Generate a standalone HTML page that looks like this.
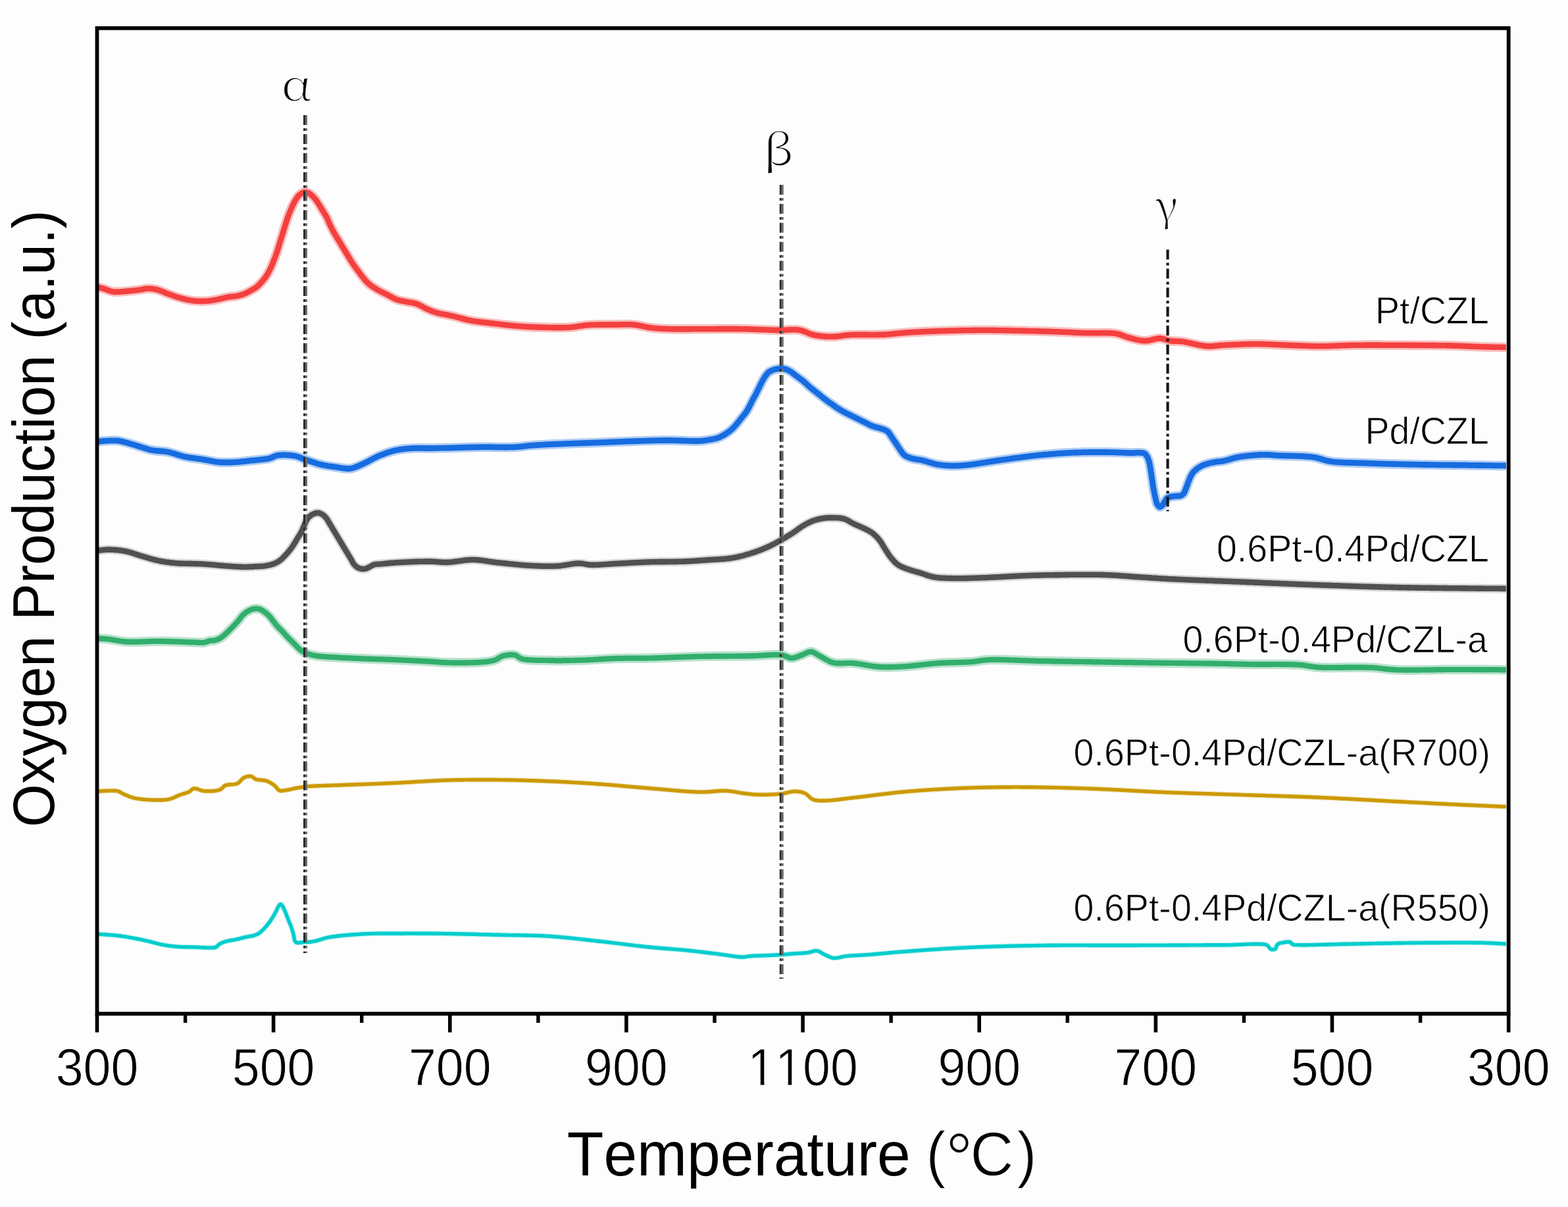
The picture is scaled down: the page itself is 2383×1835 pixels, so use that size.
<!DOCTYPE html>
<html><head><meta charset="utf-8"><title>Oxygen Production vs Temperature</title>
<style>
html,body{margin:0;padding:0;background:#fdfdfd;overflow:hidden;}
svg{display:block;}
text{font-kerning:none;font-feature-settings:"kern" 0;}
.sans{font-family:"Liberation Sans",Arial,sans-serif;}
.serif{font-family:"Liberation Serif","Times New Roman",serif;}
.greek{font-family:"Noto Serif CJK SC","Liberation Serif",serif;}
</style></head>
<body>
<svg width="2383" height="1835" viewBox="0 0 2383 1835">
<rect x="0" y="0" width="2383" height="1835" fill="#fdfdfd"/>
<g id="curves">
<path d="M149.0,436.4 L149.9,436.7 L152.2,437.3 L155.0,438.2 L157.8,439.0 L159.6,439.6 L161.5,440.3 L163.5,441.1 L165.5,441.8 L167.6,442.5 L169.8,443.1 L172.0,443.5 L174.0,443.7 L176.0,443.8 L178.2,443.8 L180.4,443.7 L182.6,443.6 L184.8,443.4 L187.1,443.2 L189.3,443.0 L191.4,442.8 L193.5,442.6 L195.8,442.4 L198.0,442.2 L200.3,442.0 L202.5,441.8 L204.6,441.6 L206.8,441.3 L208.9,441.1 L211.0,440.8 L213.2,440.5 L215.3,440.1 L217.4,439.7 L219.4,439.3 L221.5,439.0 L223.5,438.8 L225.6,438.7 L227.7,438.8 L229.7,438.9 L231.8,439.1 L233.9,439.5 L235.9,439.8 L238.0,440.3 L240.0,440.8 L242.0,441.4 L244.0,442.1 L245.9,442.9 L247.9,443.7 L249.9,444.6 L251.9,445.4 L254.0,446.2 L255.9,446.9 L257.8,447.6 L259.8,448.3 L261.8,449.0 L263.8,449.8 L265.8,450.5 L267.9,451.1 L269.9,451.8 L272.0,452.4 L273.9,452.9 L275.8,453.5 L277.8,454.0 L279.8,454.5 L281.7,455.0 L283.7,455.5 L285.7,455.9 L287.7,456.3 L289.6,456.6 L291.6,456.9 L293.8,457.2 L295.9,457.4 L298.1,457.6 L300.3,457.7 L302.5,457.8 L304.7,457.9 L306.8,457.9 L308.9,457.9 L311.0,457.8 L313.1,457.7 L315.1,457.6 L317.1,457.4 L319.0,457.2 L321.0,456.9 L323.0,456.6 L325.0,456.3 L327.0,456.0 L329.0,455.6 L330.9,455.2 L332.9,454.8 L335.0,454.3 L337.0,453.8 L339.0,453.3 L341.0,452.8 L343.0,452.4 L345.0,452.0 L347.2,451.6 L349.4,451.3 L351.7,451.0 L353.9,450.7 L356.1,450.5 L358.2,450.2 L360.2,449.9 L362.0,449.5 L364.4,449.0 L366.5,448.4 L368.6,447.8 L370.7,447.0 L372.8,446.1 L375.0,445.1 L377.2,443.9 L379.3,442.7 L381.4,441.6 L383.2,440.6 L385.0,439.6 L386.7,438.6 L388.3,437.5 L390.0,436.3 L391.5,435.0 L393.0,433.7 L394.4,432.2 L395.8,430.7 L397.2,429.2 L398.5,427.7 L399.9,426.1 L401.2,424.4 L402.5,422.8 L403.8,421.0 L405.0,419.2 L406.1,417.4 L407.2,415.5 L408.3,413.5 L409.4,411.5 L410.4,409.4 L411.4,407.4 L412.4,405.3 L413.3,403.1 L414.2,401.0 L415.0,398.8 L415.9,396.6 L416.7,394.5 L417.5,392.5 L418.2,390.6 L418.9,388.7 L419.6,386.8 L420.3,384.8 L421.0,382.8 L421.6,380.9 L422.3,378.9 L422.9,376.9 L423.5,374.9 L424.1,372.8 L424.7,370.8 L425.3,368.8 L425.9,366.8 L426.5,364.8 L427.1,362.8 L427.8,360.9 L428.4,358.9 L429.0,356.9 L429.6,354.9 L430.2,352.9 L430.8,350.9 L431.4,348.9 L432.1,346.9 L432.7,344.9 L433.3,343.0 L433.9,341.0 L434.6,338.8 L435.3,336.7 L435.9,334.6 L436.6,332.4 L437.3,330.3 L438.1,328.2 L438.9,326.0 L439.8,323.8 L440.7,321.7 L441.6,319.5 L442.6,317.4 L443.5,315.3 L444.5,313.0 L445.6,310.8 L446.6,308.7 L447.7,306.6 L448.8,304.6 L450.1,302.5 L451.4,300.6 L452.7,298.7 L454.2,297.1 L456.3,295.3 L458.5,293.8 L460.6,292.8 L462.7,292.3 L464.9,292.3 L466.8,292.7 L468.8,293.5 L470.7,294.5 L472.3,295.7 L474.0,297.1 L475.6,298.6 L477.1,300.3 L478.4,301.9 L479.7,303.5 L481.0,305.3 L482.3,307.1 L483.5,308.9 L484.6,310.6 L485.7,312.4 L486.8,314.2 L487.9,316.0 L488.9,317.8 L490.0,319.6 L491.1,321.4 L492.2,323.1 L493.3,324.9 L494.4,326.7 L495.4,328.5 L496.4,330.3 L497.4,332.2 L498.2,334.2 L499.1,336.2 L500.0,338.2 L500.8,340.2 L501.7,342.1 L502.7,344.3 L503.8,346.4 L504.9,348.6 L506.0,350.7 L507.1,352.8 L508.1,354.6 L509.2,356.4 L510.2,358.2 L511.3,359.9 L512.4,361.7 L513.5,363.5 L514.6,365.3 L515.6,367.1 L516.7,368.9 L517.8,370.6 L518.8,372.4 L519.9,374.2 L521.0,376.0 L522.1,377.8 L523.1,379.5 L524.2,381.3 L525.3,383.1 L526.4,384.9 L527.5,386.7 L528.5,388.5 L529.6,390.3 L530.7,392.1 L531.7,393.9 L532.8,395.6 L534.1,397.6 L535.3,399.5 L536.6,401.4 L537.9,403.3 L539.2,405.2 L540.5,407.0 L541.7,408.7 L543.0,410.4 L544.3,412.1 L545.6,413.8 L546.9,415.5 L548.1,417.3 L549.4,419.0 L550.7,420.7 L552.0,422.4 L553.6,424.3 L555.1,426.2 L556.8,428.0 L558.5,429.8 L560.1,431.2 L561.7,432.5 L563.4,433.8 L565.2,435.1 L567.0,436.3 L568.7,437.4 L570.4,438.5 L572.2,439.6 L574.1,440.7 L575.9,441.7 L577.7,442.7 L579.8,443.8 L581.9,444.8 L584.0,445.9 L586.2,446.9 L588.4,448.0 L590.1,448.9 L591.9,449.9 L593.7,450.9 L595.5,451.9 L597.4,452.9 L599.2,453.9 L601.1,454.8 L603.0,455.5 L605.1,456.2 L607.2,456.7 L609.3,457.2 L611.5,457.6 L613.6,458.0 L615.8,458.4 L617.9,458.8 L620.0,459.2 L622.1,459.6 L624.3,459.9 L626.4,460.3 L628.5,460.7 L630.6,461.2 L632.7,461.8 L634.6,462.5 L636.5,463.4 L638.3,464.3 L640.2,465.3 L642.0,466.3 L643.9,467.3 L645.7,468.3 L647.6,469.2 L649.7,470.1 L651.7,471.0 L653.7,471.9 L655.7,472.7 L657.8,473.6 L660.1,474.3 L662.4,475.1 L664.2,475.6 L666.2,476.1 L668.2,476.6 L670.2,477.0 L672.3,477.4 L674.4,477.8 L676.6,478.2 L678.8,478.6 L681.0,479.0 L683.2,479.5 L685.3,479.9 L687.5,480.4 L689.4,480.9 L691.4,481.3 L693.3,481.8 L695.3,482.4 L697.2,482.9 L699.2,483.4 L701.2,484.0 L703.1,484.5 L705.1,485.0 L707.1,485.5 L709.1,486.0 L711.0,486.5 L713.0,486.9 L715.0,487.3 L717.1,487.7 L719.1,488.0 L721.2,488.3 L723.2,488.6 L725.3,488.9 L727.3,489.2 L729.4,489.4 L731.4,489.7 L733.5,489.9 L735.7,490.1 L737.9,490.4 L740.1,490.6 L742.4,490.9 L744.3,491.1 L746.2,491.4 L748.1,491.6 L750.1,491.8 L752.1,492.1 L754.1,492.3 L756.2,492.6 L758.3,492.8 L760.4,493.1 L762.5,493.3 L764.6,493.6 L766.7,493.8 L768.8,494.1 L771.0,494.3 L773.1,494.5 L775.2,494.7 L777.3,494.9 L779.4,495.1 L781.5,495.3 L783.6,495.5 L785.7,495.7 L787.7,495.8 L789.8,496.0 L791.8,496.1 L793.9,496.3 L796.0,496.4 L798.0,496.5 L800.1,496.7 L802.1,496.8 L804.2,496.9 L806.3,497.0 L808.3,497.1 L810.4,497.2 L812.4,497.3 L814.5,497.4 L816.6,497.4 L818.6,497.5 L820.7,497.6 L822.7,497.6 L824.8,497.7 L826.9,497.8 L829.0,497.8 L831.1,497.9 L833.2,497.9 L835.3,498.0 L837.4,498.0 L839.6,498.0 L841.7,498.1 L843.8,498.1 L845.9,498.1 L848.0,498.1 L850.1,498.1 L852.2,498.1 L854.3,498.1 L856.3,498.1 L858.3,498.0 L860.3,498.0 L862.2,497.9 L864.1,497.8 L866.0,497.7 L868.3,497.5 L870.5,497.3 L872.6,497.1 L874.7,496.8 L876.7,496.5 L878.7,496.1 L880.8,495.8 L882.8,495.5 L884.8,495.2 L886.9,494.9 L889.0,494.6 L891.2,494.4 L893.5,494.2 L895.4,494.1 L897.3,494.0 L899.3,493.9 L901.3,493.8 L903.4,493.8 L905.5,493.7 L907.6,493.7 L909.8,493.6 L911.9,493.6 L914.1,493.6 L916.3,493.6 L918.4,493.6 L920.6,493.6 L922.7,493.6 L924.8,493.6 L926.9,493.6 L928.9,493.6 L930.9,493.6 L932.8,493.6 L934.7,493.6 L937.0,493.6 L939.2,493.5 L941.4,493.5 L943.6,493.4 L945.7,493.4 L947.8,493.3 L949.8,493.3 L951.9,493.2 L953.9,493.2 L956.0,493.3 L958.0,493.3 L960.1,493.4 L962.2,493.6 L964.3,493.8 L966.4,494.1 L968.6,494.4 L970.7,494.8 L972.8,495.2 L974.9,495.6 L977.0,496.0 L979.1,496.5 L981.2,496.9 L983.4,497.3 L985.5,497.7 L987.6,498.0 L989.7,498.3 L991.8,498.5 L993.8,498.8 L995.8,499.0 L997.8,499.1 L999.8,499.3 L1001.8,499.5 L1003.8,499.6 L1005.8,499.7 L1007.9,499.8 L1010.0,499.9 L1012.3,500.0 L1014.6,500.1 L1017.0,500.2 L1018.7,500.3 L1020.5,500.3 L1022.3,500.3 L1024.1,500.4 L1026.0,500.4 L1027.9,500.4 L1029.9,500.4 L1031.9,500.4 L1033.9,500.4 L1036.0,500.4 L1038.0,500.4 L1040.1,500.4 L1042.2,500.4 L1044.4,500.4 L1046.5,500.4 L1048.7,500.4 L1050.8,500.3 L1053.0,500.3 L1055.1,500.3 L1057.3,500.3 L1059.4,500.3 L1061.5,500.2 L1063.7,500.2 L1065.8,500.2 L1067.9,500.2 L1070.0,500.2 L1072.0,500.2 L1074.0,500.2 L1076.1,500.2 L1078.1,500.2 L1080.1,500.2 L1082.2,500.2 L1084.2,500.2 L1086.3,500.2 L1088.3,500.1 L1090.3,500.1 L1092.4,500.1 L1094.4,500.1 L1096.4,500.1 L1098.5,500.1 L1100.5,500.1 L1102.6,500.1 L1104.6,500.1 L1106.6,500.1 L1108.7,500.1 L1110.7,500.1 L1112.7,500.1 L1114.8,500.1 L1116.8,500.1 L1118.9,500.1 L1120.9,500.1 L1122.9,500.1 L1125.0,500.2 L1127.0,500.2 L1129.0,500.2 L1131.1,500.3 L1133.2,500.3 L1135.3,500.4 L1137.4,500.4 L1139.5,500.5 L1141.6,500.6 L1143.7,500.6 L1145.9,500.7 L1148.0,500.8 L1150.1,500.9 L1152.2,500.9 L1154.3,501.0 L1156.4,501.1 L1158.5,501.2 L1160.6,501.3 L1162.7,501.3 L1164.7,501.4 L1166.7,501.5 L1168.7,501.6 L1170.7,501.6 L1172.7,501.7 L1174.6,501.7 L1176.5,501.8 L1178.4,501.8 L1180.2,501.9 L1182.0,501.9 L1184.3,501.9 L1186.6,501.9 L1188.8,501.8 L1191.0,501.8 L1193.2,501.7 L1195.3,501.6 L1197.4,501.5 L1199.5,501.4 L1201.5,501.3 L1203.5,501.2 L1205.5,501.2 L1207.5,501.3 L1209.4,501.3 L1211.3,501.4 L1213.2,501.6 L1215.0,501.9 L1217.2,502.3 L1219.3,502.9 L1221.3,503.6 L1223.2,504.3 L1225.2,505.1 L1227.1,505.9 L1229.0,506.7 L1230.9,507.5 L1232.9,508.2 L1234.9,508.8 L1237.0,509.3 L1238.9,509.7 L1240.9,510.0 L1242.9,510.3 L1244.9,510.6 L1247.0,510.9 L1249.0,511.1 L1251.1,511.3 L1253.2,511.4 L1255.3,511.6 L1257.4,511.7 L1259.5,511.7 L1261.6,511.8 L1263.6,511.8 L1265.6,511.8 L1267.8,511.7 L1269.9,511.6 L1271.9,511.4 L1273.9,511.2 L1276.0,511.0 L1278.0,510.7 L1280.0,510.4 L1282.1,510.1 L1284.3,509.8 L1286.5,509.6 L1288.9,509.4 L1291.3,509.2 L1293.0,509.1 L1294.8,509.0 L1296.7,509.0 L1298.6,508.9 L1300.6,508.9 L1302.6,508.9 L1304.6,508.9 L1306.7,508.9 L1308.8,508.9 L1310.9,508.9 L1313.1,508.9 L1315.2,508.9 L1317.4,508.9 L1319.6,509.0 L1321.8,509.0 L1324.0,509.0 L1326.1,509.0 L1328.3,509.0 L1330.4,509.0 L1332.5,509.0 L1334.6,508.9 L1336.7,508.9 L1338.7,508.8 L1340.7,508.8 L1342.6,508.7 L1344.7,508.6 L1346.8,508.5 L1348.9,508.3 L1350.9,508.2 L1352.9,508.0 L1354.8,507.8 L1356.7,507.6 L1358.7,507.4 L1360.6,507.2 L1362.5,507.0 L1364.4,506.8 L1366.4,506.6 L1368.3,506.5 L1370.3,506.3 L1372.4,506.1 L1374.4,505.9 L1376.6,505.7 L1378.8,505.6 L1381.0,505.4 L1382.8,505.3 L1384.6,505.2 L1386.4,505.1 L1388.3,505.0 L1390.2,504.9 L1392.1,504.8 L1394.0,504.7 L1396.0,504.6 L1398.0,504.5 L1400.0,504.4 L1402.1,504.3 L1404.1,504.2 L1406.2,504.1 L1408.2,504.0 L1410.3,504.0 L1412.4,503.9 L1414.5,503.8 L1416.6,503.7 L1418.7,503.6 L1420.8,503.6 L1422.9,503.5 L1425.0,503.4 L1427.0,503.3 L1429.1,503.3 L1431.2,503.2 L1433.2,503.1 L1435.2,503.1 L1437.2,503.0 L1439.2,503.0 L1441.2,502.9 L1443.1,502.9 L1445.0,502.8 L1447.2,502.7 L1449.3,502.7 L1451.4,502.6 L1453.5,502.6 L1455.6,502.5 L1457.7,502.5 L1459.8,502.4 L1461.9,502.4 L1463.9,502.3 L1466.0,502.3 L1468.0,502.3 L1470.0,502.2 L1472.1,502.2 L1474.1,502.2 L1476.1,502.1 L1478.1,502.1 L1480.2,502.1 L1482.2,502.1 L1484.2,502.0 L1486.2,502.0 L1488.2,502.0 L1490.3,502.0 L1492.3,502.0 L1494.3,502.0 L1496.4,502.0 L1498.5,502.0 L1500.5,502.0 L1502.6,502.0 L1504.6,502.0 L1506.7,502.0 L1508.7,502.1 L1510.8,502.1 L1512.8,502.1 L1514.9,502.1 L1516.9,502.2 L1519.0,502.2 L1521.0,502.3 L1523.1,502.3 L1525.1,502.3 L1527.2,502.4 L1529.2,502.4 L1531.3,502.5 L1533.3,502.5 L1535.4,502.5 L1537.4,502.6 L1539.5,502.6 L1541.5,502.7 L1543.6,502.7 L1545.6,502.8 L1547.7,502.8 L1549.8,502.8 L1551.8,502.9 L1553.9,502.9 L1555.9,503.0 L1558.0,503.0 L1560.0,503.1 L1562.1,503.1 L1564.1,503.2 L1566.2,503.2 L1568.2,503.2 L1570.3,503.3 L1572.3,503.3 L1574.4,503.4 L1576.4,503.4 L1578.5,503.5 L1580.5,503.6 L1582.6,503.6 L1584.6,503.7 L1586.7,503.7 L1588.8,503.8 L1590.8,503.8 L1592.9,503.9 L1594.9,504.0 L1597.0,504.0 L1599.0,504.1 L1601.0,504.2 L1603.1,504.2 L1605.1,504.3 L1607.2,504.4 L1609.2,504.5 L1611.3,504.6 L1613.4,504.7 L1615.4,504.8 L1617.5,504.8 L1619.5,504.9 L1621.6,505.0 L1623.6,505.1 L1625.7,505.2 L1627.7,505.3 L1629.8,505.4 L1631.8,505.5 L1633.9,505.6 L1635.9,505.7 L1637.9,505.8 L1640.0,505.8 L1642.0,505.9 L1644.0,506.0 L1646.0,506.1 L1648.0,506.1 L1650.0,506.2 L1652.1,506.3 L1654.2,506.3 L1656.3,506.3 L1658.5,506.3 L1660.6,506.3 L1662.8,506.3 L1665.0,506.3 L1667.2,506.2 L1669.3,506.2 L1671.5,506.2 L1673.7,506.2 L1675.8,506.1 L1677.9,506.1 L1680.0,506.1 L1682.0,506.2 L1684.0,506.2 L1685.9,506.3 L1687.8,506.3 L1689.7,506.5 L1691.5,506.6 L1693.2,506.8 L1694.8,507.0 L1696.4,507.2 L1698.8,507.7 L1700.9,508.2 L1702.9,508.9 L1704.8,509.6 L1706.7,510.3 L1708.5,511.0 L1710.3,511.7 L1712.3,512.4 L1714.4,513.0 L1716.2,513.5 L1718.1,514.0 L1720.0,514.5 L1722.0,515.0 L1724.0,515.6 L1726.0,516.1 L1728.0,516.5 L1730.0,517.0 L1732.1,517.4 L1734.1,517.7 L1736.1,517.9 L1738.1,518.1 L1740.0,518.2 L1742.2,518.1 L1744.3,517.9 L1746.5,517.5 L1748.6,517.1 L1750.8,516.5 L1752.9,516.0 L1755.0,515.5 L1757.1,515.0 L1759.1,514.6 L1761.1,514.4 L1763.0,514.4 L1765.4,514.6 L1767.6,515.1 L1769.8,515.7 L1771.9,516.4 L1774.0,517.1 L1776.2,517.7 L1778.5,518.2 L1780.4,518.4 L1782.4,518.6 L1784.3,518.7 L1786.3,518.7 L1788.3,518.8 L1790.3,518.8 L1792.4,518.9 L1794.7,519.1 L1797.0,519.3 L1798.8,519.5 L1800.6,519.9 L1802.6,520.2 L1804.6,520.6 L1806.6,521.1 L1808.7,521.5 L1810.9,522.0 L1813.1,522.5 L1815.3,523.0 L1817.5,523.5 L1819.7,524.0 L1821.9,524.5 L1824.0,524.9 L1826.2,525.3 L1828.3,525.6 L1830.3,525.9 L1832.3,526.1 L1834.2,526.3 L1836.4,526.4 L1838.5,526.4 L1840.5,526.4 L1842.5,526.3 L1844.4,526.1 L1846.4,525.9 L1848.3,525.7 L1850.3,525.5 L1852.3,525.3 L1854.4,525.1 L1856.7,524.9 L1859.0,524.8 L1860.7,524.7 L1862.5,524.6 L1864.4,524.5 L1866.3,524.4 L1868.2,524.3 L1870.2,524.2 L1872.2,524.1 L1874.2,524.0 L1876.3,523.9 L1878.4,523.8 L1880.5,523.7 L1882.6,523.7 L1884.8,523.6 L1887.0,523.5 L1889.1,523.4 L1891.3,523.3 L1893.5,523.3 L1895.7,523.2 L1897.8,523.1 L1900.0,523.1 L1902.1,523.1 L1904.2,523.0 L1906.3,523.0 L1908.4,523.0 L1910.5,523.0 L1912.5,523.0 L1914.6,523.1 L1916.6,523.1 L1918.7,523.1 L1920.7,523.2 L1922.8,523.3 L1924.9,523.3 L1926.9,523.4 L1929.0,523.5 L1931.0,523.6 L1933.1,523.7 L1935.2,523.8 L1937.2,523.9 L1939.3,524.0 L1941.3,524.1 L1943.4,524.2 L1945.4,524.3 L1947.5,524.4 L1949.6,524.5 L1951.6,524.6 L1953.7,524.6 L1955.7,524.7 L1957.8,524.8 L1959.9,524.9 L1961.9,524.9 L1964.0,525.0 L1966.0,525.1 L1968.1,525.2 L1970.2,525.3 L1972.2,525.4 L1974.3,525.4 L1976.4,525.5 L1978.4,525.6 L1980.5,525.7 L1982.5,525.8 L1984.6,525.8 L1986.7,525.9 L1988.7,526.0 L1990.8,526.0 L1992.9,526.1 L1994.9,526.1 L1997.0,526.2 L1999.1,526.2 L2001.1,526.3 L2003.2,526.3 L2005.2,526.3 L2007.3,526.3 L2009.4,526.3 L2011.4,526.3 L2013.4,526.2 L2015.4,526.2 L2017.4,526.2 L2019.4,526.1 L2021.4,526.0 L2023.4,526.0 L2025.4,525.9 L2027.4,525.8 L2029.4,525.7 L2031.4,525.7 L2033.4,525.6 L2035.4,525.5 L2037.4,525.4 L2039.5,525.3 L2041.6,525.2 L2043.6,525.2 L2045.8,525.1 L2047.9,525.0 L2050.0,524.9 L2052.2,524.9 L2054.4,524.8 L2056.7,524.8 L2058.5,524.8 L2060.3,524.8 L2062.2,524.7 L2064.1,524.7 L2066.0,524.7 L2067.9,524.7 L2069.8,524.7 L2071.7,524.7 L2073.7,524.6 L2075.7,524.6 L2077.7,524.6 L2079.7,524.6 L2081.7,524.6 L2083.7,524.6 L2085.7,524.6 L2087.7,524.6 L2089.8,524.6 L2091.8,524.6 L2093.9,524.6 L2096.0,524.6 L2098.0,524.6 L2100.1,524.7 L2102.2,524.7 L2104.2,524.7 L2106.3,524.7 L2108.4,524.7 L2110.4,524.7 L2112.5,524.7 L2114.6,524.7 L2116.6,524.7 L2118.7,524.7 L2120.8,524.7 L2122.8,524.8 L2124.8,524.8 L2126.9,524.8 L2128.9,524.8 L2130.9,524.8 L2132.9,524.8 L2134.9,524.8 L2137.0,524.8 L2139.0,524.8 L2141.0,524.8 L2143.1,524.9 L2145.1,524.9 L2147.2,524.9 L2149.3,524.9 L2151.3,524.9 L2153.4,524.9 L2155.5,524.9 L2157.5,524.9 L2159.6,524.9 L2161.7,525.0 L2163.7,525.0 L2165.8,525.0 L2167.9,525.0 L2169.9,525.0 L2172.0,525.0 L2174.0,525.0 L2176.0,525.1 L2178.0,525.1 L2180.1,525.1 L2182.1,525.1 L2184.1,525.1 L2186.0,525.2 L2188.0,525.2 L2190.0,525.2 L2191.9,525.3 L2193.8,525.3 L2195.7,525.3 L2197.6,525.3 L2199.5,525.4 L2201.4,525.4 L2203.2,525.5 L2205.0,525.5 L2207.3,525.6 L2209.5,525.6 L2211.7,525.7 L2213.9,525.7 L2216.1,525.8 L2218.3,525.9 L2220.5,526.0 L2222.6,526.1 L2224.7,526.1 L2226.8,526.2 L2228.9,526.3 L2231.0,526.4 L2233.0,526.5 L2235.1,526.6 L2237.1,526.7 L2239.1,526.7 L2241.1,526.8 L2243.1,526.9 L2245.0,527.0 L2247.0,527.0 L2248.9,527.1 L2250.8,527.2 L2252.7,527.2 L2254.6,527.3 L2256.9,527.4 L2259.4,527.4 L2261.9,527.5 L2264.6,527.5 L2267.3,527.6 L2270.0,527.7 L2272.6,527.7 L2275.2,527.8 L2277.7,527.8 L2280.0,527.8 L2282.2,527.9 L2284.1,527.9 L2285.8,527.9 L2287.1,528.0 L2288.1,528.0 L2288.8,528.0 L2289.0,528.0" fill="none" stroke="#f4403f" stroke-opacity="0.33" stroke-width="14.5" stroke-linejoin="round" stroke-linecap="butt"/>
<path d="M149.0,436.4 L149.9,436.7 L152.2,437.3 L155.0,438.2 L157.8,439.0 L159.6,439.6 L161.5,440.3 L163.5,441.1 L165.5,441.8 L167.6,442.5 L169.8,443.1 L172.0,443.5 L174.0,443.7 L176.0,443.8 L178.2,443.8 L180.4,443.7 L182.6,443.6 L184.8,443.4 L187.1,443.2 L189.3,443.0 L191.4,442.8 L193.5,442.6 L195.8,442.4 L198.0,442.2 L200.3,442.0 L202.5,441.8 L204.6,441.6 L206.8,441.3 L208.9,441.1 L211.0,440.8 L213.2,440.5 L215.3,440.1 L217.4,439.7 L219.4,439.3 L221.5,439.0 L223.5,438.8 L225.6,438.7 L227.7,438.8 L229.7,438.9 L231.8,439.1 L233.9,439.5 L235.9,439.8 L238.0,440.3 L240.0,440.8 L242.0,441.4 L244.0,442.1 L245.9,442.9 L247.9,443.7 L249.9,444.6 L251.9,445.4 L254.0,446.2 L255.9,446.9 L257.8,447.6 L259.8,448.3 L261.8,449.0 L263.8,449.8 L265.8,450.5 L267.9,451.1 L269.9,451.8 L272.0,452.4 L273.9,452.9 L275.8,453.5 L277.8,454.0 L279.8,454.5 L281.7,455.0 L283.7,455.5 L285.7,455.9 L287.7,456.3 L289.6,456.6 L291.6,456.9 L293.8,457.2 L295.9,457.4 L298.1,457.6 L300.3,457.7 L302.5,457.8 L304.7,457.9 L306.8,457.9 L308.9,457.9 L311.0,457.8 L313.1,457.7 L315.1,457.6 L317.1,457.4 L319.0,457.2 L321.0,456.9 L323.0,456.6 L325.0,456.3 L327.0,456.0 L329.0,455.6 L330.9,455.2 L332.9,454.8 L335.0,454.3 L337.0,453.8 L339.0,453.3 L341.0,452.8 L343.0,452.4 L345.0,452.0 L347.2,451.6 L349.4,451.3 L351.7,451.0 L353.9,450.7 L356.1,450.5 L358.2,450.2 L360.2,449.9 L362.0,449.5 L364.4,449.0 L366.5,448.4 L368.6,447.8 L370.7,447.0 L372.8,446.1 L375.0,445.1 L377.2,443.9 L379.3,442.7 L381.4,441.6 L383.2,440.6 L385.0,439.6 L386.7,438.6 L388.3,437.5 L390.0,436.3 L391.5,435.0 L393.0,433.7 L394.4,432.2 L395.8,430.7 L397.2,429.2 L398.5,427.7 L399.9,426.1 L401.2,424.4 L402.5,422.8 L403.8,421.0 L405.0,419.2 L406.1,417.4 L407.2,415.5 L408.3,413.5 L409.4,411.5 L410.4,409.4 L411.4,407.4 L412.4,405.3 L413.3,403.1 L414.2,401.0 L415.0,398.8 L415.9,396.6 L416.7,394.5 L417.5,392.5 L418.2,390.6 L418.9,388.7 L419.6,386.8 L420.3,384.8 L421.0,382.8 L421.6,380.9 L422.3,378.9 L422.9,376.9 L423.5,374.9 L424.1,372.8 L424.7,370.8 L425.3,368.8 L425.9,366.8 L426.5,364.8 L427.1,362.8 L427.8,360.9 L428.4,358.9 L429.0,356.9 L429.6,354.9 L430.2,352.9 L430.8,350.9 L431.4,348.9 L432.1,346.9 L432.7,344.9 L433.3,343.0 L433.9,341.0 L434.6,338.8 L435.3,336.7 L435.9,334.6 L436.6,332.4 L437.3,330.3 L438.1,328.2 L438.9,326.0 L439.8,323.8 L440.7,321.7 L441.6,319.5 L442.6,317.4 L443.5,315.3 L444.5,313.0 L445.6,310.8 L446.6,308.7 L447.7,306.6 L448.8,304.6 L450.1,302.5 L451.4,300.6 L452.7,298.7 L454.2,297.1 L456.3,295.3 L458.5,293.8 L460.6,292.8 L462.7,292.3 L464.9,292.3 L466.8,292.7 L468.8,293.5 L470.7,294.5 L472.3,295.7 L474.0,297.1 L475.6,298.6 L477.1,300.3 L478.4,301.9 L479.7,303.5 L481.0,305.3 L482.3,307.1 L483.5,308.9 L484.6,310.6 L485.7,312.4 L486.8,314.2 L487.9,316.0 L488.9,317.8 L490.0,319.6 L491.1,321.4 L492.2,323.1 L493.3,324.9 L494.4,326.7 L495.4,328.5 L496.4,330.3 L497.4,332.2 L498.2,334.2 L499.1,336.2 L500.0,338.2 L500.8,340.2 L501.7,342.1 L502.7,344.3 L503.8,346.4 L504.9,348.6 L506.0,350.7 L507.1,352.8 L508.1,354.6 L509.2,356.4 L510.2,358.2 L511.3,359.9 L512.4,361.7 L513.5,363.5 L514.6,365.3 L515.6,367.1 L516.7,368.9 L517.8,370.6 L518.8,372.4 L519.9,374.2 L521.0,376.0 L522.1,377.8 L523.1,379.5 L524.2,381.3 L525.3,383.1 L526.4,384.9 L527.5,386.7 L528.5,388.5 L529.6,390.3 L530.7,392.1 L531.7,393.9 L532.8,395.6 L534.1,397.6 L535.3,399.5 L536.6,401.4 L537.9,403.3 L539.2,405.2 L540.5,407.0 L541.7,408.7 L543.0,410.4 L544.3,412.1 L545.6,413.8 L546.9,415.5 L548.1,417.3 L549.4,419.0 L550.7,420.7 L552.0,422.4 L553.6,424.3 L555.1,426.2 L556.8,428.0 L558.5,429.8 L560.1,431.2 L561.7,432.5 L563.4,433.8 L565.2,435.1 L567.0,436.3 L568.7,437.4 L570.4,438.5 L572.2,439.6 L574.1,440.7 L575.9,441.7 L577.7,442.7 L579.8,443.8 L581.9,444.8 L584.0,445.9 L586.2,446.9 L588.4,448.0 L590.1,448.9 L591.9,449.9 L593.7,450.9 L595.5,451.9 L597.4,452.9 L599.2,453.9 L601.1,454.8 L603.0,455.5 L605.1,456.2 L607.2,456.7 L609.3,457.2 L611.5,457.6 L613.6,458.0 L615.8,458.4 L617.9,458.8 L620.0,459.2 L622.1,459.6 L624.3,459.9 L626.4,460.3 L628.5,460.7 L630.6,461.2 L632.7,461.8 L634.6,462.5 L636.5,463.4 L638.3,464.3 L640.2,465.3 L642.0,466.3 L643.9,467.3 L645.7,468.3 L647.6,469.2 L649.7,470.1 L651.7,471.0 L653.7,471.9 L655.7,472.7 L657.8,473.6 L660.1,474.3 L662.4,475.1 L664.2,475.6 L666.2,476.1 L668.2,476.6 L670.2,477.0 L672.3,477.4 L674.4,477.8 L676.6,478.2 L678.8,478.6 L681.0,479.0 L683.2,479.5 L685.3,479.9 L687.5,480.4 L689.4,480.9 L691.4,481.3 L693.3,481.8 L695.3,482.4 L697.2,482.9 L699.2,483.4 L701.2,484.0 L703.1,484.5 L705.1,485.0 L707.1,485.5 L709.1,486.0 L711.0,486.5 L713.0,486.9 L715.0,487.3 L717.1,487.7 L719.1,488.0 L721.2,488.3 L723.2,488.6 L725.3,488.9 L727.3,489.2 L729.4,489.4 L731.4,489.7 L733.5,489.9 L735.7,490.1 L737.9,490.4 L740.1,490.6 L742.4,490.9 L744.3,491.1 L746.2,491.4 L748.1,491.6 L750.1,491.8 L752.1,492.1 L754.1,492.3 L756.2,492.6 L758.3,492.8 L760.4,493.1 L762.5,493.3 L764.6,493.6 L766.7,493.8 L768.8,494.1 L771.0,494.3 L773.1,494.5 L775.2,494.7 L777.3,494.9 L779.4,495.1 L781.5,495.3 L783.6,495.5 L785.7,495.7 L787.7,495.8 L789.8,496.0 L791.8,496.1 L793.9,496.3 L796.0,496.4 L798.0,496.5 L800.1,496.7 L802.1,496.8 L804.2,496.9 L806.3,497.0 L808.3,497.1 L810.4,497.2 L812.4,497.3 L814.5,497.4 L816.6,497.4 L818.6,497.5 L820.7,497.6 L822.7,497.6 L824.8,497.7 L826.9,497.8 L829.0,497.8 L831.1,497.9 L833.2,497.9 L835.3,498.0 L837.4,498.0 L839.6,498.0 L841.7,498.1 L843.8,498.1 L845.9,498.1 L848.0,498.1 L850.1,498.1 L852.2,498.1 L854.3,498.1 L856.3,498.1 L858.3,498.0 L860.3,498.0 L862.2,497.9 L864.1,497.8 L866.0,497.7 L868.3,497.5 L870.5,497.3 L872.6,497.1 L874.7,496.8 L876.7,496.5 L878.7,496.1 L880.8,495.8 L882.8,495.5 L884.8,495.2 L886.9,494.9 L889.0,494.6 L891.2,494.4 L893.5,494.2 L895.4,494.1 L897.3,494.0 L899.3,493.9 L901.3,493.8 L903.4,493.8 L905.5,493.7 L907.6,493.7 L909.8,493.6 L911.9,493.6 L914.1,493.6 L916.3,493.6 L918.4,493.6 L920.6,493.6 L922.7,493.6 L924.8,493.6 L926.9,493.6 L928.9,493.6 L930.9,493.6 L932.8,493.6 L934.7,493.6 L937.0,493.6 L939.2,493.5 L941.4,493.5 L943.6,493.4 L945.7,493.4 L947.8,493.3 L949.8,493.3 L951.9,493.2 L953.9,493.2 L956.0,493.3 L958.0,493.3 L960.1,493.4 L962.2,493.6 L964.3,493.8 L966.4,494.1 L968.6,494.4 L970.7,494.8 L972.8,495.2 L974.9,495.6 L977.0,496.0 L979.1,496.5 L981.2,496.9 L983.4,497.3 L985.5,497.7 L987.6,498.0 L989.7,498.3 L991.8,498.5 L993.8,498.8 L995.8,499.0 L997.8,499.1 L999.8,499.3 L1001.8,499.5 L1003.8,499.6 L1005.8,499.7 L1007.9,499.8 L1010.0,499.9 L1012.3,500.0 L1014.6,500.1 L1017.0,500.2 L1018.7,500.3 L1020.5,500.3 L1022.3,500.3 L1024.1,500.4 L1026.0,500.4 L1027.9,500.4 L1029.9,500.4 L1031.9,500.4 L1033.9,500.4 L1036.0,500.4 L1038.0,500.4 L1040.1,500.4 L1042.2,500.4 L1044.4,500.4 L1046.5,500.4 L1048.7,500.4 L1050.8,500.3 L1053.0,500.3 L1055.1,500.3 L1057.3,500.3 L1059.4,500.3 L1061.5,500.2 L1063.7,500.2 L1065.8,500.2 L1067.9,500.2 L1070.0,500.2 L1072.0,500.2 L1074.0,500.2 L1076.1,500.2 L1078.1,500.2 L1080.1,500.2 L1082.2,500.2 L1084.2,500.2 L1086.3,500.2 L1088.3,500.1 L1090.3,500.1 L1092.4,500.1 L1094.4,500.1 L1096.4,500.1 L1098.5,500.1 L1100.5,500.1 L1102.6,500.1 L1104.6,500.1 L1106.6,500.1 L1108.7,500.1 L1110.7,500.1 L1112.7,500.1 L1114.8,500.1 L1116.8,500.1 L1118.9,500.1 L1120.9,500.1 L1122.9,500.1 L1125.0,500.2 L1127.0,500.2 L1129.0,500.2 L1131.1,500.3 L1133.2,500.3 L1135.3,500.4 L1137.4,500.4 L1139.5,500.5 L1141.6,500.6 L1143.7,500.6 L1145.9,500.7 L1148.0,500.8 L1150.1,500.9 L1152.2,500.9 L1154.3,501.0 L1156.4,501.1 L1158.5,501.2 L1160.6,501.3 L1162.7,501.3 L1164.7,501.4 L1166.7,501.5 L1168.7,501.6 L1170.7,501.6 L1172.7,501.7 L1174.6,501.7 L1176.5,501.8 L1178.4,501.8 L1180.2,501.9 L1182.0,501.9 L1184.3,501.9 L1186.6,501.9 L1188.8,501.8 L1191.0,501.8 L1193.2,501.7 L1195.3,501.6 L1197.4,501.5 L1199.5,501.4 L1201.5,501.3 L1203.5,501.2 L1205.5,501.2 L1207.5,501.3 L1209.4,501.3 L1211.3,501.4 L1213.2,501.6 L1215.0,501.9 L1217.2,502.3 L1219.3,502.9 L1221.3,503.6 L1223.2,504.3 L1225.2,505.1 L1227.1,505.9 L1229.0,506.7 L1230.9,507.5 L1232.9,508.2 L1234.9,508.8 L1237.0,509.3 L1238.9,509.7 L1240.9,510.0 L1242.9,510.3 L1244.9,510.6 L1247.0,510.9 L1249.0,511.1 L1251.1,511.3 L1253.2,511.4 L1255.3,511.6 L1257.4,511.7 L1259.5,511.7 L1261.6,511.8 L1263.6,511.8 L1265.6,511.8 L1267.8,511.7 L1269.9,511.6 L1271.9,511.4 L1273.9,511.2 L1276.0,511.0 L1278.0,510.7 L1280.0,510.4 L1282.1,510.1 L1284.3,509.8 L1286.5,509.6 L1288.9,509.4 L1291.3,509.2 L1293.0,509.1 L1294.8,509.0 L1296.7,509.0 L1298.6,508.9 L1300.6,508.9 L1302.6,508.9 L1304.6,508.9 L1306.7,508.9 L1308.8,508.9 L1310.9,508.9 L1313.1,508.9 L1315.2,508.9 L1317.4,508.9 L1319.6,509.0 L1321.8,509.0 L1324.0,509.0 L1326.1,509.0 L1328.3,509.0 L1330.4,509.0 L1332.5,509.0 L1334.6,508.9 L1336.7,508.9 L1338.7,508.8 L1340.7,508.8 L1342.6,508.7 L1344.7,508.6 L1346.8,508.5 L1348.9,508.3 L1350.9,508.2 L1352.9,508.0 L1354.8,507.8 L1356.7,507.6 L1358.7,507.4 L1360.6,507.2 L1362.5,507.0 L1364.4,506.8 L1366.4,506.6 L1368.3,506.5 L1370.3,506.3 L1372.4,506.1 L1374.4,505.9 L1376.6,505.7 L1378.8,505.6 L1381.0,505.4 L1382.8,505.3 L1384.6,505.2 L1386.4,505.1 L1388.3,505.0 L1390.2,504.9 L1392.1,504.8 L1394.0,504.7 L1396.0,504.6 L1398.0,504.5 L1400.0,504.4 L1402.1,504.3 L1404.1,504.2 L1406.2,504.1 L1408.2,504.0 L1410.3,504.0 L1412.4,503.9 L1414.5,503.8 L1416.6,503.7 L1418.7,503.6 L1420.8,503.6 L1422.9,503.5 L1425.0,503.4 L1427.0,503.3 L1429.1,503.3 L1431.2,503.2 L1433.2,503.1 L1435.2,503.1 L1437.2,503.0 L1439.2,503.0 L1441.2,502.9 L1443.1,502.9 L1445.0,502.8 L1447.2,502.7 L1449.3,502.7 L1451.4,502.6 L1453.5,502.6 L1455.6,502.5 L1457.7,502.5 L1459.8,502.4 L1461.9,502.4 L1463.9,502.3 L1466.0,502.3 L1468.0,502.3 L1470.0,502.2 L1472.1,502.2 L1474.1,502.2 L1476.1,502.1 L1478.1,502.1 L1480.2,502.1 L1482.2,502.1 L1484.2,502.0 L1486.2,502.0 L1488.2,502.0 L1490.3,502.0 L1492.3,502.0 L1494.3,502.0 L1496.4,502.0 L1498.5,502.0 L1500.5,502.0 L1502.6,502.0 L1504.6,502.0 L1506.7,502.0 L1508.7,502.1 L1510.8,502.1 L1512.8,502.1 L1514.9,502.1 L1516.9,502.2 L1519.0,502.2 L1521.0,502.3 L1523.1,502.3 L1525.1,502.3 L1527.2,502.4 L1529.2,502.4 L1531.3,502.5 L1533.3,502.5 L1535.4,502.5 L1537.4,502.6 L1539.5,502.6 L1541.5,502.7 L1543.6,502.7 L1545.6,502.8 L1547.7,502.8 L1549.8,502.8 L1551.8,502.9 L1553.9,502.9 L1555.9,503.0 L1558.0,503.0 L1560.0,503.1 L1562.1,503.1 L1564.1,503.2 L1566.2,503.2 L1568.2,503.2 L1570.3,503.3 L1572.3,503.3 L1574.4,503.4 L1576.4,503.4 L1578.5,503.5 L1580.5,503.6 L1582.6,503.6 L1584.6,503.7 L1586.7,503.7 L1588.8,503.8 L1590.8,503.8 L1592.9,503.9 L1594.9,504.0 L1597.0,504.0 L1599.0,504.1 L1601.0,504.2 L1603.1,504.2 L1605.1,504.3 L1607.2,504.4 L1609.2,504.5 L1611.3,504.6 L1613.4,504.7 L1615.4,504.8 L1617.5,504.8 L1619.5,504.9 L1621.6,505.0 L1623.6,505.1 L1625.7,505.2 L1627.7,505.3 L1629.8,505.4 L1631.8,505.5 L1633.9,505.6 L1635.9,505.7 L1637.9,505.8 L1640.0,505.8 L1642.0,505.9 L1644.0,506.0 L1646.0,506.1 L1648.0,506.1 L1650.0,506.2 L1652.1,506.3 L1654.2,506.3 L1656.3,506.3 L1658.5,506.3 L1660.6,506.3 L1662.8,506.3 L1665.0,506.3 L1667.2,506.2 L1669.3,506.2 L1671.5,506.2 L1673.7,506.2 L1675.8,506.1 L1677.9,506.1 L1680.0,506.1 L1682.0,506.2 L1684.0,506.2 L1685.9,506.3 L1687.8,506.3 L1689.7,506.5 L1691.5,506.6 L1693.2,506.8 L1694.8,507.0 L1696.4,507.2 L1698.8,507.7 L1700.9,508.2 L1702.9,508.9 L1704.8,509.6 L1706.7,510.3 L1708.5,511.0 L1710.3,511.7 L1712.3,512.4 L1714.4,513.0 L1716.2,513.5 L1718.1,514.0 L1720.0,514.5 L1722.0,515.0 L1724.0,515.6 L1726.0,516.1 L1728.0,516.5 L1730.0,517.0 L1732.1,517.4 L1734.1,517.7 L1736.1,517.9 L1738.1,518.1 L1740.0,518.2 L1742.2,518.1 L1744.3,517.9 L1746.5,517.5 L1748.6,517.1 L1750.8,516.5 L1752.9,516.0 L1755.0,515.5 L1757.1,515.0 L1759.1,514.6 L1761.1,514.4 L1763.0,514.4 L1765.4,514.6 L1767.6,515.1 L1769.8,515.7 L1771.9,516.4 L1774.0,517.1 L1776.2,517.7 L1778.5,518.2 L1780.4,518.4 L1782.4,518.6 L1784.3,518.7 L1786.3,518.7 L1788.3,518.8 L1790.3,518.8 L1792.4,518.9 L1794.7,519.1 L1797.0,519.3 L1798.8,519.5 L1800.6,519.9 L1802.6,520.2 L1804.6,520.6 L1806.6,521.1 L1808.7,521.5 L1810.9,522.0 L1813.1,522.5 L1815.3,523.0 L1817.5,523.5 L1819.7,524.0 L1821.9,524.5 L1824.0,524.9 L1826.2,525.3 L1828.3,525.6 L1830.3,525.9 L1832.3,526.1 L1834.2,526.3 L1836.4,526.4 L1838.5,526.4 L1840.5,526.4 L1842.5,526.3 L1844.4,526.1 L1846.4,525.9 L1848.3,525.7 L1850.3,525.5 L1852.3,525.3 L1854.4,525.1 L1856.7,524.9 L1859.0,524.8 L1860.7,524.7 L1862.5,524.6 L1864.4,524.5 L1866.3,524.4 L1868.2,524.3 L1870.2,524.2 L1872.2,524.1 L1874.2,524.0 L1876.3,523.9 L1878.4,523.8 L1880.5,523.7 L1882.6,523.7 L1884.8,523.6 L1887.0,523.5 L1889.1,523.4 L1891.3,523.3 L1893.5,523.3 L1895.7,523.2 L1897.8,523.1 L1900.0,523.1 L1902.1,523.1 L1904.2,523.0 L1906.3,523.0 L1908.4,523.0 L1910.5,523.0 L1912.5,523.0 L1914.6,523.1 L1916.6,523.1 L1918.7,523.1 L1920.7,523.2 L1922.8,523.3 L1924.9,523.3 L1926.9,523.4 L1929.0,523.5 L1931.0,523.6 L1933.1,523.7 L1935.2,523.8 L1937.2,523.9 L1939.3,524.0 L1941.3,524.1 L1943.4,524.2 L1945.4,524.3 L1947.5,524.4 L1949.6,524.5 L1951.6,524.6 L1953.7,524.6 L1955.7,524.7 L1957.8,524.8 L1959.9,524.9 L1961.9,524.9 L1964.0,525.0 L1966.0,525.1 L1968.1,525.2 L1970.2,525.3 L1972.2,525.4 L1974.3,525.4 L1976.4,525.5 L1978.4,525.6 L1980.5,525.7 L1982.5,525.8 L1984.6,525.8 L1986.7,525.9 L1988.7,526.0 L1990.8,526.0 L1992.9,526.1 L1994.9,526.1 L1997.0,526.2 L1999.1,526.2 L2001.1,526.3 L2003.2,526.3 L2005.2,526.3 L2007.3,526.3 L2009.4,526.3 L2011.4,526.3 L2013.4,526.2 L2015.4,526.2 L2017.4,526.2 L2019.4,526.1 L2021.4,526.0 L2023.4,526.0 L2025.4,525.9 L2027.4,525.8 L2029.4,525.7 L2031.4,525.7 L2033.4,525.6 L2035.4,525.5 L2037.4,525.4 L2039.5,525.3 L2041.6,525.2 L2043.6,525.2 L2045.8,525.1 L2047.9,525.0 L2050.0,524.9 L2052.2,524.9 L2054.4,524.8 L2056.7,524.8 L2058.5,524.8 L2060.3,524.8 L2062.2,524.7 L2064.1,524.7 L2066.0,524.7 L2067.9,524.7 L2069.8,524.7 L2071.7,524.7 L2073.7,524.6 L2075.7,524.6 L2077.7,524.6 L2079.7,524.6 L2081.7,524.6 L2083.7,524.6 L2085.7,524.6 L2087.7,524.6 L2089.8,524.6 L2091.8,524.6 L2093.9,524.6 L2096.0,524.6 L2098.0,524.6 L2100.1,524.7 L2102.2,524.7 L2104.2,524.7 L2106.3,524.7 L2108.4,524.7 L2110.4,524.7 L2112.5,524.7 L2114.6,524.7 L2116.6,524.7 L2118.7,524.7 L2120.8,524.7 L2122.8,524.8 L2124.8,524.8 L2126.9,524.8 L2128.9,524.8 L2130.9,524.8 L2132.9,524.8 L2134.9,524.8 L2137.0,524.8 L2139.0,524.8 L2141.0,524.8 L2143.1,524.9 L2145.1,524.9 L2147.2,524.9 L2149.3,524.9 L2151.3,524.9 L2153.4,524.9 L2155.5,524.9 L2157.5,524.9 L2159.6,524.9 L2161.7,525.0 L2163.7,525.0 L2165.8,525.0 L2167.9,525.0 L2169.9,525.0 L2172.0,525.0 L2174.0,525.0 L2176.0,525.1 L2178.0,525.1 L2180.1,525.1 L2182.1,525.1 L2184.1,525.1 L2186.0,525.2 L2188.0,525.2 L2190.0,525.2 L2191.9,525.3 L2193.8,525.3 L2195.7,525.3 L2197.6,525.3 L2199.5,525.4 L2201.4,525.4 L2203.2,525.5 L2205.0,525.5 L2207.3,525.6 L2209.5,525.6 L2211.7,525.7 L2213.9,525.7 L2216.1,525.8 L2218.3,525.9 L2220.5,526.0 L2222.6,526.1 L2224.7,526.1 L2226.8,526.2 L2228.9,526.3 L2231.0,526.4 L2233.0,526.5 L2235.1,526.6 L2237.1,526.7 L2239.1,526.7 L2241.1,526.8 L2243.1,526.9 L2245.0,527.0 L2247.0,527.0 L2248.9,527.1 L2250.8,527.2 L2252.7,527.2 L2254.6,527.3 L2256.9,527.4 L2259.4,527.4 L2261.9,527.5 L2264.6,527.5 L2267.3,527.6 L2270.0,527.7 L2272.6,527.7 L2275.2,527.8 L2277.7,527.8 L2280.0,527.8 L2282.2,527.9 L2284.1,527.9 L2285.8,527.9 L2287.1,528.0 L2288.1,528.0 L2288.8,528.0 L2289.0,528.0" fill="none" stroke="#f4403f" stroke-width="8.6" stroke-linejoin="round" stroke-linecap="butt"/>
<path d="M149.0,671.3 L149.3,671.3 L150.1,671.2 L151.5,671.0 L153.2,670.9 L155.3,670.7 L157.6,670.5 L160.2,670.3 L162.9,670.1 L165.7,670.0 L168.5,669.8 L171.3,669.8 L173.9,669.8 L176.3,669.8 L178.5,670.0 L180.5,670.2 L182.6,670.6 L184.6,670.9 L186.5,671.4 L188.5,671.9 L190.5,672.4 L192.4,672.9 L194.4,673.5 L196.3,674.1 L198.2,674.7 L200.2,675.3 L202.1,675.8 L204.1,676.4 L206.1,677.0 L208.0,677.6 L210.0,678.2 L212.0,678.8 L213.9,679.5 L215.9,680.1 L217.9,680.8 L219.8,681.4 L221.8,682.0 L223.8,682.6 L225.7,683.2 L227.7,683.7 L229.7,684.1 L231.8,684.5 L234.0,684.8 L236.1,685.1 L238.2,685.3 L240.4,685.5 L242.5,685.7 L244.7,685.9 L246.8,686.0 L249.0,686.2 L251.1,686.5 L253.3,686.8 L255.4,687.2 L257.4,687.6 L259.4,688.1 L261.3,688.7 L263.3,689.2 L265.3,689.8 L267.2,690.4 L269.2,691.1 L271.1,691.7 L273.1,692.3 L275.1,692.9 L277.0,693.4 L279.0,693.9 L281.0,694.4 L283.1,694.8 L285.3,695.2 L287.4,695.6 L289.5,695.9 L291.7,696.2 L293.8,696.5 L296.0,696.7 L298.1,697.0 L300.3,697.3 L302.4,697.6 L304.6,697.9 L306.7,698.2 L308.8,698.6 L311.0,698.9 L313.1,699.4 L315.2,699.8 L317.4,700.2 L319.5,700.6 L321.6,701.0 L323.8,701.4 L325.9,701.8 L328.0,702.1 L330.2,702.4 L332.3,702.6 L334.4,702.8 L336.6,702.9 L338.7,703.0 L340.9,703.0 L343.0,703.0 L345.1,703.0 L347.3,703.0 L349.4,703.0 L351.6,702.9 L353.7,702.8 L355.9,702.7 L358.0,702.6 L360.1,702.5 L362.3,702.3 L364.4,702.1 L366.5,701.9 L368.7,701.7 L370.8,701.5 L372.9,701.3 L375.1,701.0 L377.2,700.7 L379.3,700.5 L381.5,700.2 L383.6,700.0 L385.8,699.8 L388.0,699.6 L390.2,699.3 L392.5,699.1 L394.7,698.9 L397.0,698.7 L399.2,698.5 L401.4,698.2 L403.5,698.0 L405.5,697.6 L407.4,697.3 L409.2,696.9 L411.6,696.2 L413.6,695.4 L415.6,694.5 L417.5,693.6 L419.6,692.8 L422.0,692.3 L423.8,692.1 L425.8,691.9 L427.9,691.8 L430.1,691.7 L432.4,691.7 L434.7,691.8 L437.0,691.9 L439.3,692.1 L441.6,692.3 L443.7,692.5 L445.8,692.8 L447.7,693.1 L449.8,693.5 L451.8,694.1 L453.6,694.7 L455.4,695.3 L457.2,696.0 L459.1,696.8 L461.0,697.5 L463.0,698.2 L464.8,698.8 L466.6,699.4 L468.4,700.1 L470.3,700.8 L472.2,701.5 L474.2,702.2 L476.2,702.9 L478.2,703.5 L480.2,704.2 L482.2,704.8 L484.2,705.4 L486.2,705.9 L488.3,706.4 L490.4,706.9 L492.5,707.3 L494.7,707.7 L496.9,708.1 L499.1,708.5 L501.2,708.8 L503.4,709.1 L505.6,709.4 L507.7,709.7 L509.8,710.0 L511.8,710.3 L513.9,710.6 L516.1,711.0 L518.2,711.3 L520.2,711.7 L522.3,712.0 L524.3,712.2 L526.4,712.4 L528.4,712.5 L530.3,712.5 L532.3,712.3 L534.4,712.0 L536.4,711.5 L538.3,710.9 L540.3,710.2 L542.2,709.4 L544.2,708.6 L546.2,707.7 L548.2,706.8 L550.3,705.9 L552.0,705.1 L553.7,704.3 L555.5,703.4 L557.3,702.5 L559.1,701.6 L561.0,700.6 L562.8,699.6 L564.7,698.6 L566.5,697.6 L568.4,696.6 L570.3,695.7 L572.2,694.8 L574.0,693.9 L575.9,693.1 L577.8,692.3 L579.8,691.5 L581.7,690.8 L583.7,690.0 L585.7,689.3 L587.6,688.6 L589.6,687.9 L591.6,687.3 L593.6,686.7 L595.5,686.1 L597.5,685.6 L599.5,685.1 L601.5,684.6 L603.6,684.2 L605.7,683.7 L607.9,683.4 L610.0,683.1 L612.2,682.8 L614.3,682.5 L616.5,682.3 L618.6,682.1 L620.8,681.9 L622.9,681.8 L625.1,681.6 L627.2,681.5 L629.3,681.4 L631.5,681.3 L633.6,681.3 L635.7,681.3 L637.8,681.3 L639.9,681.3 L642.1,681.4 L644.2,681.4 L646.3,681.5 L648.5,681.5 L650.6,681.5 L652.8,681.5 L654.8,681.5 L656.9,681.5 L658.8,681.4 L660.8,681.4 L662.8,681.4 L664.8,681.3 L666.8,681.3 L668.9,681.2 L671.0,681.2 L673.1,681.2 L675.3,681.1 L677.6,681.1 L680.0,681.0 L681.8,681.0 L683.6,680.9 L685.4,680.9 L687.3,680.8 L689.2,680.8 L691.2,680.7 L693.2,680.7 L695.2,680.6 L697.3,680.5 L699.4,680.5 L701.5,680.4 L703.6,680.3 L705.7,680.3 L707.9,680.2 L710.0,680.2 L712.2,680.1 L714.3,680.0 L716.5,680.0 L718.6,679.9 L720.8,679.9 L722.9,679.8 L725.0,679.8 L727.1,679.8 L729.2,679.7 L731.3,679.7 L733.4,679.7 L735.5,679.7 L737.6,679.7 L739.7,679.7 L741.8,679.7 L744.0,679.7 L746.2,679.7 L748.3,679.7 L750.5,679.8 L752.7,679.8 L754.8,679.8 L757.0,679.9 L759.1,679.9 L761.3,679.9 L763.4,679.9 L765.4,680.0 L767.5,680.0 L769.5,680.0 L771.5,680.0 L773.5,679.9 L775.4,679.9 L777.3,679.9 L779.1,679.8 L780.9,679.8 L782.6,679.7 L785.0,679.6 L787.3,679.4 L789.4,679.2 L791.5,679.0 L793.4,678.8 L795.4,678.5 L797.4,678.3 L799.3,678.1 L801.4,677.8 L803.5,677.6 L805.8,677.4 L808.2,677.2 L809.9,677.1 L811.7,677.0 L813.5,676.8 L815.4,676.7 L817.3,676.6 L819.3,676.5 L821.3,676.4 L823.3,676.3 L825.4,676.2 L827.4,676.0 L829.5,675.9 L831.7,675.8 L833.8,675.7 L836.0,675.6 L838.1,675.5 L840.3,675.4 L842.5,675.3 L844.6,675.2 L846.8,675.1 L849.0,675.1 L851.1,675.0 L853.2,674.9 L855.3,674.8 L857.4,674.7 L859.5,674.6 L861.6,674.5 L863.6,674.4 L865.7,674.3 L867.7,674.3 L869.8,674.2 L871.8,674.1 L873.9,674.0 L875.9,674.0 L878.0,673.9 L880.0,673.8 L882.1,673.8 L884.1,673.7 L886.2,673.6 L888.2,673.6 L890.3,673.5 L892.3,673.4 L894.4,673.4 L896.4,673.3 L898.5,673.2 L900.5,673.2 L902.6,673.1 L904.6,673.0 L906.7,672.9 L908.7,672.9 L910.8,672.8 L912.8,672.7 L914.9,672.6 L916.9,672.6 L919.0,672.5 L921.0,672.4 L923.1,672.3 L925.1,672.2 L927.2,672.2 L929.2,672.1 L931.3,672.0 L933.3,671.9 L935.4,671.8 L937.4,671.7 L939.5,671.6 L941.5,671.6 L943.6,671.5 L945.6,671.4 L947.7,671.3 L949.7,671.2 L951.8,671.2 L953.8,671.1 L955.9,671.0 L957.9,670.9 L960.0,670.9 L962.0,670.8 L964.1,670.7 L966.1,670.7 L968.2,670.6 L970.2,670.5 L972.3,670.5 L974.3,670.4 L976.4,670.3 L978.4,670.3 L980.5,670.2 L982.5,670.1 L984.6,670.1 L986.6,670.0 L988.7,669.9 L990.7,669.9 L992.8,669.8 L994.8,669.8 L996.9,669.7 L998.9,669.7 L1001.0,669.7 L1003.0,669.6 L1005.1,669.6 L1007.1,669.6 L1009.2,669.5 L1011.2,669.5 L1013.3,669.5 L1015.4,669.5 L1017.5,669.5 L1019.6,669.5 L1021.8,669.6 L1024.0,669.6 L1026.3,669.7 L1028.5,669.7 L1030.8,669.8 L1033.0,669.9 L1035.3,670.0 L1037.5,670.0 L1039.7,670.1 L1041.9,670.2 L1044.1,670.2 L1046.2,670.3 L1048.3,670.4 L1050.4,670.4 L1052.4,670.4 L1054.4,670.5 L1056.3,670.5 L1058.1,670.5 L1059.8,670.5 L1061.5,670.4 L1063.1,670.4 L1064.6,670.3 L1067.3,670.1 L1069.8,669.8 L1072.1,669.5 L1074.2,669.2 L1076.2,668.9 L1078.1,668.5 L1080.0,668.2 L1082.3,667.8 L1084.3,667.5 L1086.3,667.1 L1088.3,666.6 L1090.4,665.9 L1092.5,665.1 L1094.6,664.2 L1096.7,663.2 L1098.8,662.1 L1100.9,660.9 L1103.0,659.6 L1105.0,658.2 L1106.7,657.0 L1108.4,655.7 L1110.1,654.4 L1111.7,653.0 L1113.3,651.6 L1114.7,650.2 L1116.1,648.7 L1117.4,647.2 L1118.7,645.7 L1120.0,644.1 L1121.3,642.5 L1122.7,640.8 L1124.0,639.2 L1125.3,637.5 L1126.6,635.8 L1128.0,634.1 L1129.3,632.5 L1130.7,630.8 L1132.1,629.1 L1133.3,627.4 L1134.7,625.4 L1135.9,623.3 L1137.1,621.3 L1138.3,619.1 L1139.3,617.2 L1140.3,615.2 L1141.3,613.1 L1142.3,611.1 L1143.3,609.1 L1144.3,607.3 L1145.3,605.4 L1146.3,603.7 L1147.3,601.8 L1148.3,600.0 L1149.3,598.0 L1150.3,596.0 L1151.3,594.0 L1152.3,592.0 L1153.3,590.0 L1154.3,588.0 L1155.3,585.9 L1156.3,583.9 L1157.3,581.9 L1158.3,580.0 L1159.5,577.8 L1160.7,575.6 L1162.0,573.5 L1163.3,571.6 L1164.9,569.5 L1166.5,567.5 L1168.3,565.8 L1170.4,564.5 L1172.6,563.4 L1174.9,562.5 L1177.1,561.8 L1179.4,561.2 L1181.6,560.8 L1183.8,560.5 L1186.0,560.4 L1188.2,560.4 L1190.4,560.6 L1192.7,561.1 L1194.9,561.7 L1197.2,562.6 L1199.4,563.7 L1201.6,565.0 L1203.3,566.1 L1204.9,567.4 L1206.6,568.7 L1208.2,570.0 L1209.9,571.3 L1211.6,572.5 L1213.2,573.7 L1214.9,575.0 L1216.5,576.2 L1218.2,577.4 L1219.8,578.6 L1221.5,580.0 L1223.1,581.5 L1224.8,583.0 L1226.5,584.7 L1228.3,586.3 L1230.0,587.9 L1231.7,589.3 L1233.4,590.7 L1235.1,592.1 L1236.9,593.4 L1238.6,594.8 L1240.3,596.2 L1242.0,597.6 L1243.8,598.9 L1245.5,600.3 L1247.2,601.7 L1248.9,603.1 L1250.7,604.5 L1252.4,605.9 L1254.2,607.3 L1255.9,608.6 L1257.6,609.9 L1259.3,611.1 L1261.1,612.3 L1262.8,613.5 L1264.5,614.7 L1266.2,615.9 L1267.9,617.1 L1269.6,618.4 L1271.4,619.5 L1273.1,620.7 L1274.8,621.8 L1276.5,622.9 L1278.2,623.9 L1280.0,624.9 L1281.7,625.9 L1283.8,627.0 L1286.0,628.1 L1288.1,629.1 L1290.3,630.2 L1292.5,631.3 L1294.7,632.4 L1296.8,633.4 L1299.0,634.5 L1301.2,635.6 L1303.3,636.6 L1305.5,637.7 L1307.6,638.8 L1309.8,639.9 L1311.9,641.0 L1314.1,642.0 L1316.2,643.1 L1318.3,644.2 L1320.5,645.4 L1322.6,646.4 L1324.8,647.4 L1326.9,648.2 L1329.1,648.8 L1331.2,649.4 L1333.4,650.0 L1335.6,650.6 L1337.8,651.2 L1340.0,651.9 L1342.1,652.6 L1344.6,653.5 L1346.9,654.6 L1349.0,656.0 L1350.4,657.5 L1351.7,659.2 L1352.9,661.1 L1354.1,662.9 L1355.4,664.8 L1356.7,666.8 L1358.0,668.7 L1359.3,670.7 L1360.6,672.6 L1361.9,674.5 L1363.2,676.5 L1364.5,678.4 L1365.8,680.4 L1367.1,682.4 L1368.4,684.3 L1369.7,686.2 L1371.3,688.4 L1372.9,690.4 L1374.8,692.2 L1376.9,693.6 L1379.2,694.7 L1381.7,695.7 L1383.6,696.3 L1385.7,696.9 L1387.8,697.4 L1390.0,697.9 L1392.1,698.3 L1394.1,698.7 L1396.0,698.9 L1398.0,699.2 L1400.1,699.5 L1402.4,700.0 L1404.1,700.4 L1406.0,700.9 L1407.9,701.5 L1409.9,702.1 L1412.0,702.8 L1414.2,703.4 L1416.3,704.1 L1418.5,704.7 L1420.7,705.3 L1422.9,705.8 L1425.1,706.2 L1427.2,706.5 L1429.3,706.8 L1431.4,707.1 L1433.5,707.4 L1435.7,707.6 L1437.8,707.7 L1440.0,707.9 L1442.2,708.0 L1444.3,708.1 L1446.5,708.2 L1448.7,708.2 L1450.8,708.2 L1452.9,708.2 L1455.1,708.1 L1457.2,708.0 L1459.3,707.9 L1461.5,707.7 L1463.6,707.6 L1465.7,707.4 L1467.9,707.2 L1470.0,706.9 L1472.1,706.7 L1474.3,706.4 L1476.4,706.2 L1478.5,705.9 L1480.7,705.7 L1482.8,705.4 L1484.9,705.0 L1487.1,704.7 L1489.2,704.4 L1491.3,704.0 L1493.5,703.7 L1495.6,703.3 L1497.7,703.0 L1499.9,702.6 L1502.0,702.3 L1504.1,702.0 L1506.2,701.7 L1508.2,701.4 L1510.2,701.1 L1512.3,700.7 L1514.3,700.4 L1516.4,700.1 L1518.5,699.8 L1520.7,699.5 L1522.9,699.2 L1525.2,698.8 L1527.7,698.5 L1529.4,698.3 L1531.2,698.0 L1533.0,697.8 L1534.9,697.5 L1536.8,697.2 L1538.8,697.0 L1540.8,696.7 L1542.8,696.4 L1544.9,696.1 L1547.0,695.9 L1549.1,695.6 L1551.2,695.3 L1553.3,695.0 L1555.5,694.7 L1557.6,694.5 L1559.8,694.2 L1562.0,693.9 L1564.1,693.7 L1566.3,693.4 L1568.5,693.1 L1570.6,692.9 L1572.7,692.7 L1574.8,692.4 L1576.9,692.2 L1579.0,692.0 L1581.0,691.8 L1583.1,691.6 L1585.1,691.4 L1587.2,691.2 L1589.2,691.0 L1591.2,690.8 L1593.3,690.7 L1595.3,690.5 L1597.3,690.3 L1599.4,690.1 L1601.4,690.0 L1603.5,689.8 L1605.5,689.7 L1607.5,689.5 L1609.6,689.4 L1611.6,689.2 L1613.7,689.1 L1615.7,689.0 L1617.7,688.8 L1619.8,688.7 L1621.8,688.6 L1623.9,688.5 L1625.9,688.4 L1628.0,688.3 L1630.0,688.2 L1632.1,688.1 L1634.1,688.0 L1636.2,688.0 L1638.3,687.9 L1640.4,687.8 L1642.5,687.8 L1644.6,687.7 L1646.7,687.7 L1648.8,687.6 L1650.9,687.6 L1653.0,687.6 L1655.1,687.5 L1657.2,687.5 L1659.3,687.5 L1661.4,687.5 L1663.5,687.5 L1665.6,687.5 L1667.6,687.5 L1669.7,687.5 L1671.7,687.5 L1673.7,687.5 L1675.7,687.5 L1677.6,687.5 L1679.6,687.5 L1681.5,687.5 L1683.7,687.5 L1685.9,687.6 L1688.1,687.6 L1690.4,687.7 L1692.6,687.7 L1694.9,687.8 L1697.1,687.9 L1699.3,688.0 L1701.5,688.1 L1703.7,688.1 L1705.8,688.2 L1707.8,688.3 L1709.8,688.4 L1711.7,688.4 L1713.6,688.5 L1715.3,688.5 L1717.0,688.6 L1718.5,688.6 L1720.0,688.6 L1722.6,688.5 L1724.8,688.4 L1726.8,688.3 L1728.7,688.2 L1730.7,688.2 L1733.0,688.3 L1735.3,688.4 L1737.5,688.6 L1739.3,689.3 L1741.0,690.6 L1742.3,692.4 L1743.5,694.3 L1744.4,696.1 L1745.1,698.0 L1745.8,700.0 L1746.4,702.1 L1746.9,704.1 L1747.3,706.2 L1747.7,708.3 L1748.1,710.5 L1748.5,712.8 L1748.8,714.7 L1749.1,716.7 L1749.5,718.8 L1749.8,720.9 L1750.1,723.0 L1750.4,725.0 L1750.7,727.1 L1751.0,729.1 L1751.3,731.2 L1751.6,733.2 L1751.8,735.3 L1752.1,737.3 L1752.5,739.4 L1752.8,741.4 L1753.2,743.5 L1753.6,745.5 L1754.0,747.6 L1754.4,749.7 L1754.8,751.7 L1755.3,753.7 L1755.7,755.6 L1756.2,757.9 L1756.7,760.3 L1757.2,762.5 L1757.8,764.5 L1758.5,766.3 L1760.2,769.0 L1762.1,770.6 L1763.9,770.3 L1765.7,769.2 L1767.2,767.4 L1768.6,765.1 L1770.0,762.8 L1771.3,760.7 L1772.6,758.7 L1774.2,757.1 L1776.2,756.1 L1778.4,755.4 L1780.7,754.9 L1783.0,754.6 L1785.4,754.4 L1787.8,754.2 L1790.3,754.1 L1792.7,754.0 L1794.9,753.5 L1797.2,752.0 L1799.2,749.9 L1800.3,748.1 L1801.1,746.0 L1802.0,743.7 L1802.8,741.4 L1803.7,739.1 L1804.6,736.8 L1805.4,734.4 L1806.3,732.1 L1807.2,729.9 L1808.0,727.7 L1808.9,725.5 L1809.9,723.5 L1811.2,721.2 L1812.6,719.1 L1814.2,717.1 L1816.0,715.3 L1817.9,713.7 L1819.9,712.1 L1821.5,710.9 L1823.3,709.8 L1825.1,708.8 L1827.0,707.8 L1829.0,707.0 L1831.1,706.2 L1833.3,705.5 L1835.5,704.9 L1837.7,704.3 L1839.8,703.8 L1841.9,703.3 L1844.1,702.9 L1846.2,702.5 L1848.4,702.1 L1850.6,701.8 L1852.8,701.6 L1855.1,701.4 L1857.5,701.1 L1860.0,700.7 L1861.8,700.3 L1863.7,699.8 L1865.6,699.3 L1867.6,698.7 L1869.7,698.0 L1871.8,697.4 L1874.0,696.7 L1876.3,696.1 L1878.6,695.6 L1881.0,695.1 L1882.8,694.8 L1884.6,694.5 L1886.5,694.2 L1888.5,693.9 L1890.5,693.6 L1892.5,693.4 L1894.6,693.1 L1896.8,692.9 L1898.9,692.7 L1901.1,692.5 L1903.2,692.3 L1905.4,692.1 L1907.5,691.9 L1909.6,691.8 L1911.7,691.6 L1913.7,691.5 L1915.7,691.4 L1917.6,691.4 L1919.5,691.3 L1921.8,691.3 L1923.9,691.3 L1926.0,691.3 L1928.1,691.4 L1930.0,691.5 L1932.0,691.7 L1934.0,691.8 L1936.0,692.0 L1938.1,692.2 L1940.3,692.3 L1942.6,692.5 L1945.0,692.6 L1946.7,692.7 L1948.6,692.8 L1950.5,692.8 L1952.4,692.9 L1954.4,692.9 L1956.5,693.0 L1958.6,693.0 L1960.8,693.1 L1962.9,693.1 L1965.2,693.2 L1967.4,693.2 L1969.6,693.3 L1971.8,693.4 L1974.1,693.4 L1976.3,693.5 L1978.5,693.6 L1980.7,693.7 L1982.8,693.8 L1984.9,694.0 L1987.0,694.1 L1989.0,694.3 L1991.0,694.4 L1992.9,694.6 L1994.7,694.9 L1996.4,695.1 L1998.7,695.5 L2000.8,695.9 L2002.8,696.4 L2004.7,696.9 L2006.5,697.5 L2008.3,698.0 L2010.1,698.6 L2011.9,699.1 L2013.7,699.7 L2015.6,700.2 L2017.6,700.7 L2019.8,701.1 L2022.0,701.5 L2023.7,701.7 L2025.5,702.0 L2027.2,702.2 L2029.1,702.3 L2030.9,702.5 L2032.8,702.7 L2034.8,702.8 L2036.7,702.9 L2038.7,703.0 L2040.7,703.1 L2042.8,703.2 L2044.8,703.3 L2046.9,703.3 L2049.0,703.4 L2051.2,703.5 L2053.3,703.5 L2055.5,703.6 L2057.7,703.6 L2059.9,703.7 L2062.1,703.7 L2064.3,703.8 L2066.5,703.9 L2068.8,703.9 L2071.0,704.0 L2073.3,704.1 L2075.1,704.2 L2077.0,704.2 L2078.9,704.3 L2080.7,704.4 L2082.7,704.4 L2084.6,704.5 L2086.5,704.6 L2088.5,704.6 L2090.5,704.7 L2092.5,704.8 L2094.5,704.8 L2096.5,704.9 L2098.5,704.9 L2100.5,705.0 L2102.6,705.1 L2104.6,705.1 L2106.7,705.2 L2108.8,705.2 L2110.8,705.3 L2112.9,705.3 L2115.0,705.4 L2117.1,705.5 L2119.2,705.5 L2121.3,705.6 L2123.4,705.6 L2125.5,705.7 L2127.6,705.7 L2129.6,705.8 L2131.7,705.8 L2133.8,705.9 L2135.9,705.9 L2138.0,705.9 L2140.1,706.0 L2142.1,706.0 L2144.2,706.1 L2146.2,706.1 L2148.3,706.2 L2150.3,706.2 L2152.3,706.2 L2154.4,706.3 L2156.4,706.3 L2158.4,706.4 L2160.5,706.4 L2162.5,706.4 L2164.6,706.5 L2166.6,706.5 L2168.6,706.5 L2170.7,706.5 L2172.8,706.6 L2174.8,706.6 L2176.9,706.6 L2178.9,706.7 L2181.0,706.7 L2183.0,706.7 L2185.1,706.7 L2187.1,706.8 L2189.2,706.8 L2191.2,706.8 L2193.3,706.8 L2195.3,706.8 L2197.3,706.9 L2199.3,706.9 L2201.4,706.9 L2203.4,706.9 L2205.4,707.0 L2207.4,707.0 L2209.4,707.0 L2211.4,707.0 L2213.4,707.0 L2215.3,707.1 L2217.3,707.1 L2219.3,707.1 L2221.2,707.1 L2223.2,707.2 L2225.1,707.2 L2227.0,707.2 L2229.2,707.2 L2231.4,707.3 L2233.8,707.3 L2236.2,707.3 L2238.7,707.4 L2241.3,707.4 L2243.9,707.4 L2246.5,707.5 L2249.2,707.5 L2251.9,707.5 L2254.5,707.6 L2257.2,707.6 L2259.8,707.6 L2262.4,707.7 L2264.9,707.7 L2267.4,707.7 L2269.8,707.8 L2272.1,707.8 L2274.3,707.8 L2276.4,707.8 L2278.4,707.9 L2280.3,707.9 L2282.0,707.9 L2283.5,707.9 L2284.9,707.9 L2286.1,708.0 L2287.1,708.0 L2287.9,708.0 L2288.5,708.0 L2288.9,708.0 L2289.0,708.0" fill="none" stroke="#166ce0" stroke-opacity="0.33" stroke-width="14.5" stroke-linejoin="round" stroke-linecap="butt"/>
<path d="M149.0,671.3 L149.3,671.3 L150.1,671.2 L151.5,671.0 L153.2,670.9 L155.3,670.7 L157.6,670.5 L160.2,670.3 L162.9,670.1 L165.7,670.0 L168.5,669.8 L171.3,669.8 L173.9,669.8 L176.3,669.8 L178.5,670.0 L180.5,670.2 L182.6,670.6 L184.6,670.9 L186.5,671.4 L188.5,671.9 L190.5,672.4 L192.4,672.9 L194.4,673.5 L196.3,674.1 L198.2,674.7 L200.2,675.3 L202.1,675.8 L204.1,676.4 L206.1,677.0 L208.0,677.6 L210.0,678.2 L212.0,678.8 L213.9,679.5 L215.9,680.1 L217.9,680.8 L219.8,681.4 L221.8,682.0 L223.8,682.6 L225.7,683.2 L227.7,683.7 L229.7,684.1 L231.8,684.5 L234.0,684.8 L236.1,685.1 L238.2,685.3 L240.4,685.5 L242.5,685.7 L244.7,685.9 L246.8,686.0 L249.0,686.2 L251.1,686.5 L253.3,686.8 L255.4,687.2 L257.4,687.6 L259.4,688.1 L261.3,688.7 L263.3,689.2 L265.3,689.8 L267.2,690.4 L269.2,691.1 L271.1,691.7 L273.1,692.3 L275.1,692.9 L277.0,693.4 L279.0,693.9 L281.0,694.4 L283.1,694.8 L285.3,695.2 L287.4,695.6 L289.5,695.9 L291.7,696.2 L293.8,696.5 L296.0,696.7 L298.1,697.0 L300.3,697.3 L302.4,697.6 L304.6,697.9 L306.7,698.2 L308.8,698.6 L311.0,698.9 L313.1,699.4 L315.2,699.8 L317.4,700.2 L319.5,700.6 L321.6,701.0 L323.8,701.4 L325.9,701.8 L328.0,702.1 L330.2,702.4 L332.3,702.6 L334.4,702.8 L336.6,702.9 L338.7,703.0 L340.9,703.0 L343.0,703.0 L345.1,703.0 L347.3,703.0 L349.4,703.0 L351.6,702.9 L353.7,702.8 L355.9,702.7 L358.0,702.6 L360.1,702.5 L362.3,702.3 L364.4,702.1 L366.5,701.9 L368.7,701.7 L370.8,701.5 L372.9,701.3 L375.1,701.0 L377.2,700.7 L379.3,700.5 L381.5,700.2 L383.6,700.0 L385.8,699.8 L388.0,699.6 L390.2,699.3 L392.5,699.1 L394.7,698.9 L397.0,698.7 L399.2,698.5 L401.4,698.2 L403.5,698.0 L405.5,697.6 L407.4,697.3 L409.2,696.9 L411.6,696.2 L413.6,695.4 L415.6,694.5 L417.5,693.6 L419.6,692.8 L422.0,692.3 L423.8,692.1 L425.8,691.9 L427.9,691.8 L430.1,691.7 L432.4,691.7 L434.7,691.8 L437.0,691.9 L439.3,692.1 L441.6,692.3 L443.7,692.5 L445.8,692.8 L447.7,693.1 L449.8,693.5 L451.8,694.1 L453.6,694.7 L455.4,695.3 L457.2,696.0 L459.1,696.8 L461.0,697.5 L463.0,698.2 L464.8,698.8 L466.6,699.4 L468.4,700.1 L470.3,700.8 L472.2,701.5 L474.2,702.2 L476.2,702.9 L478.2,703.5 L480.2,704.2 L482.2,704.8 L484.2,705.4 L486.2,705.9 L488.3,706.4 L490.4,706.9 L492.5,707.3 L494.7,707.7 L496.9,708.1 L499.1,708.5 L501.2,708.8 L503.4,709.1 L505.6,709.4 L507.7,709.7 L509.8,710.0 L511.8,710.3 L513.9,710.6 L516.1,711.0 L518.2,711.3 L520.2,711.7 L522.3,712.0 L524.3,712.2 L526.4,712.4 L528.4,712.5 L530.3,712.5 L532.3,712.3 L534.4,712.0 L536.4,711.5 L538.3,710.9 L540.3,710.2 L542.2,709.4 L544.2,708.6 L546.2,707.7 L548.2,706.8 L550.3,705.9 L552.0,705.1 L553.7,704.3 L555.5,703.4 L557.3,702.5 L559.1,701.6 L561.0,700.6 L562.8,699.6 L564.7,698.6 L566.5,697.6 L568.4,696.6 L570.3,695.7 L572.2,694.8 L574.0,693.9 L575.9,693.1 L577.8,692.3 L579.8,691.5 L581.7,690.8 L583.7,690.0 L585.7,689.3 L587.6,688.6 L589.6,687.9 L591.6,687.3 L593.6,686.7 L595.5,686.1 L597.5,685.6 L599.5,685.1 L601.5,684.6 L603.6,684.2 L605.7,683.7 L607.9,683.4 L610.0,683.1 L612.2,682.8 L614.3,682.5 L616.5,682.3 L618.6,682.1 L620.8,681.9 L622.9,681.8 L625.1,681.6 L627.2,681.5 L629.3,681.4 L631.5,681.3 L633.6,681.3 L635.7,681.3 L637.8,681.3 L639.9,681.3 L642.1,681.4 L644.2,681.4 L646.3,681.5 L648.5,681.5 L650.6,681.5 L652.8,681.5 L654.8,681.5 L656.9,681.5 L658.8,681.4 L660.8,681.4 L662.8,681.4 L664.8,681.3 L666.8,681.3 L668.9,681.2 L671.0,681.2 L673.1,681.2 L675.3,681.1 L677.6,681.1 L680.0,681.0 L681.8,681.0 L683.6,680.9 L685.4,680.9 L687.3,680.8 L689.2,680.8 L691.2,680.7 L693.2,680.7 L695.2,680.6 L697.3,680.5 L699.4,680.5 L701.5,680.4 L703.6,680.3 L705.7,680.3 L707.9,680.2 L710.0,680.2 L712.2,680.1 L714.3,680.0 L716.5,680.0 L718.6,679.9 L720.8,679.9 L722.9,679.8 L725.0,679.8 L727.1,679.8 L729.2,679.7 L731.3,679.7 L733.4,679.7 L735.5,679.7 L737.6,679.7 L739.7,679.7 L741.8,679.7 L744.0,679.7 L746.2,679.7 L748.3,679.7 L750.5,679.8 L752.7,679.8 L754.8,679.8 L757.0,679.9 L759.1,679.9 L761.3,679.9 L763.4,679.9 L765.4,680.0 L767.5,680.0 L769.5,680.0 L771.5,680.0 L773.5,679.9 L775.4,679.9 L777.3,679.9 L779.1,679.8 L780.9,679.8 L782.6,679.7 L785.0,679.6 L787.3,679.4 L789.4,679.2 L791.5,679.0 L793.4,678.8 L795.4,678.5 L797.4,678.3 L799.3,678.1 L801.4,677.8 L803.5,677.6 L805.8,677.4 L808.2,677.2 L809.9,677.1 L811.7,677.0 L813.5,676.8 L815.4,676.7 L817.3,676.6 L819.3,676.5 L821.3,676.4 L823.3,676.3 L825.4,676.2 L827.4,676.0 L829.5,675.9 L831.7,675.8 L833.8,675.7 L836.0,675.6 L838.1,675.5 L840.3,675.4 L842.5,675.3 L844.6,675.2 L846.8,675.1 L849.0,675.1 L851.1,675.0 L853.2,674.9 L855.3,674.8 L857.4,674.7 L859.5,674.6 L861.6,674.5 L863.6,674.4 L865.7,674.3 L867.7,674.3 L869.8,674.2 L871.8,674.1 L873.9,674.0 L875.9,674.0 L878.0,673.9 L880.0,673.8 L882.1,673.8 L884.1,673.7 L886.2,673.6 L888.2,673.6 L890.3,673.5 L892.3,673.4 L894.4,673.4 L896.4,673.3 L898.5,673.2 L900.5,673.2 L902.6,673.1 L904.6,673.0 L906.7,672.9 L908.7,672.9 L910.8,672.8 L912.8,672.7 L914.9,672.6 L916.9,672.6 L919.0,672.5 L921.0,672.4 L923.1,672.3 L925.1,672.2 L927.2,672.2 L929.2,672.1 L931.3,672.0 L933.3,671.9 L935.4,671.8 L937.4,671.7 L939.5,671.6 L941.5,671.6 L943.6,671.5 L945.6,671.4 L947.7,671.3 L949.7,671.2 L951.8,671.2 L953.8,671.1 L955.9,671.0 L957.9,670.9 L960.0,670.9 L962.0,670.8 L964.1,670.7 L966.1,670.7 L968.2,670.6 L970.2,670.5 L972.3,670.5 L974.3,670.4 L976.4,670.3 L978.4,670.3 L980.5,670.2 L982.5,670.1 L984.6,670.1 L986.6,670.0 L988.7,669.9 L990.7,669.9 L992.8,669.8 L994.8,669.8 L996.9,669.7 L998.9,669.7 L1001.0,669.7 L1003.0,669.6 L1005.1,669.6 L1007.1,669.6 L1009.2,669.5 L1011.2,669.5 L1013.3,669.5 L1015.4,669.5 L1017.5,669.5 L1019.6,669.5 L1021.8,669.6 L1024.0,669.6 L1026.3,669.7 L1028.5,669.7 L1030.8,669.8 L1033.0,669.9 L1035.3,670.0 L1037.5,670.0 L1039.7,670.1 L1041.9,670.2 L1044.1,670.2 L1046.2,670.3 L1048.3,670.4 L1050.4,670.4 L1052.4,670.4 L1054.4,670.5 L1056.3,670.5 L1058.1,670.5 L1059.8,670.5 L1061.5,670.4 L1063.1,670.4 L1064.6,670.3 L1067.3,670.1 L1069.8,669.8 L1072.1,669.5 L1074.2,669.2 L1076.2,668.9 L1078.1,668.5 L1080.0,668.2 L1082.3,667.8 L1084.3,667.5 L1086.3,667.1 L1088.3,666.6 L1090.4,665.9 L1092.5,665.1 L1094.6,664.2 L1096.7,663.2 L1098.8,662.1 L1100.9,660.9 L1103.0,659.6 L1105.0,658.2 L1106.7,657.0 L1108.4,655.7 L1110.1,654.4 L1111.7,653.0 L1113.3,651.6 L1114.7,650.2 L1116.1,648.7 L1117.4,647.2 L1118.7,645.7 L1120.0,644.1 L1121.3,642.5 L1122.7,640.8 L1124.0,639.2 L1125.3,637.5 L1126.6,635.8 L1128.0,634.1 L1129.3,632.5 L1130.7,630.8 L1132.1,629.1 L1133.3,627.4 L1134.7,625.4 L1135.9,623.3 L1137.1,621.3 L1138.3,619.1 L1139.3,617.2 L1140.3,615.2 L1141.3,613.1 L1142.3,611.1 L1143.3,609.1 L1144.3,607.3 L1145.3,605.4 L1146.3,603.7 L1147.3,601.8 L1148.3,600.0 L1149.3,598.0 L1150.3,596.0 L1151.3,594.0 L1152.3,592.0 L1153.3,590.0 L1154.3,588.0 L1155.3,585.9 L1156.3,583.9 L1157.3,581.9 L1158.3,580.0 L1159.5,577.8 L1160.7,575.6 L1162.0,573.5 L1163.3,571.6 L1164.9,569.5 L1166.5,567.5 L1168.3,565.8 L1170.4,564.5 L1172.6,563.4 L1174.9,562.5 L1177.1,561.8 L1179.4,561.2 L1181.6,560.8 L1183.8,560.5 L1186.0,560.4 L1188.2,560.4 L1190.4,560.6 L1192.7,561.1 L1194.9,561.7 L1197.2,562.6 L1199.4,563.7 L1201.6,565.0 L1203.3,566.1 L1204.9,567.4 L1206.6,568.7 L1208.2,570.0 L1209.9,571.3 L1211.6,572.5 L1213.2,573.7 L1214.9,575.0 L1216.5,576.2 L1218.2,577.4 L1219.8,578.6 L1221.5,580.0 L1223.1,581.5 L1224.8,583.0 L1226.5,584.7 L1228.3,586.3 L1230.0,587.9 L1231.7,589.3 L1233.4,590.7 L1235.1,592.1 L1236.9,593.4 L1238.6,594.8 L1240.3,596.2 L1242.0,597.6 L1243.8,598.9 L1245.5,600.3 L1247.2,601.7 L1248.9,603.1 L1250.7,604.5 L1252.4,605.9 L1254.2,607.3 L1255.9,608.6 L1257.6,609.9 L1259.3,611.1 L1261.1,612.3 L1262.8,613.5 L1264.5,614.7 L1266.2,615.9 L1267.9,617.1 L1269.6,618.4 L1271.4,619.5 L1273.1,620.7 L1274.8,621.8 L1276.5,622.9 L1278.2,623.9 L1280.0,624.9 L1281.7,625.9 L1283.8,627.0 L1286.0,628.1 L1288.1,629.1 L1290.3,630.2 L1292.5,631.3 L1294.7,632.4 L1296.8,633.4 L1299.0,634.5 L1301.2,635.6 L1303.3,636.6 L1305.5,637.7 L1307.6,638.8 L1309.8,639.9 L1311.9,641.0 L1314.1,642.0 L1316.2,643.1 L1318.3,644.2 L1320.5,645.4 L1322.6,646.4 L1324.8,647.4 L1326.9,648.2 L1329.1,648.8 L1331.2,649.4 L1333.4,650.0 L1335.6,650.6 L1337.8,651.2 L1340.0,651.9 L1342.1,652.6 L1344.6,653.5 L1346.9,654.6 L1349.0,656.0 L1350.4,657.5 L1351.7,659.2 L1352.9,661.1 L1354.1,662.9 L1355.4,664.8 L1356.7,666.8 L1358.0,668.7 L1359.3,670.7 L1360.6,672.6 L1361.9,674.5 L1363.2,676.5 L1364.5,678.4 L1365.8,680.4 L1367.1,682.4 L1368.4,684.3 L1369.7,686.2 L1371.3,688.4 L1372.9,690.4 L1374.8,692.2 L1376.9,693.6 L1379.2,694.7 L1381.7,695.7 L1383.6,696.3 L1385.7,696.9 L1387.8,697.4 L1390.0,697.9 L1392.1,698.3 L1394.1,698.7 L1396.0,698.9 L1398.0,699.2 L1400.1,699.5 L1402.4,700.0 L1404.1,700.4 L1406.0,700.9 L1407.9,701.5 L1409.9,702.1 L1412.0,702.8 L1414.2,703.4 L1416.3,704.1 L1418.5,704.7 L1420.7,705.3 L1422.9,705.8 L1425.1,706.2 L1427.2,706.5 L1429.3,706.8 L1431.4,707.1 L1433.5,707.4 L1435.7,707.6 L1437.8,707.7 L1440.0,707.9 L1442.2,708.0 L1444.3,708.1 L1446.5,708.2 L1448.7,708.2 L1450.8,708.2 L1452.9,708.2 L1455.1,708.1 L1457.2,708.0 L1459.3,707.9 L1461.5,707.7 L1463.6,707.6 L1465.7,707.4 L1467.9,707.2 L1470.0,706.9 L1472.1,706.7 L1474.3,706.4 L1476.4,706.2 L1478.5,705.9 L1480.7,705.7 L1482.8,705.4 L1484.9,705.0 L1487.1,704.7 L1489.2,704.4 L1491.3,704.0 L1493.5,703.7 L1495.6,703.3 L1497.7,703.0 L1499.9,702.6 L1502.0,702.3 L1504.1,702.0 L1506.2,701.7 L1508.2,701.4 L1510.2,701.1 L1512.3,700.7 L1514.3,700.4 L1516.4,700.1 L1518.5,699.8 L1520.7,699.5 L1522.9,699.2 L1525.2,698.8 L1527.7,698.5 L1529.4,698.3 L1531.2,698.0 L1533.0,697.8 L1534.9,697.5 L1536.8,697.2 L1538.8,697.0 L1540.8,696.7 L1542.8,696.4 L1544.9,696.1 L1547.0,695.9 L1549.1,695.6 L1551.2,695.3 L1553.3,695.0 L1555.5,694.7 L1557.6,694.5 L1559.8,694.2 L1562.0,693.9 L1564.1,693.7 L1566.3,693.4 L1568.5,693.1 L1570.6,692.9 L1572.7,692.7 L1574.8,692.4 L1576.9,692.2 L1579.0,692.0 L1581.0,691.8 L1583.1,691.6 L1585.1,691.4 L1587.2,691.2 L1589.2,691.0 L1591.2,690.8 L1593.3,690.7 L1595.3,690.5 L1597.3,690.3 L1599.4,690.1 L1601.4,690.0 L1603.5,689.8 L1605.5,689.7 L1607.5,689.5 L1609.6,689.4 L1611.6,689.2 L1613.7,689.1 L1615.7,689.0 L1617.7,688.8 L1619.8,688.7 L1621.8,688.6 L1623.9,688.5 L1625.9,688.4 L1628.0,688.3 L1630.0,688.2 L1632.1,688.1 L1634.1,688.0 L1636.2,688.0 L1638.3,687.9 L1640.4,687.8 L1642.5,687.8 L1644.6,687.7 L1646.7,687.7 L1648.8,687.6 L1650.9,687.6 L1653.0,687.6 L1655.1,687.5 L1657.2,687.5 L1659.3,687.5 L1661.4,687.5 L1663.5,687.5 L1665.6,687.5 L1667.6,687.5 L1669.7,687.5 L1671.7,687.5 L1673.7,687.5 L1675.7,687.5 L1677.6,687.5 L1679.6,687.5 L1681.5,687.5 L1683.7,687.5 L1685.9,687.6 L1688.1,687.6 L1690.4,687.7 L1692.6,687.7 L1694.9,687.8 L1697.1,687.9 L1699.3,688.0 L1701.5,688.1 L1703.7,688.1 L1705.8,688.2 L1707.8,688.3 L1709.8,688.4 L1711.7,688.4 L1713.6,688.5 L1715.3,688.5 L1717.0,688.6 L1718.5,688.6 L1720.0,688.6 L1722.6,688.5 L1724.8,688.4 L1726.8,688.3 L1728.7,688.2 L1730.7,688.2 L1733.0,688.3 L1735.3,688.4 L1737.5,688.6 L1739.3,689.3 L1741.0,690.6 L1742.3,692.4 L1743.5,694.3 L1744.4,696.1 L1745.1,698.0 L1745.8,700.0 L1746.4,702.1 L1746.9,704.1 L1747.3,706.2 L1747.7,708.3 L1748.1,710.5 L1748.5,712.8 L1748.8,714.7 L1749.1,716.7 L1749.5,718.8 L1749.8,720.9 L1750.1,723.0 L1750.4,725.0 L1750.7,727.1 L1751.0,729.1 L1751.3,731.2 L1751.6,733.2 L1751.8,735.3 L1752.1,737.3 L1752.5,739.4 L1752.8,741.4 L1753.2,743.5 L1753.6,745.5 L1754.0,747.6 L1754.4,749.7 L1754.8,751.7 L1755.3,753.7 L1755.7,755.6 L1756.2,757.9 L1756.7,760.3 L1757.2,762.5 L1757.8,764.5 L1758.5,766.3 L1760.2,769.0 L1762.1,770.6 L1763.9,770.3 L1765.7,769.2 L1767.2,767.4 L1768.6,765.1 L1770.0,762.8 L1771.3,760.7 L1772.6,758.7 L1774.2,757.1 L1776.2,756.1 L1778.4,755.4 L1780.7,754.9 L1783.0,754.6 L1785.4,754.4 L1787.8,754.2 L1790.3,754.1 L1792.7,754.0 L1794.9,753.5 L1797.2,752.0 L1799.2,749.9 L1800.3,748.1 L1801.1,746.0 L1802.0,743.7 L1802.8,741.4 L1803.7,739.1 L1804.6,736.8 L1805.4,734.4 L1806.3,732.1 L1807.2,729.9 L1808.0,727.7 L1808.9,725.5 L1809.9,723.5 L1811.2,721.2 L1812.6,719.1 L1814.2,717.1 L1816.0,715.3 L1817.9,713.7 L1819.9,712.1 L1821.5,710.9 L1823.3,709.8 L1825.1,708.8 L1827.0,707.8 L1829.0,707.0 L1831.1,706.2 L1833.3,705.5 L1835.5,704.9 L1837.7,704.3 L1839.8,703.8 L1841.9,703.3 L1844.1,702.9 L1846.2,702.5 L1848.4,702.1 L1850.6,701.8 L1852.8,701.6 L1855.1,701.4 L1857.5,701.1 L1860.0,700.7 L1861.8,700.3 L1863.7,699.8 L1865.6,699.3 L1867.6,698.7 L1869.7,698.0 L1871.8,697.4 L1874.0,696.7 L1876.3,696.1 L1878.6,695.6 L1881.0,695.1 L1882.8,694.8 L1884.6,694.5 L1886.5,694.2 L1888.5,693.9 L1890.5,693.6 L1892.5,693.4 L1894.6,693.1 L1896.8,692.9 L1898.9,692.7 L1901.1,692.5 L1903.2,692.3 L1905.4,692.1 L1907.5,691.9 L1909.6,691.8 L1911.7,691.6 L1913.7,691.5 L1915.7,691.4 L1917.6,691.4 L1919.5,691.3 L1921.8,691.3 L1923.9,691.3 L1926.0,691.3 L1928.1,691.4 L1930.0,691.5 L1932.0,691.7 L1934.0,691.8 L1936.0,692.0 L1938.1,692.2 L1940.3,692.3 L1942.6,692.5 L1945.0,692.6 L1946.7,692.7 L1948.6,692.8 L1950.5,692.8 L1952.4,692.9 L1954.4,692.9 L1956.5,693.0 L1958.6,693.0 L1960.8,693.1 L1962.9,693.1 L1965.2,693.2 L1967.4,693.2 L1969.6,693.3 L1971.8,693.4 L1974.1,693.4 L1976.3,693.5 L1978.5,693.6 L1980.7,693.7 L1982.8,693.8 L1984.9,694.0 L1987.0,694.1 L1989.0,694.3 L1991.0,694.4 L1992.9,694.6 L1994.7,694.9 L1996.4,695.1 L1998.7,695.5 L2000.8,695.9 L2002.8,696.4 L2004.7,696.9 L2006.5,697.5 L2008.3,698.0 L2010.1,698.6 L2011.9,699.1 L2013.7,699.7 L2015.6,700.2 L2017.6,700.7 L2019.8,701.1 L2022.0,701.5 L2023.7,701.7 L2025.5,702.0 L2027.2,702.2 L2029.1,702.3 L2030.9,702.5 L2032.8,702.7 L2034.8,702.8 L2036.7,702.9 L2038.7,703.0 L2040.7,703.1 L2042.8,703.2 L2044.8,703.3 L2046.9,703.3 L2049.0,703.4 L2051.2,703.5 L2053.3,703.5 L2055.5,703.6 L2057.7,703.6 L2059.9,703.7 L2062.1,703.7 L2064.3,703.8 L2066.5,703.9 L2068.8,703.9 L2071.0,704.0 L2073.3,704.1 L2075.1,704.2 L2077.0,704.2 L2078.9,704.3 L2080.7,704.4 L2082.7,704.4 L2084.6,704.5 L2086.5,704.6 L2088.5,704.6 L2090.5,704.7 L2092.5,704.8 L2094.5,704.8 L2096.5,704.9 L2098.5,704.9 L2100.5,705.0 L2102.6,705.1 L2104.6,705.1 L2106.7,705.2 L2108.8,705.2 L2110.8,705.3 L2112.9,705.3 L2115.0,705.4 L2117.1,705.5 L2119.2,705.5 L2121.3,705.6 L2123.4,705.6 L2125.5,705.7 L2127.6,705.7 L2129.6,705.8 L2131.7,705.8 L2133.8,705.9 L2135.9,705.9 L2138.0,705.9 L2140.1,706.0 L2142.1,706.0 L2144.2,706.1 L2146.2,706.1 L2148.3,706.2 L2150.3,706.2 L2152.3,706.2 L2154.4,706.3 L2156.4,706.3 L2158.4,706.4 L2160.5,706.4 L2162.5,706.4 L2164.6,706.5 L2166.6,706.5 L2168.6,706.5 L2170.7,706.5 L2172.8,706.6 L2174.8,706.6 L2176.9,706.6 L2178.9,706.7 L2181.0,706.7 L2183.0,706.7 L2185.1,706.7 L2187.1,706.8 L2189.2,706.8 L2191.2,706.8 L2193.3,706.8 L2195.3,706.8 L2197.3,706.9 L2199.3,706.9 L2201.4,706.9 L2203.4,706.9 L2205.4,707.0 L2207.4,707.0 L2209.4,707.0 L2211.4,707.0 L2213.4,707.0 L2215.3,707.1 L2217.3,707.1 L2219.3,707.1 L2221.2,707.1 L2223.2,707.2 L2225.1,707.2 L2227.0,707.2 L2229.2,707.2 L2231.4,707.3 L2233.8,707.3 L2236.2,707.3 L2238.7,707.4 L2241.3,707.4 L2243.9,707.4 L2246.5,707.5 L2249.2,707.5 L2251.9,707.5 L2254.5,707.6 L2257.2,707.6 L2259.8,707.6 L2262.4,707.7 L2264.9,707.7 L2267.4,707.7 L2269.8,707.8 L2272.1,707.8 L2274.3,707.8 L2276.4,707.8 L2278.4,707.9 L2280.3,707.9 L2282.0,707.9 L2283.5,707.9 L2284.9,707.9 L2286.1,708.0 L2287.1,708.0 L2287.9,708.0 L2288.5,708.0 L2288.9,708.0 L2289.0,708.0" fill="none" stroke="#166ce0" stroke-width="8.8" stroke-linejoin="round" stroke-linecap="butt"/>
<path d="M149.0,836.9 L149.5,836.8 L150.7,836.7 L152.6,836.5 L155.0,836.2 L157.7,836.0 L160.4,835.8 L163.1,835.6 L165.6,835.6 L167.5,835.6 L169.6,835.7 L171.6,835.8 L173.8,835.9 L175.9,836.1 L178.1,836.3 L180.3,836.5 L182.6,836.8 L184.8,837.1 L187.0,837.4 L189.2,837.8 L191.3,838.2 L193.3,838.6 L195.3,839.1 L197.2,839.6 L199.2,840.2 L201.2,840.8 L203.1,841.5 L205.1,842.1 L207.1,842.8 L209.0,843.4 L211.0,844.1 L213.0,844.7 L214.9,845.3 L216.9,845.9 L218.9,846.5 L220.8,847.0 L222.8,847.6 L224.8,848.2 L226.8,848.8 L228.7,849.3 L230.7,849.9 L232.7,850.4 L234.7,851.0 L236.6,851.5 L238.6,851.9 L240.6,852.4 L242.6,852.8 L244.7,853.2 L246.8,853.6 L248.9,853.9 L250.9,854.3 L253.0,854.6 L255.0,854.8 L257.1,855.1 L259.3,855.4 L261.4,855.6 L263.6,855.8 L265.9,856.0 L268.2,856.2 L270.0,856.3 L271.9,856.5 L273.8,856.6 L275.8,856.6 L277.8,856.7 L279.8,856.8 L281.8,856.8 L283.9,856.8 L285.9,856.9 L288.0,856.9 L290.1,856.9 L292.2,857.0 L294.3,857.0 L296.4,857.0 L298.5,857.1 L300.5,857.1 L302.6,857.2 L304.7,857.3 L306.7,857.4 L308.7,857.5 L310.8,857.7 L312.8,857.8 L314.9,858.0 L317.0,858.1 L319.1,858.3 L321.2,858.5 L323.3,858.6 L325.3,858.8 L327.4,859.0 L329.5,859.2 L331.5,859.4 L333.5,859.6 L335.5,859.7 L337.5,859.9 L339.5,860.1 L341.4,860.2 L343.3,860.4 L345.1,860.5 L347.4,860.7 L349.7,860.8 L352.0,861.0 L354.2,861.2 L356.4,861.3 L358.5,861.5 L360.6,861.6 L362.7,861.7 L364.8,861.8 L366.8,861.9 L368.8,862.0 L370.8,862.0 L373.1,862.0 L375.3,862.0 L377.5,861.9 L379.7,861.8 L381.8,861.7 L383.9,861.6 L386.0,861.4 L388.0,861.3 L390.0,861.2 L392.4,861.1 L394.7,861.0 L397.0,860.9 L399.2,860.7 L401.5,860.5 L403.7,860.2 L405.7,859.8 L407.8,859.4 L409.8,859.0 L411.8,858.5 L413.8,857.9 L415.7,857.3 L417.5,856.6 L419.5,855.7 L421.4,854.7 L423.2,853.5 L424.9,852.4 L426.6,851.1 L428.2,849.8 L429.7,848.3 L431.2,846.8 L432.6,845.3 L434.0,843.8 L435.7,842.0 L437.3,840.2 L438.8,838.3 L440.4,836.4 L441.7,834.7 L443.0,832.9 L444.3,831.0 L445.6,829.2 L446.8,827.3 L447.9,825.5 L449.1,823.6 L450.1,821.8 L451.2,819.9 L452.3,818.1 L453.4,816.3 L454.6,814.5 L455.7,812.7 L456.8,810.9 L457.8,809.0 L458.8,807.0 L459.7,805.0 L460.6,802.9 L461.4,800.9 L462.3,798.9 L463.2,796.7 L464.1,794.6 L465.0,792.5 L466.0,790.6 L467.4,788.6 L468.9,786.7 L470.6,785.1 L472.3,783.7 L474.2,782.5 L476.1,781.5 L478.2,780.6 L480.3,780.0 L482.5,779.7 L484.7,779.9 L486.8,780.6 L488.9,781.5 L490.6,782.6 L492.3,783.9 L493.8,785.4 L495.3,787.0 L496.6,788.7 L497.7,790.5 L498.8,792.4 L499.9,794.3 L501.0,796.1 L502.1,797.9 L503.2,799.8 L504.3,801.6 L505.4,803.5 L506.5,805.3 L507.6,807.1 L508.7,809.0 L509.8,810.8 L510.9,812.6 L512.0,814.4 L513.1,816.3 L514.2,818.1 L515.3,820.0 L516.4,821.8 L517.5,823.6 L518.6,825.4 L519.7,827.3 L520.8,829.1 L521.9,830.9 L523.0,832.7 L524.1,834.6 L525.2,836.4 L526.3,838.3 L527.4,840.1 L528.5,841.9 L529.6,843.7 L530.7,845.6 L531.8,847.4 L532.9,849.2 L534.0,851.1 L535.0,853.0 L536.0,855.0 L537.1,856.8 L538.4,858.4 L540.0,860.1 L541.8,861.6 L543.7,862.9 L545.7,863.9 L547.9,864.5 L550.3,864.9 L552.6,865.0 L554.8,864.8 L557.0,864.2 L559.1,863.2 L561.2,862.1 L563.0,861.2 L564.8,860.1 L566.7,859.1 L568.6,858.4 L570.7,858.0 L572.8,857.8 L575.1,857.7 L577.7,857.5 L579.4,857.3 L581.2,857.2 L583.1,857.0 L585.1,856.8 L587.2,856.6 L589.4,856.4 L591.7,856.1 L594.1,855.9 L596.5,855.7 L599.0,855.6 L601.5,855.4 L603.2,855.3 L605.0,855.2 L606.9,855.1 L608.8,855.0 L610.8,854.9 L612.8,854.8 L614.9,854.7 L617.0,854.6 L619.2,854.5 L621.4,854.4 L623.6,854.3 L625.8,854.2 L628.1,854.1 L630.3,854.0 L632.5,853.9 L634.7,853.9 L636.9,853.8 L639.1,853.8 L641.2,853.7 L643.3,853.7 L645.3,853.6 L647.3,853.6 L649.2,853.6 L651.0,853.6 L652.8,853.6 L655.2,853.6 L657.4,853.7 L659.6,853.8 L661.6,854.0 L663.7,854.1 L665.7,854.3 L667.6,854.5 L669.6,854.6 L671.6,854.7 L673.6,854.8 L675.6,854.9 L677.8,854.9 L680.0,854.9 L681.9,854.8 L683.8,854.7 L685.7,854.5 L687.7,854.3 L689.7,854.1 L691.7,853.8 L693.7,853.5 L695.7,853.3 L697.8,853.0 L699.9,852.7 L702.0,852.4 L704.0,852.1 L706.1,851.8 L708.2,851.6 L710.3,851.4 L712.4,851.2 L714.4,851.1 L716.5,851.0 L718.5,851.0 L720.5,851.0 L722.5,851.1 L724.5,851.2 L726.5,851.4 L728.5,851.6 L730.5,851.8 L732.4,852.0 L734.4,852.3 L736.4,852.6 L738.4,852.9 L740.4,853.1 L742.4,853.5 L744.4,853.8 L746.5,854.1 L748.5,854.4 L750.6,854.6 L752.7,854.9 L754.8,855.2 L757.0,855.4 L758.9,855.6 L760.9,855.8 L762.8,856.0 L764.9,856.2 L766.9,856.4 L768.9,856.6 L771.0,856.8 L773.1,857.1 L775.2,857.3 L777.3,857.5 L779.4,857.7 L781.5,857.9 L783.7,858.1 L785.8,858.3 L787.9,858.5 L790.0,858.7 L792.1,858.9 L794.2,859.0 L796.3,859.2 L798.3,859.4 L800.3,859.5 L802.3,859.7 L804.3,859.8 L806.3,859.9 L808.2,860.0 L810.4,860.1 L812.5,860.2 L814.6,860.3 L816.7,860.4 L818.8,860.5 L820.9,860.6 L822.9,860.6 L824.9,860.7 L827.0,860.7 L829.0,860.8 L831.0,860.8 L833.0,860.8 L834.9,860.8 L836.9,860.8 L838.9,860.8 L840.8,860.7 L842.8,860.7 L844.7,860.6 L846.7,860.5 L848.9,860.4 L851.1,860.2 L853.2,859.9 L855.4,859.6 L857.6,859.3 L859.8,859.0 L862.0,858.6 L864.1,858.3 L866.3,857.9 L868.4,857.6 L870.4,857.3 L872.4,857.0 L874.4,856.8 L876.3,856.6 L878.2,856.5 L880.0,856.5 L882.2,856.6 L884.2,856.8 L886.2,857.0 L888.0,857.4 L889.8,857.7 L891.7,858.1 L893.6,858.4 L895.7,858.6 L898.0,858.8 L899.7,858.8 L901.4,858.9 L903.2,858.9 L905.0,858.8 L906.9,858.8 L908.9,858.7 L910.8,858.6 L912.9,858.5 L914.9,858.3 L917.0,858.2 L919.1,858.0 L921.2,857.9 L923.4,857.7 L925.5,857.6 L927.7,857.4 L929.9,857.3 L932.1,857.1 L934.2,857.0 L936.4,856.9 L938.3,856.8 L940.3,856.7 L942.2,856.6 L944.2,856.5 L946.2,856.4 L948.2,856.3 L950.2,856.2 L952.3,856.1 L954.3,856.0 L956.4,855.8 L958.5,855.7 L960.5,855.6 L962.6,855.5 L964.7,855.4 L966.8,855.3 L968.9,855.2 L971.0,855.1 L973.1,855.0 L975.2,854.9 L977.3,854.8 L979.4,854.7 L981.5,854.6 L983.6,854.5 L985.6,854.5 L987.7,854.4 L989.8,854.3 L991.8,854.3 L993.9,854.2 L996.0,854.2 L998.1,854.2 L1000.1,854.1 L1002.2,854.1 L1004.3,854.1 L1006.4,854.1 L1008.5,854.1 L1010.6,854.1 L1012.7,854.0 L1014.7,854.0 L1016.8,854.0 L1018.9,854.0 L1021.0,854.0 L1023.0,854.0 L1025.1,853.9 L1027.1,853.9 L1029.1,853.9 L1031.1,853.8 L1033.1,853.8 L1035.1,853.7 L1037.1,853.7 L1039.0,853.6 L1041.2,853.5 L1043.3,853.4 L1045.5,853.3 L1047.6,853.2 L1049.7,853.1 L1051.8,853.0 L1053.9,852.8 L1056.0,852.7 L1058.1,852.6 L1060.1,852.4 L1062.2,852.3 L1064.2,852.1 L1066.3,852.0 L1068.3,851.8 L1070.3,851.7 L1072.2,851.6 L1074.2,851.4 L1076.2,851.3 L1078.1,851.1 L1080.0,851.0 L1082.2,850.9 L1084.4,850.7 L1086.6,850.6 L1088.7,850.5 L1090.9,850.4 L1093.0,850.2 L1095.1,850.1 L1097.2,850.0 L1099.2,849.9 L1101.2,849.7 L1103.3,849.5 L1105.3,849.3 L1107.2,849.1 L1109.2,848.9 L1111.1,848.6 L1113.2,848.3 L1115.2,847.9 L1117.2,847.5 L1119.2,847.1 L1121.1,846.7 L1123.0,846.2 L1125.0,845.8 L1126.9,845.3 L1128.8,844.8 L1130.7,844.3 L1132.6,843.7 L1134.5,843.2 L1136.5,842.6 L1138.4,842.1 L1140.4,841.5 L1142.4,840.8 L1144.4,840.2 L1146.4,839.6 L1148.3,838.9 L1150.3,838.2 L1152.2,837.5 L1154.1,836.8 L1156.0,836.1 L1157.8,835.4 L1159.8,834.6 L1161.8,833.8 L1163.7,832.9 L1165.7,832.0 L1167.6,831.2 L1169.4,830.3 L1171.3,829.4 L1173.1,828.5 L1174.8,827.7 L1176.5,826.8 L1178.4,825.8 L1180.2,824.8 L1182.0,823.9 L1183.7,822.9 L1185.4,821.9 L1187.2,820.9 L1189.0,819.8 L1190.7,818.8 L1192.3,817.9 L1194.1,816.9 L1195.8,815.8 L1197.5,814.8 L1199.3,813.8 L1201.0,812.7 L1202.8,811.6 L1204.5,810.5 L1206.2,809.3 L1208.0,808.1 L1209.7,806.9 L1211.4,805.6 L1213.1,804.3 L1214.9,803.1 L1216.6,801.9 L1218.3,800.7 L1220.1,799.6 L1222.0,798.5 L1223.9,797.4 L1225.9,796.3 L1227.8,795.3 L1229.8,794.3 L1231.7,793.4 L1233.7,792.6 L1235.7,791.8 L1237.9,791.0 L1240.1,790.3 L1242.3,789.7 L1244.5,789.2 L1246.7,788.7 L1249.0,788.3 L1251.2,787.9 L1253.4,787.6 L1255.6,787.4 L1257.9,787.2 L1260.1,787.1 L1262.3,787.1 L1264.6,787.1 L1266.8,787.1 L1269.0,787.2 L1271.3,787.2 L1273.5,787.3 L1275.8,787.5 L1278.0,787.8 L1280.2,788.2 L1282.4,788.7 L1284.4,789.4 L1286.3,790.2 L1288.3,791.2 L1290.2,792.3 L1292.1,793.4 L1294.0,794.5 L1296.0,795.5 L1297.9,796.5 L1299.9,797.4 L1301.8,798.3 L1303.8,799.1 L1305.8,800.0 L1307.8,800.9 L1309.7,801.7 L1311.6,802.6 L1313.5,803.5 L1315.4,804.4 L1317.3,805.4 L1319.1,806.3 L1320.9,807.2 L1322.6,808.2 L1324.3,809.3 L1326.0,810.5 L1327.7,811.8 L1329.3,813.3 L1330.9,814.8 L1332.5,816.4 L1334.0,818.0 L1335.4,819.7 L1336.8,821.4 L1338.0,823.1 L1339.2,824.8 L1340.3,826.6 L1341.3,828.4 L1342.4,830.2 L1343.5,832.0 L1344.6,833.8 L1345.7,835.5 L1346.8,837.3 L1348.0,839.1 L1349.1,840.9 L1350.3,842.7 L1351.5,844.5 L1352.7,846.2 L1354.0,847.8 L1355.4,849.5 L1356.9,851.2 L1358.4,852.9 L1359.9,854.5 L1361.5,856.0 L1363.2,857.4 L1364.9,858.7 L1366.7,859.8 L1368.6,860.9 L1370.5,861.8 L1372.5,862.6 L1374.6,863.4 L1376.7,864.2 L1378.9,865.0 L1380.8,865.7 L1382.7,866.3 L1384.6,867.0 L1386.7,867.6 L1388.7,868.2 L1390.8,868.8 L1392.9,869.4 L1395.0,870.0 L1397.0,870.6 L1399.1,871.2 L1401.2,871.9 L1403.2,872.5 L1405.2,873.2 L1407.2,873.9 L1409.2,874.6 L1411.3,875.3 L1413.4,875.9 L1415.5,876.5 L1417.7,877.1 L1420.0,877.5 L1421.8,877.8 L1423.7,878.1 L1425.6,878.3 L1427.5,878.5 L1429.5,878.6 L1431.5,878.7 L1433.5,878.8 L1435.5,878.9 L1437.6,879.0 L1439.7,879.0 L1441.9,879.1 L1444.0,879.1 L1446.3,879.1 L1448.5,879.2 L1450.8,879.2 L1452.6,879.2 L1454.5,879.2 L1456.3,879.2 L1458.3,879.2 L1460.2,879.2 L1462.2,879.2 L1464.2,879.2 L1466.2,879.1 L1468.3,879.1 L1470.3,879.1 L1472.4,879.0 L1474.5,879.0 L1476.6,878.9 L1478.8,878.8 L1480.9,878.8 L1483.0,878.7 L1485.2,878.6 L1487.3,878.5 L1489.4,878.5 L1491.6,878.4 L1493.7,878.3 L1495.8,878.2 L1497.9,878.2 L1499.9,878.1 L1502.0,878.0 L1504.1,877.9 L1506.1,877.8 L1508.2,877.7 L1510.2,877.6 L1512.3,877.5 L1514.3,877.4 L1516.4,877.3 L1518.4,877.2 L1520.5,877.1 L1522.5,877.0 L1524.6,876.9 L1526.6,876.8 L1528.7,876.6 L1530.7,876.5 L1532.8,876.4 L1534.8,876.3 L1536.9,876.2 L1538.9,876.1 L1541.0,876.0 L1543.0,875.9 L1545.1,875.8 L1547.1,875.7 L1549.2,875.6 L1551.2,875.5 L1553.3,875.4 L1555.3,875.3 L1557.4,875.2 L1559.4,875.2 L1561.4,875.1 L1563.4,875.0 L1565.4,875.0 L1567.4,874.9 L1569.4,874.8 L1571.3,874.8 L1573.3,874.7 L1575.3,874.7 L1577.3,874.6 L1579.3,874.6 L1581.3,874.5 L1583.3,874.5 L1585.4,874.4 L1587.4,874.4 L1589.5,874.3 L1591.6,874.3 L1593.7,874.3 L1595.8,874.2 L1598.0,874.2 L1600.1,874.2 L1602.4,874.1 L1604.6,874.1 L1606.4,874.1 L1608.3,874.1 L1610.2,874.0 L1612.1,874.0 L1614.1,874.0 L1616.0,874.0 L1618.0,873.9 L1620.0,873.9 L1622.1,873.9 L1624.1,873.9 L1626.2,873.8 L1628.3,873.8 L1630.4,873.8 L1632.5,873.8 L1634.6,873.8 L1636.7,873.7 L1638.8,873.7 L1640.9,873.7 L1643.1,873.7 L1645.2,873.7 L1647.3,873.7 L1649.4,873.7 L1651.5,873.7 L1653.6,873.7 L1655.7,873.7 L1657.8,873.7 L1659.9,873.7 L1662.0,873.7 L1664.0,873.8 L1666.1,873.8 L1668.1,873.8 L1670.1,873.8 L1672.0,873.9 L1674.0,873.9 L1675.9,873.9 L1677.8,874.0 L1679.7,874.0 L1681.5,874.1 L1683.7,874.2 L1686.0,874.3 L1688.2,874.4 L1690.3,874.5 L1692.5,874.6 L1694.6,874.7 L1696.7,874.8 L1698.8,874.9 L1700.8,875.1 L1702.9,875.2 L1704.9,875.4 L1706.9,875.5 L1708.9,875.7 L1710.9,875.8 L1712.9,876.0 L1714.9,876.1 L1716.9,876.3 L1718.9,876.4 L1720.9,876.6 L1722.8,876.7 L1724.8,876.9 L1726.8,877.0 L1728.8,877.1 L1730.8,877.3 L1732.8,877.4 L1734.9,877.5 L1736.9,877.7 L1738.9,877.8 L1740.9,877.9 L1742.9,878.0 L1744.8,878.2 L1746.7,878.3 L1748.6,878.4 L1750.6,878.6 L1752.5,878.7 L1754.4,878.8 L1756.3,878.9 L1758.3,879.1 L1760.3,879.2 L1762.3,879.3 L1764.3,879.4 L1766.4,879.6 L1768.6,879.7 L1770.7,879.8 L1773.0,879.9 L1775.2,880.1 L1777.6,880.2 L1780.0,880.3 L1781.7,880.4 L1783.3,880.5 L1785.0,880.5 L1786.8,880.6 L1788.5,880.7 L1790.3,880.8 L1792.1,880.9 L1793.9,881.0 L1795.8,881.0 L1797.6,881.1 L1799.5,881.2 L1801.4,881.3 L1803.3,881.4 L1805.3,881.5 L1807.2,881.5 L1809.2,881.6 L1811.2,881.7 L1813.2,881.8 L1815.2,881.9 L1817.3,881.9 L1819.3,882.0 L1821.4,882.1 L1823.5,882.2 L1825.6,882.3 L1827.7,882.3 L1829.8,882.4 L1831.9,882.5 L1834.0,882.6 L1836.1,882.7 L1838.3,882.8 L1840.4,882.8 L1842.6,882.9 L1844.7,883.0 L1846.9,883.1 L1849.1,883.2 L1851.2,883.2 L1853.4,883.3 L1855.6,883.4 L1857.7,883.5 L1859.9,883.6 L1862.1,883.7 L1864.3,883.7 L1866.4,883.8 L1868.6,883.9 L1870.7,884.0 L1872.9,884.1 L1875.1,884.2 L1877.2,884.2 L1879.3,884.3 L1881.5,884.4 L1883.6,884.5 L1885.5,884.6 L1887.5,884.7 L1889.4,884.7 L1891.4,884.8 L1893.4,884.9 L1895.3,885.0 L1897.3,885.1 L1899.3,885.1 L1901.3,885.2 L1903.3,885.3 L1905.2,885.4 L1907.2,885.5 L1909.2,885.6 L1911.2,885.6 L1913.3,885.7 L1915.3,885.8 L1917.3,885.9 L1919.3,886.0 L1921.3,886.1 L1923.3,886.2 L1925.4,886.2 L1927.4,886.3 L1929.4,886.4 L1931.5,886.5 L1933.5,886.6 L1935.6,886.7 L1937.6,886.8 L1939.6,886.8 L1941.7,886.9 L1943.7,887.0 L1945.8,887.1 L1947.8,887.2 L1949.9,887.3 L1951.9,887.4 L1954.0,887.4 L1956.1,887.5 L1958.1,887.6 L1960.2,887.7 L1962.2,887.8 L1964.3,887.9 L1966.3,887.9 L1968.4,888.0 L1970.5,888.1 L1972.5,888.2 L1974.6,888.3 L1976.6,888.4 L1978.7,888.4 L1980.7,888.5 L1982.8,888.6 L1984.8,888.7 L1986.9,888.7 L1988.9,888.8 L1991.0,888.9 L1993.0,889.0 L1995.1,889.1 L1997.1,889.1 L1999.2,889.2 L2001.2,889.3 L2003.2,889.4 L2005.3,889.4 L2007.3,889.5 L2009.3,889.6 L2011.3,889.6 L2013.4,889.7 L2015.4,889.8 L2017.4,889.9 L2019.4,889.9 L2021.4,890.0 L2023.4,890.1 L2025.4,890.1 L2027.4,890.2 L2029.4,890.3 L2031.4,890.3 L2033.4,890.4 L2035.4,890.5 L2037.4,890.5 L2039.4,890.6 L2041.3,890.7 L2043.3,890.8 L2045.3,890.8 L2047.3,890.9 L2049.3,891.0 L2051.3,891.0 L2053.3,891.1 L2055.3,891.1 L2057.2,891.2 L2059.2,891.3 L2061.2,891.3 L2063.2,891.4 L2065.2,891.5 L2067.2,891.5 L2069.2,891.6 L2071.2,891.7 L2073.2,891.7 L2075.2,891.8 L2077.2,891.8 L2079.2,891.9 L2081.2,892.0 L2083.2,892.0 L2085.3,892.1 L2087.3,892.1 L2089.3,892.2 L2091.4,892.2 L2093.4,892.3 L2095.4,892.4 L2097.5,892.4 L2099.5,892.5 L2101.6,892.5 L2103.6,892.6 L2105.7,892.6 L2107.8,892.7 L2109.9,892.7 L2111.9,892.8 L2114.0,892.8 L2116.1,892.9 L2118.2,892.9 L2120.3,893.0 L2122.5,893.0 L2124.6,893.1 L2126.7,893.1 L2128.9,893.2 L2131.0,893.2 L2132.9,893.2 L2134.9,893.3 L2136.9,893.3 L2138.9,893.4 L2141.1,893.4 L2143.2,893.4 L2145.4,893.5 L2147.7,893.5 L2150.0,893.5 L2152.3,893.6 L2154.6,893.6 L2157.0,893.6 L2159.5,893.7 L2161.9,893.7 L2164.4,893.7 L2166.9,893.8 L2169.5,893.8 L2172.0,893.8 L2174.6,893.9 L2177.2,893.9 L2179.8,893.9 L2182.4,894.0 L2185.1,894.0 L2187.7,894.0 L2190.4,894.0 L2193.0,894.1 L2195.7,894.1 L2198.4,894.1 L2201.1,894.2 L2203.7,894.2 L2206.4,894.2 L2209.0,894.2 L2211.7,894.3 L2214.3,894.3 L2216.9,894.3 L2219.6,894.3 L2222.1,894.4 L2224.7,894.4 L2227.3,894.4 L2229.8,894.4 L2232.3,894.5 L2234.8,894.5 L2237.2,894.5 L2239.7,894.5 L2242.0,894.5 L2244.4,894.6 L2246.7,894.6 L2249.0,894.6 L2251.2,894.6 L2253.4,894.6 L2255.6,894.7 L2257.7,894.7 L2259.7,894.7 L2261.7,894.7 L2263.6,894.7 L2265.5,894.7 L2267.4,894.7 L2269.1,894.8 L2270.8,894.8 L2272.5,894.8 L2274.1,894.8 L2275.6,894.8 L2277.0,894.8 L2278.4,894.8 L2279.7,894.8 L2280.9,894.8 L2282.1,894.9 L2283.1,894.9 L2284.1,894.9 L2285.0,894.9 L2285.8,894.9 L2286.6,894.9 L2287.2,894.9 L2287.7,894.9 L2288.2,894.9 L2288.5,894.9 L2288.8,894.9 L2288.9,894.9 L2289.0,894.9" fill="none" stroke="#505050" stroke-opacity="0.22" stroke-width="13.5" stroke-linejoin="round" stroke-linecap="butt"/>
<path d="M149.0,836.9 L149.5,836.8 L150.7,836.7 L152.6,836.5 L155.0,836.2 L157.7,836.0 L160.4,835.8 L163.1,835.6 L165.6,835.6 L167.5,835.6 L169.6,835.7 L171.6,835.8 L173.8,835.9 L175.9,836.1 L178.1,836.3 L180.3,836.5 L182.6,836.8 L184.8,837.1 L187.0,837.4 L189.2,837.8 L191.3,838.2 L193.3,838.6 L195.3,839.1 L197.2,839.6 L199.2,840.2 L201.2,840.8 L203.1,841.5 L205.1,842.1 L207.1,842.8 L209.0,843.4 L211.0,844.1 L213.0,844.7 L214.9,845.3 L216.9,845.9 L218.9,846.5 L220.8,847.0 L222.8,847.6 L224.8,848.2 L226.8,848.8 L228.7,849.3 L230.7,849.9 L232.7,850.4 L234.7,851.0 L236.6,851.5 L238.6,851.9 L240.6,852.4 L242.6,852.8 L244.7,853.2 L246.8,853.6 L248.9,853.9 L250.9,854.3 L253.0,854.6 L255.0,854.8 L257.1,855.1 L259.3,855.4 L261.4,855.6 L263.6,855.8 L265.9,856.0 L268.2,856.2 L270.0,856.3 L271.9,856.5 L273.8,856.6 L275.8,856.6 L277.8,856.7 L279.8,856.8 L281.8,856.8 L283.9,856.8 L285.9,856.9 L288.0,856.9 L290.1,856.9 L292.2,857.0 L294.3,857.0 L296.4,857.0 L298.5,857.1 L300.5,857.1 L302.6,857.2 L304.7,857.3 L306.7,857.4 L308.7,857.5 L310.8,857.7 L312.8,857.8 L314.9,858.0 L317.0,858.1 L319.1,858.3 L321.2,858.5 L323.3,858.6 L325.3,858.8 L327.4,859.0 L329.5,859.2 L331.5,859.4 L333.5,859.6 L335.5,859.7 L337.5,859.9 L339.5,860.1 L341.4,860.2 L343.3,860.4 L345.1,860.5 L347.4,860.7 L349.7,860.8 L352.0,861.0 L354.2,861.2 L356.4,861.3 L358.5,861.5 L360.6,861.6 L362.7,861.7 L364.8,861.8 L366.8,861.9 L368.8,862.0 L370.8,862.0 L373.1,862.0 L375.3,862.0 L377.5,861.9 L379.7,861.8 L381.8,861.7 L383.9,861.6 L386.0,861.4 L388.0,861.3 L390.0,861.2 L392.4,861.1 L394.7,861.0 L397.0,860.9 L399.2,860.7 L401.5,860.5 L403.7,860.2 L405.7,859.8 L407.8,859.4 L409.8,859.0 L411.8,858.5 L413.8,857.9 L415.7,857.3 L417.5,856.6 L419.5,855.7 L421.4,854.7 L423.2,853.5 L424.9,852.4 L426.6,851.1 L428.2,849.8 L429.7,848.3 L431.2,846.8 L432.6,845.3 L434.0,843.8 L435.7,842.0 L437.3,840.2 L438.8,838.3 L440.4,836.4 L441.7,834.7 L443.0,832.9 L444.3,831.0 L445.6,829.2 L446.8,827.3 L447.9,825.5 L449.1,823.6 L450.1,821.8 L451.2,819.9 L452.3,818.1 L453.4,816.3 L454.6,814.5 L455.7,812.7 L456.8,810.9 L457.8,809.0 L458.8,807.0 L459.7,805.0 L460.6,802.9 L461.4,800.9 L462.3,798.9 L463.2,796.7 L464.1,794.6 L465.0,792.5 L466.0,790.6 L467.4,788.6 L468.9,786.7 L470.6,785.1 L472.3,783.7 L474.2,782.5 L476.1,781.5 L478.2,780.6 L480.3,780.0 L482.5,779.7 L484.7,779.9 L486.8,780.6 L488.9,781.5 L490.6,782.6 L492.3,783.9 L493.8,785.4 L495.3,787.0 L496.6,788.7 L497.7,790.5 L498.8,792.4 L499.9,794.3 L501.0,796.1 L502.1,797.9 L503.2,799.8 L504.3,801.6 L505.4,803.5 L506.5,805.3 L507.6,807.1 L508.7,809.0 L509.8,810.8 L510.9,812.6 L512.0,814.4 L513.1,816.3 L514.2,818.1 L515.3,820.0 L516.4,821.8 L517.5,823.6 L518.6,825.4 L519.7,827.3 L520.8,829.1 L521.9,830.9 L523.0,832.7 L524.1,834.6 L525.2,836.4 L526.3,838.3 L527.4,840.1 L528.5,841.9 L529.6,843.7 L530.7,845.6 L531.8,847.4 L532.9,849.2 L534.0,851.1 L535.0,853.0 L536.0,855.0 L537.1,856.8 L538.4,858.4 L540.0,860.1 L541.8,861.6 L543.7,862.9 L545.7,863.9 L547.9,864.5 L550.3,864.9 L552.6,865.0 L554.8,864.8 L557.0,864.2 L559.1,863.2 L561.2,862.1 L563.0,861.2 L564.8,860.1 L566.7,859.1 L568.6,858.4 L570.7,858.0 L572.8,857.8 L575.1,857.7 L577.7,857.5 L579.4,857.3 L581.2,857.2 L583.1,857.0 L585.1,856.8 L587.2,856.6 L589.4,856.4 L591.7,856.1 L594.1,855.9 L596.5,855.7 L599.0,855.6 L601.5,855.4 L603.2,855.3 L605.0,855.2 L606.9,855.1 L608.8,855.0 L610.8,854.9 L612.8,854.8 L614.9,854.7 L617.0,854.6 L619.2,854.5 L621.4,854.4 L623.6,854.3 L625.8,854.2 L628.1,854.1 L630.3,854.0 L632.5,853.9 L634.7,853.9 L636.9,853.8 L639.1,853.8 L641.2,853.7 L643.3,853.7 L645.3,853.6 L647.3,853.6 L649.2,853.6 L651.0,853.6 L652.8,853.6 L655.2,853.6 L657.4,853.7 L659.6,853.8 L661.6,854.0 L663.7,854.1 L665.7,854.3 L667.6,854.5 L669.6,854.6 L671.6,854.7 L673.6,854.8 L675.6,854.9 L677.8,854.9 L680.0,854.9 L681.9,854.8 L683.8,854.7 L685.7,854.5 L687.7,854.3 L689.7,854.1 L691.7,853.8 L693.7,853.5 L695.7,853.3 L697.8,853.0 L699.9,852.7 L702.0,852.4 L704.0,852.1 L706.1,851.8 L708.2,851.6 L710.3,851.4 L712.4,851.2 L714.4,851.1 L716.5,851.0 L718.5,851.0 L720.5,851.0 L722.5,851.1 L724.5,851.2 L726.5,851.4 L728.5,851.6 L730.5,851.8 L732.4,852.0 L734.4,852.3 L736.4,852.6 L738.4,852.9 L740.4,853.1 L742.4,853.5 L744.4,853.8 L746.5,854.1 L748.5,854.4 L750.6,854.6 L752.7,854.9 L754.8,855.2 L757.0,855.4 L758.9,855.6 L760.9,855.8 L762.8,856.0 L764.9,856.2 L766.9,856.4 L768.9,856.6 L771.0,856.8 L773.1,857.1 L775.2,857.3 L777.3,857.5 L779.4,857.7 L781.5,857.9 L783.7,858.1 L785.8,858.3 L787.9,858.5 L790.0,858.7 L792.1,858.9 L794.2,859.0 L796.3,859.2 L798.3,859.4 L800.3,859.5 L802.3,859.7 L804.3,859.8 L806.3,859.9 L808.2,860.0 L810.4,860.1 L812.5,860.2 L814.6,860.3 L816.7,860.4 L818.8,860.5 L820.9,860.6 L822.9,860.6 L824.9,860.7 L827.0,860.7 L829.0,860.8 L831.0,860.8 L833.0,860.8 L834.9,860.8 L836.9,860.8 L838.9,860.8 L840.8,860.7 L842.8,860.7 L844.7,860.6 L846.7,860.5 L848.9,860.4 L851.1,860.2 L853.2,859.9 L855.4,859.6 L857.6,859.3 L859.8,859.0 L862.0,858.6 L864.1,858.3 L866.3,857.9 L868.4,857.6 L870.4,857.3 L872.4,857.0 L874.4,856.8 L876.3,856.6 L878.2,856.5 L880.0,856.5 L882.2,856.6 L884.2,856.8 L886.2,857.0 L888.0,857.4 L889.8,857.7 L891.7,858.1 L893.6,858.4 L895.7,858.6 L898.0,858.8 L899.7,858.8 L901.4,858.9 L903.2,858.9 L905.0,858.8 L906.9,858.8 L908.9,858.7 L910.8,858.6 L912.9,858.5 L914.9,858.3 L917.0,858.2 L919.1,858.0 L921.2,857.9 L923.4,857.7 L925.5,857.6 L927.7,857.4 L929.9,857.3 L932.1,857.1 L934.2,857.0 L936.4,856.9 L938.3,856.8 L940.3,856.7 L942.2,856.6 L944.2,856.5 L946.2,856.4 L948.2,856.3 L950.2,856.2 L952.3,856.1 L954.3,856.0 L956.4,855.8 L958.5,855.7 L960.5,855.6 L962.6,855.5 L964.7,855.4 L966.8,855.3 L968.9,855.2 L971.0,855.1 L973.1,855.0 L975.2,854.9 L977.3,854.8 L979.4,854.7 L981.5,854.6 L983.6,854.5 L985.6,854.5 L987.7,854.4 L989.8,854.3 L991.8,854.3 L993.9,854.2 L996.0,854.2 L998.1,854.2 L1000.1,854.1 L1002.2,854.1 L1004.3,854.1 L1006.4,854.1 L1008.5,854.1 L1010.6,854.1 L1012.7,854.0 L1014.7,854.0 L1016.8,854.0 L1018.9,854.0 L1021.0,854.0 L1023.0,854.0 L1025.1,853.9 L1027.1,853.9 L1029.1,853.9 L1031.1,853.8 L1033.1,853.8 L1035.1,853.7 L1037.1,853.7 L1039.0,853.6 L1041.2,853.5 L1043.3,853.4 L1045.5,853.3 L1047.6,853.2 L1049.7,853.1 L1051.8,853.0 L1053.9,852.8 L1056.0,852.7 L1058.1,852.6 L1060.1,852.4 L1062.2,852.3 L1064.2,852.1 L1066.3,852.0 L1068.3,851.8 L1070.3,851.7 L1072.2,851.6 L1074.2,851.4 L1076.2,851.3 L1078.1,851.1 L1080.0,851.0 L1082.2,850.9 L1084.4,850.7 L1086.6,850.6 L1088.7,850.5 L1090.9,850.4 L1093.0,850.2 L1095.1,850.1 L1097.2,850.0 L1099.2,849.9 L1101.2,849.7 L1103.3,849.5 L1105.3,849.3 L1107.2,849.1 L1109.2,848.9 L1111.1,848.6 L1113.2,848.3 L1115.2,847.9 L1117.2,847.5 L1119.2,847.1 L1121.1,846.7 L1123.0,846.2 L1125.0,845.8 L1126.9,845.3 L1128.8,844.8 L1130.7,844.3 L1132.6,843.7 L1134.5,843.2 L1136.5,842.6 L1138.4,842.1 L1140.4,841.5 L1142.4,840.8 L1144.4,840.2 L1146.4,839.6 L1148.3,838.9 L1150.3,838.2 L1152.2,837.5 L1154.1,836.8 L1156.0,836.1 L1157.8,835.4 L1159.8,834.6 L1161.8,833.8 L1163.7,832.9 L1165.7,832.0 L1167.6,831.2 L1169.4,830.3 L1171.3,829.4 L1173.1,828.5 L1174.8,827.7 L1176.5,826.8 L1178.4,825.8 L1180.2,824.8 L1182.0,823.9 L1183.7,822.9 L1185.4,821.9 L1187.2,820.9 L1189.0,819.8 L1190.7,818.8 L1192.3,817.9 L1194.1,816.9 L1195.8,815.8 L1197.5,814.8 L1199.3,813.8 L1201.0,812.7 L1202.8,811.6 L1204.5,810.5 L1206.2,809.3 L1208.0,808.1 L1209.7,806.9 L1211.4,805.6 L1213.1,804.3 L1214.9,803.1 L1216.6,801.9 L1218.3,800.7 L1220.1,799.6 L1222.0,798.5 L1223.9,797.4 L1225.9,796.3 L1227.8,795.3 L1229.8,794.3 L1231.7,793.4 L1233.7,792.6 L1235.7,791.8 L1237.9,791.0 L1240.1,790.3 L1242.3,789.7 L1244.5,789.2 L1246.7,788.7 L1249.0,788.3 L1251.2,787.9 L1253.4,787.6 L1255.6,787.4 L1257.9,787.2 L1260.1,787.1 L1262.3,787.1 L1264.6,787.1 L1266.8,787.1 L1269.0,787.2 L1271.3,787.2 L1273.5,787.3 L1275.8,787.5 L1278.0,787.8 L1280.2,788.2 L1282.4,788.7 L1284.4,789.4 L1286.3,790.2 L1288.3,791.2 L1290.2,792.3 L1292.1,793.4 L1294.0,794.5 L1296.0,795.5 L1297.9,796.5 L1299.9,797.4 L1301.8,798.3 L1303.8,799.1 L1305.8,800.0 L1307.8,800.9 L1309.7,801.7 L1311.6,802.6 L1313.5,803.5 L1315.4,804.4 L1317.3,805.4 L1319.1,806.3 L1320.9,807.2 L1322.6,808.2 L1324.3,809.3 L1326.0,810.5 L1327.7,811.8 L1329.3,813.3 L1330.9,814.8 L1332.5,816.4 L1334.0,818.0 L1335.4,819.7 L1336.8,821.4 L1338.0,823.1 L1339.2,824.8 L1340.3,826.6 L1341.3,828.4 L1342.4,830.2 L1343.5,832.0 L1344.6,833.8 L1345.7,835.5 L1346.8,837.3 L1348.0,839.1 L1349.1,840.9 L1350.3,842.7 L1351.5,844.5 L1352.7,846.2 L1354.0,847.8 L1355.4,849.5 L1356.9,851.2 L1358.4,852.9 L1359.9,854.5 L1361.5,856.0 L1363.2,857.4 L1364.9,858.7 L1366.7,859.8 L1368.6,860.9 L1370.5,861.8 L1372.5,862.6 L1374.6,863.4 L1376.7,864.2 L1378.9,865.0 L1380.8,865.7 L1382.7,866.3 L1384.6,867.0 L1386.7,867.6 L1388.7,868.2 L1390.8,868.8 L1392.9,869.4 L1395.0,870.0 L1397.0,870.6 L1399.1,871.2 L1401.2,871.9 L1403.2,872.5 L1405.2,873.2 L1407.2,873.9 L1409.2,874.6 L1411.3,875.3 L1413.4,875.9 L1415.5,876.5 L1417.7,877.1 L1420.0,877.5 L1421.8,877.8 L1423.7,878.1 L1425.6,878.3 L1427.5,878.5 L1429.5,878.6 L1431.5,878.7 L1433.5,878.8 L1435.5,878.9 L1437.6,879.0 L1439.7,879.0 L1441.9,879.1 L1444.0,879.1 L1446.3,879.1 L1448.5,879.2 L1450.8,879.2 L1452.6,879.2 L1454.5,879.2 L1456.3,879.2 L1458.3,879.2 L1460.2,879.2 L1462.2,879.2 L1464.2,879.2 L1466.2,879.1 L1468.3,879.1 L1470.3,879.1 L1472.4,879.0 L1474.5,879.0 L1476.6,878.9 L1478.8,878.8 L1480.9,878.8 L1483.0,878.7 L1485.2,878.6 L1487.3,878.5 L1489.4,878.5 L1491.6,878.4 L1493.7,878.3 L1495.8,878.2 L1497.9,878.2 L1499.9,878.1 L1502.0,878.0 L1504.1,877.9 L1506.1,877.8 L1508.2,877.7 L1510.2,877.6 L1512.3,877.5 L1514.3,877.4 L1516.4,877.3 L1518.4,877.2 L1520.5,877.1 L1522.5,877.0 L1524.6,876.9 L1526.6,876.8 L1528.7,876.6 L1530.7,876.5 L1532.8,876.4 L1534.8,876.3 L1536.9,876.2 L1538.9,876.1 L1541.0,876.0 L1543.0,875.9 L1545.1,875.8 L1547.1,875.7 L1549.2,875.6 L1551.2,875.5 L1553.3,875.4 L1555.3,875.3 L1557.4,875.2 L1559.4,875.2 L1561.4,875.1 L1563.4,875.0 L1565.4,875.0 L1567.4,874.9 L1569.4,874.8 L1571.3,874.8 L1573.3,874.7 L1575.3,874.7 L1577.3,874.6 L1579.3,874.6 L1581.3,874.5 L1583.3,874.5 L1585.4,874.4 L1587.4,874.4 L1589.5,874.3 L1591.6,874.3 L1593.7,874.3 L1595.8,874.2 L1598.0,874.2 L1600.1,874.2 L1602.4,874.1 L1604.6,874.1 L1606.4,874.1 L1608.3,874.1 L1610.2,874.0 L1612.1,874.0 L1614.1,874.0 L1616.0,874.0 L1618.0,873.9 L1620.0,873.9 L1622.1,873.9 L1624.1,873.9 L1626.2,873.8 L1628.3,873.8 L1630.4,873.8 L1632.5,873.8 L1634.6,873.8 L1636.7,873.7 L1638.8,873.7 L1640.9,873.7 L1643.1,873.7 L1645.2,873.7 L1647.3,873.7 L1649.4,873.7 L1651.5,873.7 L1653.6,873.7 L1655.7,873.7 L1657.8,873.7 L1659.9,873.7 L1662.0,873.7 L1664.0,873.8 L1666.1,873.8 L1668.1,873.8 L1670.1,873.8 L1672.0,873.9 L1674.0,873.9 L1675.9,873.9 L1677.8,874.0 L1679.7,874.0 L1681.5,874.1 L1683.7,874.2 L1686.0,874.3 L1688.2,874.4 L1690.3,874.5 L1692.5,874.6 L1694.6,874.7 L1696.7,874.8 L1698.8,874.9 L1700.8,875.1 L1702.9,875.2 L1704.9,875.4 L1706.9,875.5 L1708.9,875.7 L1710.9,875.8 L1712.9,876.0 L1714.9,876.1 L1716.9,876.3 L1718.9,876.4 L1720.9,876.6 L1722.8,876.7 L1724.8,876.9 L1726.8,877.0 L1728.8,877.1 L1730.8,877.3 L1732.8,877.4 L1734.9,877.5 L1736.9,877.7 L1738.9,877.8 L1740.9,877.9 L1742.9,878.0 L1744.8,878.2 L1746.7,878.3 L1748.6,878.4 L1750.6,878.6 L1752.5,878.7 L1754.4,878.8 L1756.3,878.9 L1758.3,879.1 L1760.3,879.2 L1762.3,879.3 L1764.3,879.4 L1766.4,879.6 L1768.6,879.7 L1770.7,879.8 L1773.0,879.9 L1775.2,880.1 L1777.6,880.2 L1780.0,880.3 L1781.7,880.4 L1783.3,880.5 L1785.0,880.5 L1786.8,880.6 L1788.5,880.7 L1790.3,880.8 L1792.1,880.9 L1793.9,881.0 L1795.8,881.0 L1797.6,881.1 L1799.5,881.2 L1801.4,881.3 L1803.3,881.4 L1805.3,881.5 L1807.2,881.5 L1809.2,881.6 L1811.2,881.7 L1813.2,881.8 L1815.2,881.9 L1817.3,881.9 L1819.3,882.0 L1821.4,882.1 L1823.5,882.2 L1825.6,882.3 L1827.7,882.3 L1829.8,882.4 L1831.9,882.5 L1834.0,882.6 L1836.1,882.7 L1838.3,882.8 L1840.4,882.8 L1842.6,882.9 L1844.7,883.0 L1846.9,883.1 L1849.1,883.2 L1851.2,883.2 L1853.4,883.3 L1855.6,883.4 L1857.7,883.5 L1859.9,883.6 L1862.1,883.7 L1864.3,883.7 L1866.4,883.8 L1868.6,883.9 L1870.7,884.0 L1872.9,884.1 L1875.1,884.2 L1877.2,884.2 L1879.3,884.3 L1881.5,884.4 L1883.6,884.5 L1885.5,884.6 L1887.5,884.7 L1889.4,884.7 L1891.4,884.8 L1893.4,884.9 L1895.3,885.0 L1897.3,885.1 L1899.3,885.1 L1901.3,885.2 L1903.3,885.3 L1905.2,885.4 L1907.2,885.5 L1909.2,885.6 L1911.2,885.6 L1913.3,885.7 L1915.3,885.8 L1917.3,885.9 L1919.3,886.0 L1921.3,886.1 L1923.3,886.2 L1925.4,886.2 L1927.4,886.3 L1929.4,886.4 L1931.5,886.5 L1933.5,886.6 L1935.6,886.7 L1937.6,886.8 L1939.6,886.8 L1941.7,886.9 L1943.7,887.0 L1945.8,887.1 L1947.8,887.2 L1949.9,887.3 L1951.9,887.4 L1954.0,887.4 L1956.1,887.5 L1958.1,887.6 L1960.2,887.7 L1962.2,887.8 L1964.3,887.9 L1966.3,887.9 L1968.4,888.0 L1970.5,888.1 L1972.5,888.2 L1974.6,888.3 L1976.6,888.4 L1978.7,888.4 L1980.7,888.5 L1982.8,888.6 L1984.8,888.7 L1986.9,888.7 L1988.9,888.8 L1991.0,888.9 L1993.0,889.0 L1995.1,889.1 L1997.1,889.1 L1999.2,889.2 L2001.2,889.3 L2003.2,889.4 L2005.3,889.4 L2007.3,889.5 L2009.3,889.6 L2011.3,889.6 L2013.4,889.7 L2015.4,889.8 L2017.4,889.9 L2019.4,889.9 L2021.4,890.0 L2023.4,890.1 L2025.4,890.1 L2027.4,890.2 L2029.4,890.3 L2031.4,890.3 L2033.4,890.4 L2035.4,890.5 L2037.4,890.5 L2039.4,890.6 L2041.3,890.7 L2043.3,890.8 L2045.3,890.8 L2047.3,890.9 L2049.3,891.0 L2051.3,891.0 L2053.3,891.1 L2055.3,891.1 L2057.2,891.2 L2059.2,891.3 L2061.2,891.3 L2063.2,891.4 L2065.2,891.5 L2067.2,891.5 L2069.2,891.6 L2071.2,891.7 L2073.2,891.7 L2075.2,891.8 L2077.2,891.8 L2079.2,891.9 L2081.2,892.0 L2083.2,892.0 L2085.3,892.1 L2087.3,892.1 L2089.3,892.2 L2091.4,892.2 L2093.4,892.3 L2095.4,892.4 L2097.5,892.4 L2099.5,892.5 L2101.6,892.5 L2103.6,892.6 L2105.7,892.6 L2107.8,892.7 L2109.9,892.7 L2111.9,892.8 L2114.0,892.8 L2116.1,892.9 L2118.2,892.9 L2120.3,893.0 L2122.5,893.0 L2124.6,893.1 L2126.7,893.1 L2128.9,893.2 L2131.0,893.2 L2132.9,893.2 L2134.9,893.3 L2136.9,893.3 L2138.9,893.4 L2141.1,893.4 L2143.2,893.4 L2145.4,893.5 L2147.7,893.5 L2150.0,893.5 L2152.3,893.6 L2154.6,893.6 L2157.0,893.6 L2159.5,893.7 L2161.9,893.7 L2164.4,893.7 L2166.9,893.8 L2169.5,893.8 L2172.0,893.8 L2174.6,893.9 L2177.2,893.9 L2179.8,893.9 L2182.4,894.0 L2185.1,894.0 L2187.7,894.0 L2190.4,894.0 L2193.0,894.1 L2195.7,894.1 L2198.4,894.1 L2201.1,894.2 L2203.7,894.2 L2206.4,894.2 L2209.0,894.2 L2211.7,894.3 L2214.3,894.3 L2216.9,894.3 L2219.6,894.3 L2222.1,894.4 L2224.7,894.4 L2227.3,894.4 L2229.8,894.4 L2232.3,894.5 L2234.8,894.5 L2237.2,894.5 L2239.7,894.5 L2242.0,894.5 L2244.4,894.6 L2246.7,894.6 L2249.0,894.6 L2251.2,894.6 L2253.4,894.6 L2255.6,894.7 L2257.7,894.7 L2259.7,894.7 L2261.7,894.7 L2263.6,894.7 L2265.5,894.7 L2267.4,894.7 L2269.1,894.8 L2270.8,894.8 L2272.5,894.8 L2274.1,894.8 L2275.6,894.8 L2277.0,894.8 L2278.4,894.8 L2279.7,894.8 L2280.9,894.8 L2282.1,894.9 L2283.1,894.9 L2284.1,894.9 L2285.0,894.9 L2285.8,894.9 L2286.6,894.9 L2287.2,894.9 L2287.7,894.9 L2288.2,894.9 L2288.5,894.9 L2288.8,894.9 L2288.9,894.9 L2289.0,894.9" fill="none" stroke="#505050" stroke-width="8.6" stroke-linejoin="round" stroke-linecap="butt"/>
<path d="M149.0,970.5 L149.5,970.5 L150.7,970.6 L152.6,970.7 L155.0,970.9 L157.7,971.1 L160.4,971.3 L163.1,971.5 L165.6,971.8 L167.5,972.0 L169.5,972.3 L171.4,972.7 L173.4,973.0 L175.5,973.4 L177.5,973.8 L179.7,974.1 L181.9,974.5 L184.1,974.8 L186.4,975.1 L188.8,975.4 L191.3,975.6 L193.0,975.7 L194.8,975.8 L196.6,975.8 L198.5,975.9 L200.4,975.9 L202.4,975.9 L204.4,975.9 L206.4,975.8 L208.5,975.8 L210.5,975.7 L212.7,975.7 L214.8,975.6 L216.9,975.5 L219.1,975.4 L221.2,975.4 L223.4,975.3 L225.6,975.2 L227.7,975.1 L229.9,975.1 L232.1,975.0 L234.2,975.0 L236.3,974.9 L238.4,974.9 L240.5,974.9 L242.6,974.9 L244.7,974.9 L246.8,974.9 L248.9,975.0 L251.1,975.0 L253.3,975.1 L255.5,975.1 L257.7,975.2 L260.0,975.3 L262.2,975.3 L264.5,975.4 L266.7,975.5 L268.9,975.5 L271.1,975.6 L273.3,975.7 L275.4,975.8 L277.5,975.8 L279.5,975.9 L281.5,976.0 L283.5,976.1 L285.4,976.1 L287.2,976.2 L289.0,976.3 L290.7,976.3 L292.3,976.4 L293.8,976.4 L296.3,976.5 L298.6,976.6 L300.8,976.8 L302.8,976.9 L304.7,977.0 L306.6,977.0 L308.3,977.0 L310.0,976.8 L312.3,976.3 L314.3,975.6 L316.2,974.9 L318.2,974.3 L320.3,974.0 L322.4,973.9 L324.4,973.8 L326.5,973.5 L328.6,972.9 L330.7,972.2 L332.7,971.3 L334.7,970.2 L336.4,969.1 L338.1,967.8 L339.8,966.4 L341.4,965.0 L343.0,963.6 L344.7,962.0 L346.4,960.3 L348.0,958.7 L349.6,957.0 L351.3,955.4 L352.9,953.7 L354.6,952.1 L356.2,950.4 L357.9,948.6 L359.5,946.8 L361.2,944.9 L362.8,943.0 L364.1,941.3 L365.4,939.6 L366.7,937.8 L368.0,936.2 L369.4,934.7 L371.0,933.3 L372.6,932.0 L374.2,930.9 L375.9,929.8 L378.1,928.5 L380.3,927.4 L382.5,926.5 L384.7,925.9 L386.9,925.5 L389.1,925.3 L391.3,925.4 L393.5,925.8 L395.7,926.5 L398.0,927.6 L400.1,929.0 L402.3,930.6 L404.0,931.9 L405.7,933.3 L407.3,934.8 L408.9,936.4 L410.3,937.9 L411.6,939.5 L412.9,941.2 L414.2,942.9 L415.5,944.6 L416.8,946.3 L418.1,948.0 L419.4,949.7 L420.8,951.3 L422.1,952.9 L423.7,954.6 L425.4,956.2 L427.1,957.8 L428.7,959.5 L430.4,961.3 L432.0,963.2 L433.6,965.1 L435.3,966.9 L436.9,968.6 L438.6,970.2 L440.2,971.9 L441.9,973.5 L443.5,975.1 L445.2,976.8 L446.8,978.5 L448.5,980.1 L450.1,981.8 L451.8,983.5 L453.4,985.2 L455.1,986.7 L456.7,988.1 L458.3,989.3 L459.9,990.5 L461.7,991.6 L463.8,992.6 L466.0,993.4 L468.4,994.2 L470.8,994.9 L472.7,995.4 L474.7,995.9 L476.7,996.3 L478.8,996.7 L480.9,997.1 L483.1,997.4 L485.2,997.7 L487.2,997.9 L489.3,998.1 L491.4,998.2 L493.7,998.4 L496.2,998.5 L499.0,998.7 L500.5,998.8 L502.1,998.9 L503.8,999.0 L505.6,999.1 L507.4,999.2 L509.3,999.3 L511.2,999.4 L513.3,999.5 L515.3,999.6 L517.4,999.8 L519.6,999.9 L521.7,1000.0 L523.9,1000.1 L526.1,1000.2 L528.4,1000.3 L530.6,1000.4 L532.9,1000.5 L535.1,1000.6 L537.4,1000.7 L539.6,1000.8 L541.8,1000.9 L544.0,1001.0 L546.1,1001.1 L548.2,1001.2 L550.3,1001.3 L552.3,1001.4 L554.4,1001.5 L556.4,1001.5 L558.5,1001.6 L560.5,1001.7 L562.6,1001.8 L564.6,1001.8 L566.7,1001.9 L568.7,1002.0 L570.8,1002.0 L572.8,1002.1 L574.9,1002.2 L576.9,1002.2 L579.0,1002.3 L581.0,1002.4 L583.1,1002.4 L585.1,1002.5 L587.2,1002.6 L589.2,1002.6 L591.3,1002.7 L593.3,1002.8 L595.4,1002.9 L597.4,1002.9 L599.5,1003.0 L601.5,1003.1 L603.6,1003.2 L605.7,1003.3 L607.8,1003.4 L609.9,1003.5 L612.0,1003.6 L614.2,1003.7 L616.3,1003.8 L618.5,1003.8 L620.6,1003.9 L622.8,1004.1 L624.9,1004.2 L627.1,1004.3 L629.2,1004.4 L631.3,1004.5 L633.4,1004.6 L635.5,1004.7 L637.6,1004.8 L639.6,1004.9 L641.6,1005.0 L643.6,1005.1 L645.5,1005.2 L647.4,1005.3 L649.2,1005.4 L651.0,1005.5 L652.8,1005.6 L655.1,1005.7 L657.4,1005.9 L659.5,1006.1 L661.5,1006.2 L663.5,1006.4 L665.4,1006.5 L667.4,1006.7 L669.3,1006.9 L671.3,1007.0 L673.3,1007.1 L675.4,1007.2 L677.6,1007.3 L680.0,1007.4 L681.8,1007.4 L683.6,1007.5 L685.6,1007.5 L687.5,1007.5 L689.6,1007.6 L691.7,1007.6 L693.8,1007.6 L696.0,1007.6 L698.2,1007.6 L700.5,1007.6 L702.7,1007.6 L705.0,1007.6 L707.2,1007.6 L709.5,1007.6 L711.7,1007.5 L713.9,1007.5 L716.0,1007.4 L718.2,1007.4 L720.2,1007.3 L722.3,1007.2 L724.2,1007.1 L726.1,1007.0 L727.9,1006.9 L729.7,1006.8 L731.3,1006.7 L733.8,1006.5 L736.1,1006.3 L738.3,1006.1 L740.4,1005.8 L742.5,1005.6 L744.5,1005.3 L746.4,1005.0 L748.2,1004.6 L750.0,1004.1 L751.8,1003.6 L753.8,1002.8 L755.6,1001.9 L757.4,1000.8 L759.1,999.8 L760.8,998.8 L762.6,997.9 L764.6,997.2 L766.5,996.7 L768.5,996.3 L770.5,996.0 L772.7,995.7 L774.8,995.5 L776.9,995.4 L778.9,995.5 L780.8,995.6 L782.6,995.9 L784.8,996.7 L786.6,997.9 L788.3,999.2 L790.3,1000.5 L792.8,1001.5 L794.2,1001.9 L795.7,1002.2 L797.4,1002.5 L799.1,1002.7 L800.9,1002.9 L802.9,1003.1 L804.9,1003.3 L806.9,1003.4 L809.1,1003.5 L811.2,1003.6 L813.4,1003.7 L815.7,1003.8 L818.0,1003.8 L820.3,1003.9 L822.6,1003.9 L824.8,1003.9 L827.1,1004.0 L829.4,1004.0 L831.6,1004.0 L833.8,1004.1 L835.7,1004.1 L837.7,1004.2 L839.7,1004.2 L841.7,1004.2 L843.7,1004.3 L845.7,1004.3 L847.7,1004.3 L849.8,1004.3 L851.8,1004.3 L853.9,1004.3 L856.0,1004.2 L858.1,1004.2 L860.1,1004.2 L862.2,1004.2 L864.3,1004.1 L866.4,1004.1 L868.5,1004.0 L870.6,1004.0 L872.7,1003.9 L874.7,1003.9 L876.8,1003.8 L878.9,1003.8 L881.0,1003.7 L883.0,1003.7 L885.1,1003.6 L887.2,1003.5 L889.2,1003.5 L891.3,1003.4 L893.3,1003.3 L895.4,1003.2 L897.4,1003.1 L899.5,1003.0 L901.5,1002.9 L903.6,1002.7 L905.6,1002.6 L907.7,1002.5 L909.7,1002.4 L911.8,1002.2 L913.8,1002.1 L915.9,1002.0 L917.9,1001.9 L920.0,1001.7 L922.0,1001.6 L924.1,1001.5 L926.1,1001.4 L928.2,1001.3 L930.2,1001.2 L932.3,1001.1 L934.3,1001.1 L936.4,1001.0 L938.4,1000.9 L940.5,1000.9 L942.5,1000.9 L944.5,1000.8 L946.5,1000.8 L948.5,1000.8 L950.5,1000.7 L952.5,1000.7 L954.4,1000.7 L956.4,1000.7 L958.4,1000.7 L960.4,1000.7 L962.4,1000.7 L964.4,1000.7 L966.4,1000.7 L968.5,1000.7 L970.5,1000.7 L972.6,1000.7 L974.7,1000.7 L976.8,1000.7 L978.9,1000.6 L981.1,1000.6 L983.2,1000.6 L985.5,1000.5 L987.7,1000.5 L989.5,1000.5 L991.4,1000.4 L993.3,1000.4 L995.1,1000.3 L997.0,1000.3 L999.0,1000.2 L1000.9,1000.1 L1002.9,1000.1 L1004.8,1000.0 L1006.8,999.9 L1008.8,999.9 L1010.8,999.8 L1012.9,999.7 L1014.9,999.7 L1016.9,999.6 L1019.0,999.5 L1021.0,999.4 L1023.1,999.4 L1025.2,999.3 L1027.3,999.2 L1029.3,999.1 L1031.4,999.0 L1033.5,999.0 L1035.6,998.9 L1037.7,998.8 L1039.8,998.7 L1041.9,998.7 L1044.0,998.6 L1046.1,998.5 L1048.1,998.5 L1050.2,998.4 L1052.3,998.3 L1054.4,998.3 L1056.4,998.2 L1058.5,998.1 L1060.5,998.1 L1062.6,998.0 L1064.6,998.0 L1066.6,998.0 L1068.7,997.9 L1070.7,997.9 L1072.8,997.8 L1074.9,997.8 L1076.9,997.8 L1079.0,997.8 L1081.1,997.7 L1083.2,997.7 L1085.3,997.7 L1087.4,997.7 L1089.5,997.7 L1091.7,997.6 L1093.8,997.6 L1095.9,997.6 L1098.0,997.6 L1100.1,997.6 L1102.2,997.6 L1104.3,997.6 L1106.4,997.5 L1108.4,997.5 L1110.5,997.5 L1112.6,997.5 L1114.6,997.5 L1116.6,997.5 L1118.7,997.5 L1120.7,997.5 L1122.7,997.4 L1124.6,997.4 L1126.6,997.4 L1128.5,997.4 L1130.4,997.4 L1132.3,997.3 L1134.2,997.3 L1136.1,997.3 L1137.9,997.3 L1139.7,997.2 L1141.5,997.2 L1143.8,997.1 L1146.0,997.1 L1148.3,997.0 L1150.5,996.9 L1152.8,996.7 L1155.0,996.6 L1157.2,996.5 L1159.4,996.3 L1161.6,996.2 L1163.8,996.1 L1165.9,995.9 L1168.0,995.8 L1170.0,995.7 L1172.0,995.6 L1174.0,995.5 L1175.9,995.5 L1177.8,995.4 L1179.6,995.4 L1181.3,995.5 L1183.0,995.5 L1184.6,995.6 L1186.2,995.7 L1187.7,995.9 L1190.3,996.4 L1192.7,997.2 L1194.9,998.1 L1196.9,999.0 L1198.9,999.7 L1200.9,1000.3 L1203.0,1000.5 L1204.9,1000.4 L1206.9,1000.0 L1208.8,999.5 L1210.8,998.8 L1212.7,998.1 L1214.7,997.3 L1216.6,996.6 L1218.5,995.9 L1220.6,995.1 L1222.7,994.1 L1224.7,993.1 L1226.8,992.2 L1228.8,991.4 L1230.8,990.9 L1232.8,990.8 L1234.7,991.1 L1236.4,991.8 L1238.2,992.7 L1240.0,993.8 L1241.8,994.9 L1243.6,996.1 L1245.6,997.2 L1247.3,998.1 L1249.0,999.0 L1250.7,1000.1 L1252.5,1001.1 L1254.3,1002.2 L1256.2,1003.2 L1258.1,1004.2 L1260.0,1005.2 L1262.0,1006.1 L1264.1,1006.8 L1266.2,1007.4 L1268.0,1007.8 L1269.9,1008.1 L1271.8,1008.3 L1273.8,1008.4 L1275.8,1008.4 L1277.8,1008.4 L1279.9,1008.3 L1282.0,1008.3 L1284.1,1008.2 L1286.2,1008.1 L1288.4,1008.0 L1290.5,1008.0 L1292.7,1008.0 L1294.8,1008.1 L1297.0,1008.2 L1298.9,1008.4 L1300.9,1008.6 L1302.8,1008.9 L1304.8,1009.2 L1306.8,1009.5 L1308.8,1009.8 L1310.8,1010.2 L1312.9,1010.5 L1314.9,1010.9 L1317.0,1011.3 L1319.0,1011.6 L1321.1,1012.0 L1323.1,1012.3 L1325.2,1012.6 L1327.2,1012.9 L1329.3,1013.2 L1331.3,1013.4 L1333.4,1013.6 L1335.4,1013.8 L1337.4,1013.9 L1339.4,1014.0 L1341.4,1014.1 L1343.4,1014.2 L1345.4,1014.2 L1347.3,1014.2 L1349.3,1014.2 L1351.3,1014.2 L1353.3,1014.2 L1355.2,1014.1 L1357.2,1014.1 L1359.2,1014.0 L1361.3,1013.9 L1363.3,1013.8 L1365.4,1013.7 L1367.4,1013.6 L1369.5,1013.5 L1371.7,1013.4 L1373.8,1013.3 L1375.7,1013.2 L1377.7,1013.0 L1379.6,1012.9 L1381.6,1012.7 L1383.6,1012.5 L1385.6,1012.3 L1387.6,1012.1 L1389.7,1011.9 L1391.7,1011.7 L1393.8,1011.5 L1395.9,1011.2 L1397.9,1011.0 L1400.0,1010.7 L1402.1,1010.5 L1404.2,1010.2 L1406.3,1010.0 L1408.4,1009.8 L1410.5,1009.5 L1412.6,1009.3 L1414.7,1009.1 L1416.8,1008.9 L1418.9,1008.7 L1421.0,1008.5 L1423.0,1008.4 L1425.1,1008.2 L1427.2,1008.1 L1429.3,1007.9 L1431.4,1007.8 L1433.5,1007.7 L1435.6,1007.6 L1437.8,1007.6 L1440.0,1007.5 L1442.1,1007.4 L1444.3,1007.4 L1446.5,1007.3 L1448.6,1007.3 L1450.8,1007.2 L1452.9,1007.2 L1455.0,1007.1 L1457.2,1007.1 L1459.2,1007.0 L1461.3,1006.9 L1463.3,1006.9 L1465.3,1006.8 L1467.3,1006.7 L1469.2,1006.6 L1471.1,1006.5 L1472.9,1006.4 L1474.7,1006.3 L1476.4,1006.2 L1478.8,1006.0 L1481.0,1005.7 L1483.1,1005.5 L1485.1,1005.2 L1487.0,1004.9 L1488.9,1004.5 L1490.8,1004.2 L1492.8,1004.0 L1494.8,1003.7 L1497.0,1003.5 L1499.4,1003.3 L1502.0,1003.1 L1503.5,1003.0 L1505.1,1003.0 L1506.7,1002.9 L1508.4,1002.9 L1510.1,1002.9 L1511.8,1002.9 L1513.6,1002.9 L1515.5,1002.9 L1517.4,1002.9 L1519.3,1002.9 L1521.3,1003.0 L1523.2,1003.0 L1525.3,1003.1 L1527.3,1003.1 L1529.4,1003.2 L1531.5,1003.2 L1533.6,1003.3 L1535.8,1003.4 L1537.9,1003.5 L1540.1,1003.5 L1542.3,1003.6 L1544.4,1003.7 L1546.6,1003.8 L1548.9,1003.9 L1551.1,1004.0 L1553.3,1004.1 L1555.5,1004.1 L1557.7,1004.2 L1559.9,1004.3 L1562.1,1004.4 L1564.2,1004.5 L1566.4,1004.5 L1568.6,1004.6 L1570.7,1004.7 L1572.8,1004.7 L1574.9,1004.8 L1577.0,1004.9 L1579.0,1004.9 L1581.0,1004.9 L1583.1,1005.0 L1585.1,1005.0 L1587.1,1005.1 L1589.1,1005.1 L1591.2,1005.1 L1593.2,1005.2 L1595.2,1005.2 L1597.2,1005.2 L1599.3,1005.3 L1601.3,1005.3 L1603.3,1005.4 L1605.3,1005.4 L1607.4,1005.4 L1609.4,1005.5 L1611.4,1005.5 L1613.5,1005.5 L1615.5,1005.6 L1617.5,1005.6 L1619.5,1005.6 L1621.6,1005.7 L1623.6,1005.7 L1625.6,1005.7 L1627.6,1005.7 L1629.7,1005.8 L1631.7,1005.8 L1633.7,1005.8 L1635.7,1005.9 L1637.8,1005.9 L1639.8,1005.9 L1641.8,1006.0 L1643.8,1006.0 L1645.9,1006.0 L1647.9,1006.1 L1649.9,1006.1 L1651.9,1006.1 L1654.0,1006.2 L1656.0,1006.2 L1658.0,1006.2 L1660.0,1006.3 L1662.0,1006.3 L1664.0,1006.3 L1666.0,1006.4 L1667.9,1006.4 L1669.9,1006.4 L1671.8,1006.5 L1673.8,1006.5 L1675.7,1006.5 L1677.7,1006.6 L1679.6,1006.6 L1681.6,1006.6 L1683.5,1006.6 L1685.4,1006.7 L1687.4,1006.7 L1689.3,1006.7 L1691.3,1006.8 L1693.2,1006.8 L1695.2,1006.8 L1697.2,1006.9 L1699.1,1006.9 L1701.1,1006.9 L1703.1,1007.0 L1705.1,1007.0 L1707.2,1007.0 L1709.2,1007.1 L1711.2,1007.1 L1713.3,1007.1 L1715.4,1007.1 L1717.5,1007.2 L1719.6,1007.2 L1721.8,1007.2 L1723.9,1007.3 L1726.1,1007.3 L1728.3,1007.3 L1730.5,1007.4 L1732.8,1007.4 L1734.6,1007.4 L1736.4,1007.4 L1738.2,1007.5 L1740.1,1007.5 L1742.0,1007.5 L1743.9,1007.5 L1745.8,1007.6 L1747.8,1007.6 L1749.8,1007.6 L1751.8,1007.6 L1753.8,1007.7 L1755.9,1007.7 L1758.0,1007.7 L1760.1,1007.7 L1762.2,1007.8 L1764.3,1007.8 L1766.4,1007.8 L1768.6,1007.8 L1770.7,1007.9 L1772.9,1007.9 L1775.1,1007.9 L1777.3,1007.9 L1779.5,1008.0 L1781.7,1008.0 L1783.9,1008.0 L1786.1,1008.0 L1788.3,1008.1 L1790.5,1008.1 L1792.7,1008.1 L1794.9,1008.1 L1797.1,1008.2 L1799.3,1008.2 L1801.5,1008.2 L1803.7,1008.2 L1805.9,1008.3 L1808.0,1008.3 L1810.2,1008.3 L1812.4,1008.3 L1814.5,1008.4 L1816.6,1008.4 L1818.7,1008.4 L1820.8,1008.4 L1822.9,1008.5 L1824.9,1008.5 L1827.0,1008.5 L1829.0,1008.6 L1831.0,1008.6 L1833.0,1008.6 L1834.9,1008.6 L1836.8,1008.7 L1838.7,1008.7 L1840.6,1008.7 L1842.4,1008.7 L1844.2,1008.8 L1846.0,1008.8 L1847.7,1008.8 L1849.4,1008.8 L1851.1,1008.9 L1852.8,1008.9 L1854.3,1008.9 L1855.9,1008.9 L1857.4,1009.0 L1858.9,1009.0 L1861.4,1009.0 L1863.9,1009.1 L1866.2,1009.1 L1868.4,1009.2 L1870.5,1009.3 L1872.5,1009.3 L1874.5,1009.4 L1876.4,1009.4 L1878.2,1009.5 L1880.1,1009.5 L1881.9,1009.6 L1883.8,1009.6 L1885.6,1009.7 L1887.5,1009.7 L1889.4,1009.8 L1891.4,1009.8 L1893.4,1009.9 L1895.5,1009.9 L1897.7,1010.0 L1900.0,1010.0 L1901.8,1010.0 L1903.6,1010.0 L1905.4,1010.1 L1907.4,1010.1 L1909.3,1010.1 L1911.4,1010.1 L1913.4,1010.1 L1915.5,1010.1 L1917.7,1010.1 L1919.8,1010.1 L1922.0,1010.1 L1924.2,1010.1 L1926.4,1010.1 L1928.7,1010.1 L1930.9,1010.1 L1933.2,1010.1 L1935.4,1010.0 L1937.7,1010.0 L1939.9,1010.0 L1942.2,1010.0 L1944.4,1010.0 L1946.6,1010.1 L1948.8,1010.1 L1950.9,1010.1 L1953.1,1010.1 L1955.2,1010.1 L1957.2,1010.1 L1959.3,1010.2 L1961.2,1010.2 L1963.2,1010.3 L1965.1,1010.3 L1966.9,1010.4 L1968.6,1010.4 L1970.3,1010.5 L1972.0,1010.6 L1973.5,1010.7 L1975.0,1010.8 L1977.6,1011.0 L1980.1,1011.3 L1982.4,1011.6 L1984.7,1011.9 L1986.8,1012.3 L1988.8,1012.6 L1990.7,1012.9 L1992.6,1013.2 L1994.4,1013.5 L1996.2,1013.8 L1998.0,1014.0 L2000.1,1014.2 L2001.9,1014.4 L2003.6,1014.5 L2005.4,1014.6 L2007.4,1014.7 L2010.0,1014.8 L2011.2,1014.8 L2012.6,1014.9 L2014.0,1014.9 L2015.6,1014.9 L2017.2,1014.9 L2018.9,1014.9 L2020.8,1014.9 L2022.7,1014.9 L2024.7,1014.9 L2026.7,1014.9 L2028.8,1014.9 L2031.0,1014.9 L2033.2,1014.9 L2035.5,1014.8 L2037.8,1014.8 L2040.1,1014.8 L2042.4,1014.8 L2044.8,1014.7 L2047.2,1014.7 L2049.6,1014.7 L2052.0,1014.7 L2054.3,1014.7 L2056.7,1014.7 L2059.1,1014.6 L2061.4,1014.6 L2063.7,1014.6 L2065.9,1014.6 L2068.1,1014.6 L2070.3,1014.7 L2072.4,1014.7 L2074.4,1014.7 L2076.4,1014.7 L2078.3,1014.8 L2080.1,1014.8 L2081.8,1014.9 L2083.5,1014.9 L2085.0,1015.0 L2087.6,1015.2 L2090.0,1015.3 L2092.2,1015.5 L2094.4,1015.8 L2096.5,1016.0 L2098.5,1016.2 L2100.4,1016.5 L2102.3,1016.7 L2104.2,1016.9 L2106.1,1017.1 L2108.0,1017.3 L2110.0,1017.5 L2112.1,1017.7 L2114.1,1017.8 L2116.0,1017.9 L2117.9,1018.1 L2119.8,1018.2 L2121.8,1018.3 L2123.8,1018.4 L2126.0,1018.5 L2128.4,1018.5 L2131.0,1018.6 L2132.4,1018.6 L2133.9,1018.7 L2135.4,1018.7 L2137.0,1018.7 L2138.7,1018.7 L2140.4,1018.7 L2142.1,1018.7 L2143.9,1018.7 L2145.8,1018.7 L2147.6,1018.7 L2149.5,1018.7 L2151.5,1018.6 L2153.5,1018.6 L2155.5,1018.6 L2157.5,1018.6 L2159.6,1018.5 L2161.7,1018.5 L2163.8,1018.5 L2166.0,1018.4 L2168.1,1018.4 L2170.3,1018.4 L2172.5,1018.4 L2174.6,1018.3 L2176.8,1018.3 L2179.0,1018.3 L2181.3,1018.2 L2183.5,1018.2 L2185.7,1018.2 L2187.9,1018.1 L2190.1,1018.1 L2192.2,1018.1 L2194.4,1018.1 L2196.6,1018.0 L2198.7,1018.0 L2200.8,1018.0 L2202.9,1018.0 L2205.0,1018.0 L2207.0,1018.0 L2209.1,1018.0 L2211.2,1018.0 L2213.5,1018.0 L2215.8,1018.0 L2218.2,1018.0 L2220.6,1018.0 L2223.1,1018.0 L2225.7,1018.0 L2228.3,1018.0 L2230.9,1018.0 L2233.5,1018.0 L2236.2,1018.0 L2238.8,1018.1 L2241.5,1018.1 L2244.2,1018.1 L2246.8,1018.1 L2249.4,1018.1 L2252.1,1018.1 L2254.6,1018.1 L2257.2,1018.1 L2259.7,1018.1 L2262.1,1018.2 L2264.5,1018.2 L2266.8,1018.2 L2269.0,1018.2 L2271.2,1018.2 L2273.2,1018.2 L2275.2,1018.2 L2277.1,1018.2 L2278.8,1018.2 L2280.5,1018.2 L2282.0,1018.3 L2283.4,1018.3 L2284.7,1018.3 L2285.8,1018.3 L2286.7,1018.3 L2287.5,1018.3 L2288.2,1018.3 L2288.6,1018.3 L2288.9,1018.3 L2289.0,1018.3" fill="none" stroke="#31ae6c" stroke-opacity="0.33" stroke-width="14.5" stroke-linejoin="round" stroke-linecap="butt"/>
<path d="M149.0,970.5 L149.5,970.5 L150.7,970.6 L152.6,970.7 L155.0,970.9 L157.7,971.1 L160.4,971.3 L163.1,971.5 L165.6,971.8 L167.5,972.0 L169.5,972.3 L171.4,972.7 L173.4,973.0 L175.5,973.4 L177.5,973.8 L179.7,974.1 L181.9,974.5 L184.1,974.8 L186.4,975.1 L188.8,975.4 L191.3,975.6 L193.0,975.7 L194.8,975.8 L196.6,975.8 L198.5,975.9 L200.4,975.9 L202.4,975.9 L204.4,975.9 L206.4,975.8 L208.5,975.8 L210.5,975.7 L212.7,975.7 L214.8,975.6 L216.9,975.5 L219.1,975.4 L221.2,975.4 L223.4,975.3 L225.6,975.2 L227.7,975.1 L229.9,975.1 L232.1,975.0 L234.2,975.0 L236.3,974.9 L238.4,974.9 L240.5,974.9 L242.6,974.9 L244.7,974.9 L246.8,974.9 L248.9,975.0 L251.1,975.0 L253.3,975.1 L255.5,975.1 L257.7,975.2 L260.0,975.3 L262.2,975.3 L264.5,975.4 L266.7,975.5 L268.9,975.5 L271.1,975.6 L273.3,975.7 L275.4,975.8 L277.5,975.8 L279.5,975.9 L281.5,976.0 L283.5,976.1 L285.4,976.1 L287.2,976.2 L289.0,976.3 L290.7,976.3 L292.3,976.4 L293.8,976.4 L296.3,976.5 L298.6,976.6 L300.8,976.8 L302.8,976.9 L304.7,977.0 L306.6,977.0 L308.3,977.0 L310.0,976.8 L312.3,976.3 L314.3,975.6 L316.2,974.9 L318.2,974.3 L320.3,974.0 L322.4,973.9 L324.4,973.8 L326.5,973.5 L328.6,972.9 L330.7,972.2 L332.7,971.3 L334.7,970.2 L336.4,969.1 L338.1,967.8 L339.8,966.4 L341.4,965.0 L343.0,963.6 L344.7,962.0 L346.4,960.3 L348.0,958.7 L349.6,957.0 L351.3,955.4 L352.9,953.7 L354.6,952.1 L356.2,950.4 L357.9,948.6 L359.5,946.8 L361.2,944.9 L362.8,943.0 L364.1,941.3 L365.4,939.6 L366.7,937.8 L368.0,936.2 L369.4,934.7 L371.0,933.3 L372.6,932.0 L374.2,930.9 L375.9,929.8 L378.1,928.5 L380.3,927.4 L382.5,926.5 L384.7,925.9 L386.9,925.5 L389.1,925.3 L391.3,925.4 L393.5,925.8 L395.7,926.5 L398.0,927.6 L400.1,929.0 L402.3,930.6 L404.0,931.9 L405.7,933.3 L407.3,934.8 L408.9,936.4 L410.3,937.9 L411.6,939.5 L412.9,941.2 L414.2,942.9 L415.5,944.6 L416.8,946.3 L418.1,948.0 L419.4,949.7 L420.8,951.3 L422.1,952.9 L423.7,954.6 L425.4,956.2 L427.1,957.8 L428.7,959.5 L430.4,961.3 L432.0,963.2 L433.6,965.1 L435.3,966.9 L436.9,968.6 L438.6,970.2 L440.2,971.9 L441.9,973.5 L443.5,975.1 L445.2,976.8 L446.8,978.5 L448.5,980.1 L450.1,981.8 L451.8,983.5 L453.4,985.2 L455.1,986.7 L456.7,988.1 L458.3,989.3 L459.9,990.5 L461.7,991.6 L463.8,992.6 L466.0,993.4 L468.4,994.2 L470.8,994.9 L472.7,995.4 L474.7,995.9 L476.7,996.3 L478.8,996.7 L480.9,997.1 L483.1,997.4 L485.2,997.7 L487.2,997.9 L489.3,998.1 L491.4,998.2 L493.7,998.4 L496.2,998.5 L499.0,998.7 L500.5,998.8 L502.1,998.9 L503.8,999.0 L505.6,999.1 L507.4,999.2 L509.3,999.3 L511.2,999.4 L513.3,999.5 L515.3,999.6 L517.4,999.8 L519.6,999.9 L521.7,1000.0 L523.9,1000.1 L526.1,1000.2 L528.4,1000.3 L530.6,1000.4 L532.9,1000.5 L535.1,1000.6 L537.4,1000.7 L539.6,1000.8 L541.8,1000.9 L544.0,1001.0 L546.1,1001.1 L548.2,1001.2 L550.3,1001.3 L552.3,1001.4 L554.4,1001.5 L556.4,1001.5 L558.5,1001.6 L560.5,1001.7 L562.6,1001.8 L564.6,1001.8 L566.7,1001.9 L568.7,1002.0 L570.8,1002.0 L572.8,1002.1 L574.9,1002.2 L576.9,1002.2 L579.0,1002.3 L581.0,1002.4 L583.1,1002.4 L585.1,1002.5 L587.2,1002.6 L589.2,1002.6 L591.3,1002.7 L593.3,1002.8 L595.4,1002.9 L597.4,1002.9 L599.5,1003.0 L601.5,1003.1 L603.6,1003.2 L605.7,1003.3 L607.8,1003.4 L609.9,1003.5 L612.0,1003.6 L614.2,1003.7 L616.3,1003.8 L618.5,1003.8 L620.6,1003.9 L622.8,1004.1 L624.9,1004.2 L627.1,1004.3 L629.2,1004.4 L631.3,1004.5 L633.4,1004.6 L635.5,1004.7 L637.6,1004.8 L639.6,1004.9 L641.6,1005.0 L643.6,1005.1 L645.5,1005.2 L647.4,1005.3 L649.2,1005.4 L651.0,1005.5 L652.8,1005.6 L655.1,1005.7 L657.4,1005.9 L659.5,1006.1 L661.5,1006.2 L663.5,1006.4 L665.4,1006.5 L667.4,1006.7 L669.3,1006.9 L671.3,1007.0 L673.3,1007.1 L675.4,1007.2 L677.6,1007.3 L680.0,1007.4 L681.8,1007.4 L683.6,1007.5 L685.6,1007.5 L687.5,1007.5 L689.6,1007.6 L691.7,1007.6 L693.8,1007.6 L696.0,1007.6 L698.2,1007.6 L700.5,1007.6 L702.7,1007.6 L705.0,1007.6 L707.2,1007.6 L709.5,1007.6 L711.7,1007.5 L713.9,1007.5 L716.0,1007.4 L718.2,1007.4 L720.2,1007.3 L722.3,1007.2 L724.2,1007.1 L726.1,1007.0 L727.9,1006.9 L729.7,1006.8 L731.3,1006.7 L733.8,1006.5 L736.1,1006.3 L738.3,1006.1 L740.4,1005.8 L742.5,1005.6 L744.5,1005.3 L746.4,1005.0 L748.2,1004.6 L750.0,1004.1 L751.8,1003.6 L753.8,1002.8 L755.6,1001.9 L757.4,1000.8 L759.1,999.8 L760.8,998.8 L762.6,997.9 L764.6,997.2 L766.5,996.7 L768.5,996.3 L770.5,996.0 L772.7,995.7 L774.8,995.5 L776.9,995.4 L778.9,995.5 L780.8,995.6 L782.6,995.9 L784.8,996.7 L786.6,997.9 L788.3,999.2 L790.3,1000.5 L792.8,1001.5 L794.2,1001.9 L795.7,1002.2 L797.4,1002.5 L799.1,1002.7 L800.9,1002.9 L802.9,1003.1 L804.9,1003.3 L806.9,1003.4 L809.1,1003.5 L811.2,1003.6 L813.4,1003.7 L815.7,1003.8 L818.0,1003.8 L820.3,1003.9 L822.6,1003.9 L824.8,1003.9 L827.1,1004.0 L829.4,1004.0 L831.6,1004.0 L833.8,1004.1 L835.7,1004.1 L837.7,1004.2 L839.7,1004.2 L841.7,1004.2 L843.7,1004.3 L845.7,1004.3 L847.7,1004.3 L849.8,1004.3 L851.8,1004.3 L853.9,1004.3 L856.0,1004.2 L858.1,1004.2 L860.1,1004.2 L862.2,1004.2 L864.3,1004.1 L866.4,1004.1 L868.5,1004.0 L870.6,1004.0 L872.7,1003.9 L874.7,1003.9 L876.8,1003.8 L878.9,1003.8 L881.0,1003.7 L883.0,1003.7 L885.1,1003.6 L887.2,1003.5 L889.2,1003.5 L891.3,1003.4 L893.3,1003.3 L895.4,1003.2 L897.4,1003.1 L899.5,1003.0 L901.5,1002.9 L903.6,1002.7 L905.6,1002.6 L907.7,1002.5 L909.7,1002.4 L911.8,1002.2 L913.8,1002.1 L915.9,1002.0 L917.9,1001.9 L920.0,1001.7 L922.0,1001.6 L924.1,1001.5 L926.1,1001.4 L928.2,1001.3 L930.2,1001.2 L932.3,1001.1 L934.3,1001.1 L936.4,1001.0 L938.4,1000.9 L940.5,1000.9 L942.5,1000.9 L944.5,1000.8 L946.5,1000.8 L948.5,1000.8 L950.5,1000.7 L952.5,1000.7 L954.4,1000.7 L956.4,1000.7 L958.4,1000.7 L960.4,1000.7 L962.4,1000.7 L964.4,1000.7 L966.4,1000.7 L968.5,1000.7 L970.5,1000.7 L972.6,1000.7 L974.7,1000.7 L976.8,1000.7 L978.9,1000.6 L981.1,1000.6 L983.2,1000.6 L985.5,1000.5 L987.7,1000.5 L989.5,1000.5 L991.4,1000.4 L993.3,1000.4 L995.1,1000.3 L997.0,1000.3 L999.0,1000.2 L1000.9,1000.1 L1002.9,1000.1 L1004.8,1000.0 L1006.8,999.9 L1008.8,999.9 L1010.8,999.8 L1012.9,999.7 L1014.9,999.7 L1016.9,999.6 L1019.0,999.5 L1021.0,999.4 L1023.1,999.4 L1025.2,999.3 L1027.3,999.2 L1029.3,999.1 L1031.4,999.0 L1033.5,999.0 L1035.6,998.9 L1037.7,998.8 L1039.8,998.7 L1041.9,998.7 L1044.0,998.6 L1046.1,998.5 L1048.1,998.5 L1050.2,998.4 L1052.3,998.3 L1054.4,998.3 L1056.4,998.2 L1058.5,998.1 L1060.5,998.1 L1062.6,998.0 L1064.6,998.0 L1066.6,998.0 L1068.7,997.9 L1070.7,997.9 L1072.8,997.8 L1074.9,997.8 L1076.9,997.8 L1079.0,997.8 L1081.1,997.7 L1083.2,997.7 L1085.3,997.7 L1087.4,997.7 L1089.5,997.7 L1091.7,997.6 L1093.8,997.6 L1095.9,997.6 L1098.0,997.6 L1100.1,997.6 L1102.2,997.6 L1104.3,997.6 L1106.4,997.5 L1108.4,997.5 L1110.5,997.5 L1112.6,997.5 L1114.6,997.5 L1116.6,997.5 L1118.7,997.5 L1120.7,997.5 L1122.7,997.4 L1124.6,997.4 L1126.6,997.4 L1128.5,997.4 L1130.4,997.4 L1132.3,997.3 L1134.2,997.3 L1136.1,997.3 L1137.9,997.3 L1139.7,997.2 L1141.5,997.2 L1143.8,997.1 L1146.0,997.1 L1148.3,997.0 L1150.5,996.9 L1152.8,996.7 L1155.0,996.6 L1157.2,996.5 L1159.4,996.3 L1161.6,996.2 L1163.8,996.1 L1165.9,995.9 L1168.0,995.8 L1170.0,995.7 L1172.0,995.6 L1174.0,995.5 L1175.9,995.5 L1177.8,995.4 L1179.6,995.4 L1181.3,995.5 L1183.0,995.5 L1184.6,995.6 L1186.2,995.7 L1187.7,995.9 L1190.3,996.4 L1192.7,997.2 L1194.9,998.1 L1196.9,999.0 L1198.9,999.7 L1200.9,1000.3 L1203.0,1000.5 L1204.9,1000.4 L1206.9,1000.0 L1208.8,999.5 L1210.8,998.8 L1212.7,998.1 L1214.7,997.3 L1216.6,996.6 L1218.5,995.9 L1220.6,995.1 L1222.7,994.1 L1224.7,993.1 L1226.8,992.2 L1228.8,991.4 L1230.8,990.9 L1232.8,990.8 L1234.7,991.1 L1236.4,991.8 L1238.2,992.7 L1240.0,993.8 L1241.8,994.9 L1243.6,996.1 L1245.6,997.2 L1247.3,998.1 L1249.0,999.0 L1250.7,1000.1 L1252.5,1001.1 L1254.3,1002.2 L1256.2,1003.2 L1258.1,1004.2 L1260.0,1005.2 L1262.0,1006.1 L1264.1,1006.8 L1266.2,1007.4 L1268.0,1007.8 L1269.9,1008.1 L1271.8,1008.3 L1273.8,1008.4 L1275.8,1008.4 L1277.8,1008.4 L1279.9,1008.3 L1282.0,1008.3 L1284.1,1008.2 L1286.2,1008.1 L1288.4,1008.0 L1290.5,1008.0 L1292.7,1008.0 L1294.8,1008.1 L1297.0,1008.2 L1298.9,1008.4 L1300.9,1008.6 L1302.8,1008.9 L1304.8,1009.2 L1306.8,1009.5 L1308.8,1009.8 L1310.8,1010.2 L1312.9,1010.5 L1314.9,1010.9 L1317.0,1011.3 L1319.0,1011.6 L1321.1,1012.0 L1323.1,1012.3 L1325.2,1012.6 L1327.2,1012.9 L1329.3,1013.2 L1331.3,1013.4 L1333.4,1013.6 L1335.4,1013.8 L1337.4,1013.9 L1339.4,1014.0 L1341.4,1014.1 L1343.4,1014.2 L1345.4,1014.2 L1347.3,1014.2 L1349.3,1014.2 L1351.3,1014.2 L1353.3,1014.2 L1355.2,1014.1 L1357.2,1014.1 L1359.2,1014.0 L1361.3,1013.9 L1363.3,1013.8 L1365.4,1013.7 L1367.4,1013.6 L1369.5,1013.5 L1371.7,1013.4 L1373.8,1013.3 L1375.7,1013.2 L1377.7,1013.0 L1379.6,1012.9 L1381.6,1012.7 L1383.6,1012.5 L1385.6,1012.3 L1387.6,1012.1 L1389.7,1011.9 L1391.7,1011.7 L1393.8,1011.5 L1395.9,1011.2 L1397.9,1011.0 L1400.0,1010.7 L1402.1,1010.5 L1404.2,1010.2 L1406.3,1010.0 L1408.4,1009.8 L1410.5,1009.5 L1412.6,1009.3 L1414.7,1009.1 L1416.8,1008.9 L1418.9,1008.7 L1421.0,1008.5 L1423.0,1008.4 L1425.1,1008.2 L1427.2,1008.1 L1429.3,1007.9 L1431.4,1007.8 L1433.5,1007.7 L1435.6,1007.6 L1437.8,1007.6 L1440.0,1007.5 L1442.1,1007.4 L1444.3,1007.4 L1446.5,1007.3 L1448.6,1007.3 L1450.8,1007.2 L1452.9,1007.2 L1455.0,1007.1 L1457.2,1007.1 L1459.2,1007.0 L1461.3,1006.9 L1463.3,1006.9 L1465.3,1006.8 L1467.3,1006.7 L1469.2,1006.6 L1471.1,1006.5 L1472.9,1006.4 L1474.7,1006.3 L1476.4,1006.2 L1478.8,1006.0 L1481.0,1005.7 L1483.1,1005.5 L1485.1,1005.2 L1487.0,1004.9 L1488.9,1004.5 L1490.8,1004.2 L1492.8,1004.0 L1494.8,1003.7 L1497.0,1003.5 L1499.4,1003.3 L1502.0,1003.1 L1503.5,1003.0 L1505.1,1003.0 L1506.7,1002.9 L1508.4,1002.9 L1510.1,1002.9 L1511.8,1002.9 L1513.6,1002.9 L1515.5,1002.9 L1517.4,1002.9 L1519.3,1002.9 L1521.3,1003.0 L1523.2,1003.0 L1525.3,1003.1 L1527.3,1003.1 L1529.4,1003.2 L1531.5,1003.2 L1533.6,1003.3 L1535.8,1003.4 L1537.9,1003.5 L1540.1,1003.5 L1542.3,1003.6 L1544.4,1003.7 L1546.6,1003.8 L1548.9,1003.9 L1551.1,1004.0 L1553.3,1004.1 L1555.5,1004.1 L1557.7,1004.2 L1559.9,1004.3 L1562.1,1004.4 L1564.2,1004.5 L1566.4,1004.5 L1568.6,1004.6 L1570.7,1004.7 L1572.8,1004.7 L1574.9,1004.8 L1577.0,1004.9 L1579.0,1004.9 L1581.0,1004.9 L1583.1,1005.0 L1585.1,1005.0 L1587.1,1005.1 L1589.1,1005.1 L1591.2,1005.1 L1593.2,1005.2 L1595.2,1005.2 L1597.2,1005.2 L1599.3,1005.3 L1601.3,1005.3 L1603.3,1005.4 L1605.3,1005.4 L1607.4,1005.4 L1609.4,1005.5 L1611.4,1005.5 L1613.5,1005.5 L1615.5,1005.6 L1617.5,1005.6 L1619.5,1005.6 L1621.6,1005.7 L1623.6,1005.7 L1625.6,1005.7 L1627.6,1005.7 L1629.7,1005.8 L1631.7,1005.8 L1633.7,1005.8 L1635.7,1005.9 L1637.8,1005.9 L1639.8,1005.9 L1641.8,1006.0 L1643.8,1006.0 L1645.9,1006.0 L1647.9,1006.1 L1649.9,1006.1 L1651.9,1006.1 L1654.0,1006.2 L1656.0,1006.2 L1658.0,1006.2 L1660.0,1006.3 L1662.0,1006.3 L1664.0,1006.3 L1666.0,1006.4 L1667.9,1006.4 L1669.9,1006.4 L1671.8,1006.5 L1673.8,1006.5 L1675.7,1006.5 L1677.7,1006.6 L1679.6,1006.6 L1681.6,1006.6 L1683.5,1006.6 L1685.4,1006.7 L1687.4,1006.7 L1689.3,1006.7 L1691.3,1006.8 L1693.2,1006.8 L1695.2,1006.8 L1697.2,1006.9 L1699.1,1006.9 L1701.1,1006.9 L1703.1,1007.0 L1705.1,1007.0 L1707.2,1007.0 L1709.2,1007.1 L1711.2,1007.1 L1713.3,1007.1 L1715.4,1007.1 L1717.5,1007.2 L1719.6,1007.2 L1721.8,1007.2 L1723.9,1007.3 L1726.1,1007.3 L1728.3,1007.3 L1730.5,1007.4 L1732.8,1007.4 L1734.6,1007.4 L1736.4,1007.4 L1738.2,1007.5 L1740.1,1007.5 L1742.0,1007.5 L1743.9,1007.5 L1745.8,1007.6 L1747.8,1007.6 L1749.8,1007.6 L1751.8,1007.6 L1753.8,1007.7 L1755.9,1007.7 L1758.0,1007.7 L1760.1,1007.7 L1762.2,1007.8 L1764.3,1007.8 L1766.4,1007.8 L1768.6,1007.8 L1770.7,1007.9 L1772.9,1007.9 L1775.1,1007.9 L1777.3,1007.9 L1779.5,1008.0 L1781.7,1008.0 L1783.9,1008.0 L1786.1,1008.0 L1788.3,1008.1 L1790.5,1008.1 L1792.7,1008.1 L1794.9,1008.1 L1797.1,1008.2 L1799.3,1008.2 L1801.5,1008.2 L1803.7,1008.2 L1805.9,1008.3 L1808.0,1008.3 L1810.2,1008.3 L1812.4,1008.3 L1814.5,1008.4 L1816.6,1008.4 L1818.7,1008.4 L1820.8,1008.4 L1822.9,1008.5 L1824.9,1008.5 L1827.0,1008.5 L1829.0,1008.6 L1831.0,1008.6 L1833.0,1008.6 L1834.9,1008.6 L1836.8,1008.7 L1838.7,1008.7 L1840.6,1008.7 L1842.4,1008.7 L1844.2,1008.8 L1846.0,1008.8 L1847.7,1008.8 L1849.4,1008.8 L1851.1,1008.9 L1852.8,1008.9 L1854.3,1008.9 L1855.9,1008.9 L1857.4,1009.0 L1858.9,1009.0 L1861.4,1009.0 L1863.9,1009.1 L1866.2,1009.1 L1868.4,1009.2 L1870.5,1009.3 L1872.5,1009.3 L1874.5,1009.4 L1876.4,1009.4 L1878.2,1009.5 L1880.1,1009.5 L1881.9,1009.6 L1883.8,1009.6 L1885.6,1009.7 L1887.5,1009.7 L1889.4,1009.8 L1891.4,1009.8 L1893.4,1009.9 L1895.5,1009.9 L1897.7,1010.0 L1900.0,1010.0 L1901.8,1010.0 L1903.6,1010.0 L1905.4,1010.1 L1907.4,1010.1 L1909.3,1010.1 L1911.4,1010.1 L1913.4,1010.1 L1915.5,1010.1 L1917.7,1010.1 L1919.8,1010.1 L1922.0,1010.1 L1924.2,1010.1 L1926.4,1010.1 L1928.7,1010.1 L1930.9,1010.1 L1933.2,1010.1 L1935.4,1010.0 L1937.7,1010.0 L1939.9,1010.0 L1942.2,1010.0 L1944.4,1010.0 L1946.6,1010.1 L1948.8,1010.1 L1950.9,1010.1 L1953.1,1010.1 L1955.2,1010.1 L1957.2,1010.1 L1959.3,1010.2 L1961.2,1010.2 L1963.2,1010.3 L1965.1,1010.3 L1966.9,1010.4 L1968.6,1010.4 L1970.3,1010.5 L1972.0,1010.6 L1973.5,1010.7 L1975.0,1010.8 L1977.6,1011.0 L1980.1,1011.3 L1982.4,1011.6 L1984.7,1011.9 L1986.8,1012.3 L1988.8,1012.6 L1990.7,1012.9 L1992.6,1013.2 L1994.4,1013.5 L1996.2,1013.8 L1998.0,1014.0 L2000.1,1014.2 L2001.9,1014.4 L2003.6,1014.5 L2005.4,1014.6 L2007.4,1014.7 L2010.0,1014.8 L2011.2,1014.8 L2012.6,1014.9 L2014.0,1014.9 L2015.6,1014.9 L2017.2,1014.9 L2018.9,1014.9 L2020.8,1014.9 L2022.7,1014.9 L2024.7,1014.9 L2026.7,1014.9 L2028.8,1014.9 L2031.0,1014.9 L2033.2,1014.9 L2035.5,1014.8 L2037.8,1014.8 L2040.1,1014.8 L2042.4,1014.8 L2044.8,1014.7 L2047.2,1014.7 L2049.6,1014.7 L2052.0,1014.7 L2054.3,1014.7 L2056.7,1014.7 L2059.1,1014.6 L2061.4,1014.6 L2063.7,1014.6 L2065.9,1014.6 L2068.1,1014.6 L2070.3,1014.7 L2072.4,1014.7 L2074.4,1014.7 L2076.4,1014.7 L2078.3,1014.8 L2080.1,1014.8 L2081.8,1014.9 L2083.5,1014.9 L2085.0,1015.0 L2087.6,1015.2 L2090.0,1015.3 L2092.2,1015.5 L2094.4,1015.8 L2096.5,1016.0 L2098.5,1016.2 L2100.4,1016.5 L2102.3,1016.7 L2104.2,1016.9 L2106.1,1017.1 L2108.0,1017.3 L2110.0,1017.5 L2112.1,1017.7 L2114.1,1017.8 L2116.0,1017.9 L2117.9,1018.1 L2119.8,1018.2 L2121.8,1018.3 L2123.8,1018.4 L2126.0,1018.5 L2128.4,1018.5 L2131.0,1018.6 L2132.4,1018.6 L2133.9,1018.7 L2135.4,1018.7 L2137.0,1018.7 L2138.7,1018.7 L2140.4,1018.7 L2142.1,1018.7 L2143.9,1018.7 L2145.8,1018.7 L2147.6,1018.7 L2149.5,1018.7 L2151.5,1018.6 L2153.5,1018.6 L2155.5,1018.6 L2157.5,1018.6 L2159.6,1018.5 L2161.7,1018.5 L2163.8,1018.5 L2166.0,1018.4 L2168.1,1018.4 L2170.3,1018.4 L2172.5,1018.4 L2174.6,1018.3 L2176.8,1018.3 L2179.0,1018.3 L2181.3,1018.2 L2183.5,1018.2 L2185.7,1018.2 L2187.9,1018.1 L2190.1,1018.1 L2192.2,1018.1 L2194.4,1018.1 L2196.6,1018.0 L2198.7,1018.0 L2200.8,1018.0 L2202.9,1018.0 L2205.0,1018.0 L2207.0,1018.0 L2209.1,1018.0 L2211.2,1018.0 L2213.5,1018.0 L2215.8,1018.0 L2218.2,1018.0 L2220.6,1018.0 L2223.1,1018.0 L2225.7,1018.0 L2228.3,1018.0 L2230.9,1018.0 L2233.5,1018.0 L2236.2,1018.0 L2238.8,1018.1 L2241.5,1018.1 L2244.2,1018.1 L2246.8,1018.1 L2249.4,1018.1 L2252.1,1018.1 L2254.6,1018.1 L2257.2,1018.1 L2259.7,1018.1 L2262.1,1018.2 L2264.5,1018.2 L2266.8,1018.2 L2269.0,1018.2 L2271.2,1018.2 L2273.2,1018.2 L2275.2,1018.2 L2277.1,1018.2 L2278.8,1018.2 L2280.5,1018.2 L2282.0,1018.3 L2283.4,1018.3 L2284.7,1018.3 L2285.8,1018.3 L2286.7,1018.3 L2287.5,1018.3 L2288.2,1018.3 L2288.6,1018.3 L2288.9,1018.3 L2289.0,1018.3" fill="none" stroke="#31ae6c" stroke-width="8.2" stroke-linejoin="round" stroke-linecap="butt"/>
<path d="M149.3,1203.0 L149.6,1203.0 L150.6,1202.9 L152.1,1202.8 L154.0,1202.7 L156.3,1202.5 L158.9,1202.4 L161.6,1202.3 L164.5,1202.2 L167.4,1202.1 L170.2,1202.1 L172.8,1202.1 L175.2,1202.2 L177.3,1202.4 L178.9,1202.7 L181.2,1203.5 L183.0,1204.4 L184.7,1205.5 L186.7,1206.6 L188.4,1207.4 L190.1,1208.2 L192.0,1209.0 L193.9,1209.8 L195.9,1210.7 L198.0,1211.5 L200.1,1212.2 L202.3,1212.8 L204.2,1213.3 L206.2,1213.7 L208.2,1214.1 L210.2,1214.4 L212.3,1214.7 L214.5,1215.0 L216.7,1215.2 L218.9,1215.4 L221.1,1215.6 L223.3,1215.8 L225.6,1215.9 L227.6,1216.0 L229.6,1216.1 L231.7,1216.2 L233.9,1216.3 L236.0,1216.3 L238.3,1216.3 L240.5,1216.3 L242.7,1216.3 L244.9,1216.3 L247.0,1216.2 L249.1,1216.1 L251.1,1215.9 L253.1,1215.7 L254.9,1215.4 L256.7,1215.1 L258.9,1214.5 L261.0,1213.9 L263.0,1213.1 L264.9,1212.2 L266.7,1211.4 L268.5,1210.5 L270.4,1209.7 L272.3,1208.9 L274.3,1208.2 L276.4,1207.5 L278.5,1206.9 L280.6,1206.3 L282.6,1205.6 L284.5,1205.0 L286.3,1204.3 L287.9,1203.5 L290.1,1201.8 L291.9,1200.0 L294.1,1198.8 L295.8,1198.7 L297.6,1199.0 L299.7,1199.5 L301.9,1200.3 L304.2,1201.1 L306.5,1201.8 L308.9,1202.4 L311.2,1202.7 L313.2,1202.8 L315.4,1202.8 L317.7,1202.8 L320.0,1202.8 L322.4,1202.7 L324.7,1202.5 L326.9,1202.2 L329.1,1201.9 L331.1,1201.5 L333.0,1201.0 L334.6,1200.4 L336.5,1199.3 L337.9,1198.0 L339.2,1196.6 L340.6,1195.2 L342.4,1194.1 L344.1,1193.5 L346.1,1193.1 L348.2,1192.9 L350.5,1192.7 L352.8,1192.6 L355.0,1192.4 L357.2,1192.1 L359.2,1191.7 L361.0,1191.0 L362.8,1189.8 L364.4,1188.3 L365.9,1186.7 L367.3,1185.1 L368.8,1183.6 L370.4,1182.5 L372.5,1181.5 L374.7,1180.8 L377.0,1180.2 L379.2,1180.0 L381.3,1180.1 L383.3,1180.9 L385.1,1182.2 L387.0,1183.7 L389.1,1184.8 L391.0,1185.3 L393.2,1185.6 L395.5,1185.8 L397.8,1186.0 L400.2,1186.2 L402.5,1186.5 L404.6,1187.1 L406.5,1187.8 L408.4,1188.7 L410.3,1189.7 L412.1,1190.7 L413.9,1191.8 L415.5,1193.0 L417.1,1194.1 L418.8,1195.7 L420.3,1197.5 L421.7,1199.3 L423.2,1200.9 L424.9,1201.9 L426.9,1202.3 L428.9,1202.3 L431.2,1201.9 L433.5,1201.5 L435.8,1201.1 L437.9,1200.8 L440.0,1200.4 L442.3,1199.9 L444.5,1199.4 L446.8,1198.9 L449.1,1198.4 L451.3,1198.0 L453.5,1197.6 L455.8,1197.2 L458.0,1196.9 L460.3,1196.5 L462.5,1196.2 L464.7,1195.9 L466.9,1195.7 L469.1,1195.5 L471.1,1195.3 L473.0,1195.2 L475.1,1195.1 L477.4,1195.0 L480.0,1194.9 L481.5,1194.8 L483.0,1194.8 L484.6,1194.7 L486.3,1194.6 L488.1,1194.6 L489.9,1194.5 L491.8,1194.4 L493.8,1194.4 L495.8,1194.3 L497.8,1194.2 L499.9,1194.1 L502.0,1194.1 L504.2,1194.0 L506.4,1193.9 L508.6,1193.9 L510.8,1193.8 L513.1,1193.7 L515.4,1193.6 L517.7,1193.5 L520.0,1193.5 L522.3,1193.4 L524.6,1193.3 L526.4,1193.2 L528.2,1193.2 L530.0,1193.1 L531.8,1193.0 L533.7,1193.0 L535.6,1192.9 L537.5,1192.8 L539.4,1192.8 L541.4,1192.7 L543.3,1192.6 L545.3,1192.5 L547.3,1192.5 L549.4,1192.4 L551.4,1192.3 L553.4,1192.2 L555.5,1192.2 L557.6,1192.1 L559.7,1192.0 L561.7,1191.9 L563.8,1191.9 L565.9,1191.8 L568.1,1191.7 L570.2,1191.6 L572.3,1191.5 L574.4,1191.4 L576.5,1191.4 L578.6,1191.3 L580.7,1191.2 L582.8,1191.1 L584.9,1191.0 L587.0,1190.9 L589.1,1190.8 L591.2,1190.8 L593.3,1190.7 L595.4,1190.6 L597.4,1190.5 L599.5,1190.4 L601.5,1190.3 L603.5,1190.2 L605.6,1190.1 L607.6,1190.0 L609.6,1189.9 L611.6,1189.8 L613.6,1189.7 L615.7,1189.6 L617.7,1189.4 L619.7,1189.3 L621.7,1189.2 L623.8,1189.1 L625.8,1189.0 L627.8,1188.8 L629.8,1188.7 L631.9,1188.6 L633.9,1188.5 L635.9,1188.3 L637.9,1188.2 L639.9,1188.1 L642.0,1188.0 L644.0,1187.9 L646.0,1187.7 L648.0,1187.6 L650.1,1187.5 L652.1,1187.4 L654.1,1187.3 L656.2,1187.2 L658.2,1187.1 L660.2,1187.0 L662.2,1186.9 L664.3,1186.8 L666.3,1186.7 L668.3,1186.6 L670.4,1186.5 L672.4,1186.4 L674.4,1186.3 L676.5,1186.3 L678.5,1186.2 L680.5,1186.1 L682.5,1186.1 L684.5,1186.0 L686.5,1186.0 L688.5,1185.9 L690.5,1185.9 L692.6,1185.8 L694.6,1185.8 L696.6,1185.8 L698.6,1185.7 L700.6,1185.7 L702.6,1185.7 L704.6,1185.6 L706.7,1185.6 L708.7,1185.6 L710.7,1185.6 L712.7,1185.5 L714.7,1185.5 L716.7,1185.5 L718.8,1185.5 L720.8,1185.5 L722.8,1185.5 L724.8,1185.5 L726.8,1185.5 L728.9,1185.5 L730.9,1185.5 L732.9,1185.5 L734.9,1185.5 L736.9,1185.5 L738.9,1185.5 L740.9,1185.5 L743.0,1185.5 L745.0,1185.5 L747.0,1185.5 L749.0,1185.5 L751.0,1185.5 L753.0,1185.6 L755.0,1185.6 L757.0,1185.6 L759.0,1185.6 L761.1,1185.6 L763.1,1185.7 L765.1,1185.7 L767.1,1185.7 L769.2,1185.8 L771.2,1185.8 L773.2,1185.8 L775.2,1185.9 L777.3,1185.9 L779.3,1185.9 L781.3,1186.0 L783.3,1186.0 L785.4,1186.1 L787.4,1186.1 L789.4,1186.2 L791.4,1186.2 L793.4,1186.3 L795.4,1186.3 L797.5,1186.4 L799.5,1186.5 L801.5,1186.5 L803.5,1186.6 L805.5,1186.7 L807.6,1186.7 L809.6,1186.8 L811.6,1186.9 L813.6,1186.9 L815.6,1187.0 L817.6,1187.1 L819.7,1187.1 L821.7,1187.2 L823.7,1187.3 L825.7,1187.4 L827.7,1187.5 L829.8,1187.5 L831.8,1187.6 L833.8,1187.7 L835.8,1187.8 L837.9,1187.9 L839.9,1188.0 L841.9,1188.0 L843.9,1188.1 L846.0,1188.2 L848.0,1188.3 L850.0,1188.4 L852.0,1188.5 L854.1,1188.6 L856.1,1188.7 L858.1,1188.8 L860.1,1188.9 L862.2,1189.0 L864.2,1189.1 L866.2,1189.2 L868.3,1189.4 L870.3,1189.5 L872.3,1189.6 L874.3,1189.7 L876.4,1189.8 L878.4,1189.9 L880.4,1190.0 L882.4,1190.2 L884.5,1190.3 L886.5,1190.4 L888.5,1190.5 L890.5,1190.7 L892.6,1190.8 L894.6,1190.9 L896.6,1191.0 L898.6,1191.2 L900.7,1191.3 L902.7,1191.4 L904.7,1191.6 L906.8,1191.7 L908.8,1191.9 L910.8,1192.0 L912.8,1192.1 L914.9,1192.3 L916.9,1192.4 L918.9,1192.6 L920.9,1192.8 L922.9,1192.9 L925.0,1193.1 L927.0,1193.2 L929.0,1193.4 L931.0,1193.6 L933.1,1193.7 L935.1,1193.9 L937.1,1194.1 L939.1,1194.3 L941.2,1194.4 L943.2,1194.6 L945.2,1194.8 L947.2,1195.0 L949.3,1195.2 L951.3,1195.4 L953.3,1195.5 L955.3,1195.7 L957.3,1195.9 L959.4,1196.1 L961.4,1196.3 L963.4,1196.4 L965.4,1196.6 L967.5,1196.8 L969.5,1197.0 L971.5,1197.2 L973.5,1197.3 L975.6,1197.5 L977.6,1197.7 L979.6,1197.8 L981.6,1198.0 L983.7,1198.2 L985.7,1198.3 L987.7,1198.5 L989.7,1198.7 L991.8,1198.8 L993.8,1199.0 L995.9,1199.2 L998.0,1199.4 L1000.1,1199.5 L1002.2,1199.7 L1004.3,1199.9 L1006.5,1200.1 L1008.6,1200.3 L1010.7,1200.5 L1012.9,1200.7 L1015.0,1200.8 L1017.2,1201.0 L1019.3,1201.2 L1021.4,1201.4 L1023.6,1201.6 L1025.7,1201.8 L1027.8,1202.0 L1029.9,1202.1 L1032.0,1202.3 L1034.1,1202.5 L1036.2,1202.6 L1038.2,1202.8 L1040.2,1202.9 L1042.3,1203.1 L1044.3,1203.2 L1046.2,1203.3 L1048.2,1203.5 L1050.1,1203.6 L1052.1,1203.7 L1053.9,1203.8 L1055.8,1203.8 L1057.6,1203.9 L1059.4,1204.0 L1061.2,1204.0 L1062.9,1204.1 L1064.6,1204.1 L1066.9,1204.1 L1069.2,1204.1 L1071.5,1204.0 L1073.7,1203.9 L1075.8,1203.8 L1077.9,1203.7 L1080.0,1203.5 L1082.0,1203.3 L1084.0,1203.2 L1086.0,1203.0 L1087.9,1202.8 L1089.9,1202.7 L1091.8,1202.5 L1093.7,1202.4 L1095.5,1202.3 L1097.4,1202.3 L1099.3,1202.2 L1101.1,1202.2 L1103.0,1202.3 L1105.2,1202.4 L1107.3,1202.6 L1109.4,1202.8 L1111.5,1203.1 L1113.6,1203.4 L1115.6,1203.7 L1117.6,1204.0 L1119.6,1204.4 L1121.6,1204.7 L1123.5,1205.1 L1125.5,1205.4 L1127.4,1205.7 L1129.4,1206.0 L1131.3,1206.2 L1133.5,1206.4 L1135.6,1206.7 L1137.6,1206.9 L1139.7,1207.2 L1141.7,1207.4 L1143.7,1207.6 L1145.8,1207.8 L1147.9,1207.9 L1150.0,1208.0 L1152.1,1208.1 L1154.4,1208.2 L1156.3,1208.2 L1158.3,1208.2 L1160.4,1208.2 L1162.5,1208.2 L1164.6,1208.2 L1166.8,1208.1 L1169.0,1208.0 L1171.2,1207.9 L1173.4,1207.8 L1175.5,1207.7 L1177.7,1207.6 L1179.8,1207.4 L1181.9,1207.3 L1183.9,1207.1 L1185.8,1206.9 L1187.7,1206.7 L1190.0,1206.4 L1192.2,1206.0 L1194.3,1205.5 L1196.4,1205.0 L1198.5,1204.6 L1200.5,1204.1 L1202.4,1203.7 L1204.4,1203.4 L1206.3,1203.2 L1208.2,1203.1 L1210.5,1203.2 L1212.9,1203.4 L1215.1,1203.7 L1217.4,1204.1 L1219.5,1204.7 L1221.6,1205.4 L1223.6,1206.2 L1225.4,1207.3 L1227.1,1208.6 L1228.7,1210.1 L1230.2,1211.6 L1231.8,1213.1 L1233.5,1214.4 L1235.4,1215.4 L1237.3,1216.1 L1239.3,1216.5 L1241.4,1216.9 L1243.5,1217.1 L1245.8,1217.2 L1248.2,1217.2 L1250.7,1217.2 L1253.3,1217.2 L1255.0,1217.2 L1256.7,1217.1 L1258.4,1217.1 L1260.2,1216.9 L1262.1,1216.8 L1264.0,1216.6 L1266.0,1216.5 L1268.0,1216.3 L1270.0,1216.0 L1272.1,1215.8 L1274.3,1215.6 L1276.4,1215.3 L1278.6,1215.0 L1280.8,1214.7 L1283.1,1214.5 L1285.3,1214.2 L1287.6,1213.9 L1289.9,1213.6 L1292.3,1213.3 L1294.6,1213.1 L1297.0,1212.8 L1298.8,1212.6 L1300.5,1212.4 L1302.3,1212.2 L1304.2,1212.0 L1306.0,1211.8 L1307.9,1211.5 L1309.8,1211.3 L1311.8,1211.1 L1313.7,1210.8 L1315.7,1210.6 L1317.7,1210.3 L1319.7,1210.1 L1321.7,1209.8 L1323.7,1209.6 L1325.8,1209.3 L1327.8,1209.1 L1329.9,1208.8 L1332.0,1208.5 L1334.0,1208.3 L1336.1,1208.0 L1338.2,1207.8 L1340.3,1207.5 L1342.5,1207.2 L1344.6,1207.0 L1346.7,1206.7 L1348.8,1206.5 L1350.9,1206.2 L1353.0,1206.0 L1355.1,1205.7 L1357.2,1205.5 L1359.3,1205.3 L1361.4,1205.0 L1363.5,1204.8 L1365.6,1204.6 L1367.7,1204.4 L1369.7,1204.2 L1371.8,1204.0 L1373.8,1203.8 L1375.8,1203.6 L1377.8,1203.4 L1379.9,1203.3 L1381.9,1203.1 L1383.9,1202.9 L1385.9,1202.7 L1388.0,1202.6 L1390.0,1202.4 L1392.0,1202.3 L1394.0,1202.1 L1396.1,1201.9 L1398.1,1201.8 L1400.1,1201.6 L1402.1,1201.5 L1404.2,1201.4 L1406.2,1201.2 L1408.2,1201.1 L1410.3,1200.9 L1412.3,1200.8 L1414.3,1200.7 L1416.3,1200.6 L1418.4,1200.4 L1420.4,1200.3 L1422.4,1200.2 L1424.4,1200.1 L1426.5,1199.9 L1428.5,1199.8 L1430.5,1199.7 L1432.6,1199.6 L1434.6,1199.5 L1436.6,1199.4 L1438.6,1199.3 L1440.7,1199.2 L1442.7,1199.1 L1444.7,1199.0 L1446.7,1198.9 L1448.8,1198.8 L1450.8,1198.7 L1452.8,1198.6 L1454.8,1198.5 L1456.9,1198.4 L1458.9,1198.3 L1460.9,1198.3 L1462.9,1198.2 L1465.0,1198.1 L1467.0,1198.0 L1469.0,1198.0 L1471.0,1197.9 L1473.1,1197.8 L1475.1,1197.7 L1477.1,1197.7 L1479.1,1197.6 L1481.2,1197.6 L1483.2,1197.5 L1485.2,1197.4 L1487.2,1197.4 L1489.2,1197.3 L1491.3,1197.3 L1493.3,1197.2 L1495.3,1197.2 L1497.3,1197.1 L1499.4,1197.1 L1501.4,1197.1 L1503.4,1197.0 L1505.4,1197.0 L1507.5,1197.0 L1509.5,1196.9 L1511.5,1196.9 L1513.5,1196.9 L1515.6,1196.8 L1517.6,1196.8 L1519.6,1196.8 L1521.6,1196.8 L1523.7,1196.7 L1525.7,1196.7 L1527.7,1196.7 L1529.7,1196.7 L1531.7,1196.7 L1533.8,1196.7 L1535.8,1196.7 L1537.8,1196.6 L1539.8,1196.6 L1541.9,1196.6 L1543.9,1196.6 L1545.9,1196.6 L1547.9,1196.6 L1550.0,1196.6 L1552.0,1196.7 L1554.0,1196.7 L1556.0,1196.7 L1558.1,1196.7 L1560.1,1196.7 L1562.1,1196.7 L1564.1,1196.7 L1566.2,1196.8 L1568.2,1196.8 L1570.2,1196.8 L1572.2,1196.8 L1574.2,1196.9 L1576.3,1196.9 L1578.3,1196.9 L1580.3,1196.9 L1582.3,1197.0 L1584.4,1197.0 L1586.4,1197.0 L1588.4,1197.1 L1590.4,1197.1 L1592.5,1197.2 L1594.5,1197.2 L1596.5,1197.2 L1598.5,1197.3 L1600.6,1197.3 L1602.6,1197.4 L1604.6,1197.4 L1606.6,1197.4 L1608.6,1197.5 L1610.7,1197.5 L1612.7,1197.6 L1614.7,1197.6 L1616.7,1197.7 L1618.8,1197.7 L1620.8,1197.8 L1622.8,1197.9 L1624.8,1197.9 L1626.8,1198.0 L1628.9,1198.0 L1630.9,1198.1 L1632.9,1198.2 L1634.9,1198.2 L1636.9,1198.3 L1639.0,1198.4 L1641.0,1198.4 L1643.0,1198.5 L1645.0,1198.6 L1647.0,1198.6 L1649.1,1198.7 L1651.1,1198.8 L1653.1,1198.9 L1655.1,1198.9 L1657.2,1199.0 L1659.2,1199.1 L1661.2,1199.2 L1663.2,1199.2 L1665.3,1199.3 L1667.3,1199.4 L1669.3,1199.5 L1671.3,1199.6 L1673.4,1199.7 L1675.4,1199.7 L1677.4,1199.8 L1679.5,1199.9 L1681.5,1200.0 L1683.5,1200.1 L1685.5,1200.2 L1687.5,1200.3 L1689.4,1200.4 L1691.4,1200.5 L1693.4,1200.6 L1695.3,1200.7 L1697.3,1200.8 L1699.2,1200.9 L1701.1,1201.0 L1703.1,1201.1 L1705.0,1201.2 L1707.0,1201.3 L1708.9,1201.4 L1710.8,1201.5 L1712.8,1201.6 L1714.7,1201.7 L1716.7,1201.8 L1718.6,1201.9 L1720.6,1202.1 L1722.5,1202.2 L1724.5,1202.3 L1726.5,1202.4 L1728.5,1202.5 L1730.5,1202.6 L1732.5,1202.7 L1734.5,1202.8 L1736.5,1202.9 L1738.6,1203.1 L1740.7,1203.2 L1742.7,1203.3 L1744.8,1203.4 L1746.9,1203.5 L1749.1,1203.6 L1751.2,1203.7 L1753.4,1203.8 L1755.6,1203.9 L1757.8,1204.0 L1760.0,1204.1 L1761.8,1204.2 L1763.6,1204.3 L1765.5,1204.3 L1767.3,1204.4 L1769.2,1204.5 L1771.0,1204.6 L1772.9,1204.6 L1774.8,1204.7 L1776.7,1204.8 L1778.7,1204.8 L1780.6,1204.9 L1782.5,1205.0 L1784.5,1205.1 L1786.5,1205.1 L1788.4,1205.2 L1790.4,1205.3 L1792.4,1205.3 L1794.4,1205.4 L1796.4,1205.5 L1798.5,1205.6 L1800.5,1205.6 L1802.5,1205.7 L1804.6,1205.8 L1806.6,1205.8 L1808.7,1205.9 L1810.7,1206.0 L1812.8,1206.0 L1814.9,1206.1 L1816.9,1206.2 L1819.0,1206.2 L1821.1,1206.3 L1823.2,1206.4 L1825.3,1206.4 L1827.4,1206.5 L1829.5,1206.6 L1831.6,1206.6 L1833.7,1206.7 L1835.8,1206.8 L1837.9,1206.8 L1840.0,1206.9 L1842.1,1207.0 L1844.2,1207.0 L1846.3,1207.1 L1848.4,1207.2 L1850.5,1207.2 L1852.6,1207.3 L1854.7,1207.4 L1856.8,1207.4 L1858.8,1207.5 L1860.9,1207.6 L1863.0,1207.6 L1865.1,1207.7 L1867.2,1207.8 L1869.3,1207.8 L1871.3,1207.9 L1873.4,1208.0 L1875.4,1208.0 L1877.5,1208.1 L1879.5,1208.2 L1881.6,1208.2 L1883.6,1208.3 L1885.6,1208.4 L1887.7,1208.4 L1889.7,1208.5 L1891.7,1208.6 L1893.7,1208.6 L1895.8,1208.7 L1897.8,1208.8 L1899.8,1208.8 L1901.8,1208.9 L1903.9,1209.0 L1905.9,1209.0 L1907.9,1209.1 L1910.0,1209.2 L1912.0,1209.2 L1914.0,1209.3 L1916.0,1209.3 L1918.1,1209.4 L1920.1,1209.5 L1922.1,1209.5 L1924.2,1209.6 L1926.2,1209.7 L1928.2,1209.7 L1930.2,1209.8 L1932.3,1209.8 L1934.3,1209.9 L1936.3,1210.0 L1938.4,1210.0 L1940.4,1210.1 L1942.4,1210.2 L1944.4,1210.2 L1946.5,1210.3 L1948.5,1210.4 L1950.5,1210.4 L1952.5,1210.5 L1954.6,1210.5 L1956.6,1210.6 L1958.6,1210.7 L1960.7,1210.7 L1962.7,1210.8 L1964.7,1210.9 L1966.7,1211.0 L1968.8,1211.0 L1970.8,1211.1 L1972.8,1211.2 L1974.9,1211.2 L1976.9,1211.3 L1978.9,1211.4 L1980.9,1211.5 L1983.0,1211.5 L1985.0,1211.6 L1987.0,1211.7 L1989.1,1211.8 L1991.1,1211.8 L1993.1,1211.9 L1995.1,1212.0 L1997.2,1212.1 L1999.2,1212.2 L2001.2,1212.2 L2003.2,1212.3 L2005.3,1212.4 L2007.3,1212.5 L2009.3,1212.6 L2011.4,1212.7 L2013.4,1212.8 L2015.4,1212.9 L2017.5,1213.0 L2019.5,1213.1 L2021.6,1213.1 L2023.6,1213.2 L2025.7,1213.3 L2027.7,1213.4 L2029.8,1213.5 L2031.9,1213.6 L2033.9,1213.8 L2036.0,1213.9 L2038.0,1214.0 L2040.1,1214.1 L2042.2,1214.2 L2044.2,1214.3 L2046.3,1214.4 L2048.4,1214.5 L2050.4,1214.6 L2052.5,1214.7 L2054.6,1214.8 L2056.6,1214.9 L2058.7,1215.1 L2060.8,1215.2 L2062.8,1215.3 L2064.9,1215.4 L2066.9,1215.5 L2069.0,1215.6 L2071.0,1215.7 L2073.1,1215.8 L2075.2,1216.0 L2077.2,1216.1 L2079.3,1216.2 L2081.3,1216.3 L2083.3,1216.4 L2085.4,1216.5 L2087.4,1216.6 L2089.4,1216.8 L2091.5,1216.9 L2093.5,1217.0 L2095.5,1217.1 L2097.5,1217.2 L2099.5,1217.3 L2101.6,1217.4 L2103.6,1217.5 L2105.6,1217.6 L2107.5,1217.8 L2109.5,1217.9 L2111.5,1218.0 L2113.5,1218.1 L2115.5,1218.2 L2117.4,1218.3 L2119.4,1218.4 L2121.3,1218.5 L2123.3,1218.6 L2125.2,1218.7 L2127.2,1218.8 L2129.1,1218.9 L2131.0,1219.0 L2133.1,1219.1 L2135.3,1219.2 L2137.4,1219.3 L2139.5,1219.4 L2141.7,1219.5 L2143.8,1219.7 L2145.9,1219.8 L2148.0,1219.9 L2150.2,1220.0 L2152.3,1220.1 L2154.4,1220.2 L2156.5,1220.3 L2158.7,1220.4 L2160.8,1220.5 L2162.9,1220.6 L2165.0,1220.7 L2167.1,1220.8 L2169.2,1220.9 L2171.3,1221.0 L2173.4,1221.2 L2175.4,1221.3 L2177.5,1221.4 L2179.6,1221.5 L2181.6,1221.6 L2183.7,1221.7 L2185.7,1221.8 L2187.8,1221.9 L2189.8,1222.0 L2191.8,1222.1 L2193.8,1222.2 L2195.8,1222.3 L2197.8,1222.4 L2199.8,1222.5 L2201.8,1222.6 L2203.7,1222.7 L2205.7,1222.8 L2207.6,1222.9 L2209.5,1222.9 L2211.4,1223.0 L2213.3,1223.1 L2215.2,1223.2 L2217.1,1223.3 L2219.0,1223.4 L2220.8,1223.5 L2222.6,1223.6 L2224.4,1223.7 L2226.2,1223.7 L2228.0,1223.8 L2229.8,1223.9 L2232.2,1224.0 L2234.6,1224.1 L2237.1,1224.2 L2239.7,1224.3 L2242.4,1224.5 L2245.0,1224.6 L2247.8,1224.7 L2250.5,1224.8 L2253.2,1224.9 L2255.9,1225.0 L2258.6,1225.2 L2261.3,1225.3 L2263.9,1225.4 L2266.5,1225.5 L2269.0,1225.6 L2271.4,1225.7 L2273.7,1225.8 L2275.9,1225.9 L2277.9,1226.0 L2279.9,1226.0 L2281.6,1226.1 L2283.3,1226.2 L2284.7,1226.2 L2286.0,1226.3 L2287.0,1226.3 L2287.9,1226.4 L2288.5,1226.4 L2288.9,1226.4 L2289.0,1226.4" fill="none" stroke="#cc9900" stroke-opacity="0.25" stroke-width="8.0" stroke-linejoin="round" stroke-linecap="butt"/>
<path d="M149.3,1203.0 L149.6,1203.0 L150.6,1202.9 L152.1,1202.8 L154.0,1202.7 L156.3,1202.5 L158.9,1202.4 L161.6,1202.3 L164.5,1202.2 L167.4,1202.1 L170.2,1202.1 L172.8,1202.1 L175.2,1202.2 L177.3,1202.4 L178.9,1202.7 L181.2,1203.5 L183.0,1204.4 L184.7,1205.5 L186.7,1206.6 L188.4,1207.4 L190.1,1208.2 L192.0,1209.0 L193.9,1209.8 L195.9,1210.7 L198.0,1211.5 L200.1,1212.2 L202.3,1212.8 L204.2,1213.3 L206.2,1213.7 L208.2,1214.1 L210.2,1214.4 L212.3,1214.7 L214.5,1215.0 L216.7,1215.2 L218.9,1215.4 L221.1,1215.6 L223.3,1215.8 L225.6,1215.9 L227.6,1216.0 L229.6,1216.1 L231.7,1216.2 L233.9,1216.3 L236.0,1216.3 L238.3,1216.3 L240.5,1216.3 L242.7,1216.3 L244.9,1216.3 L247.0,1216.2 L249.1,1216.1 L251.1,1215.9 L253.1,1215.7 L254.9,1215.4 L256.7,1215.1 L258.9,1214.5 L261.0,1213.9 L263.0,1213.1 L264.9,1212.2 L266.7,1211.4 L268.5,1210.5 L270.4,1209.7 L272.3,1208.9 L274.3,1208.2 L276.4,1207.5 L278.5,1206.9 L280.6,1206.3 L282.6,1205.6 L284.5,1205.0 L286.3,1204.3 L287.9,1203.5 L290.1,1201.8 L291.9,1200.0 L294.1,1198.8 L295.8,1198.7 L297.6,1199.0 L299.7,1199.5 L301.9,1200.3 L304.2,1201.1 L306.5,1201.8 L308.9,1202.4 L311.2,1202.7 L313.2,1202.8 L315.4,1202.8 L317.7,1202.8 L320.0,1202.8 L322.4,1202.7 L324.7,1202.5 L326.9,1202.2 L329.1,1201.9 L331.1,1201.5 L333.0,1201.0 L334.6,1200.4 L336.5,1199.3 L337.9,1198.0 L339.2,1196.6 L340.6,1195.2 L342.4,1194.1 L344.1,1193.5 L346.1,1193.1 L348.2,1192.9 L350.5,1192.7 L352.8,1192.6 L355.0,1192.4 L357.2,1192.1 L359.2,1191.7 L361.0,1191.0 L362.8,1189.8 L364.4,1188.3 L365.9,1186.7 L367.3,1185.1 L368.8,1183.6 L370.4,1182.5 L372.5,1181.5 L374.7,1180.8 L377.0,1180.2 L379.2,1180.0 L381.3,1180.1 L383.3,1180.9 L385.1,1182.2 L387.0,1183.7 L389.1,1184.8 L391.0,1185.3 L393.2,1185.6 L395.5,1185.8 L397.8,1186.0 L400.2,1186.2 L402.5,1186.5 L404.6,1187.1 L406.5,1187.8 L408.4,1188.7 L410.3,1189.7 L412.1,1190.7 L413.9,1191.8 L415.5,1193.0 L417.1,1194.1 L418.8,1195.7 L420.3,1197.5 L421.7,1199.3 L423.2,1200.9 L424.9,1201.9 L426.9,1202.3 L428.9,1202.3 L431.2,1201.9 L433.5,1201.5 L435.8,1201.1 L437.9,1200.8 L440.0,1200.4 L442.3,1199.9 L444.5,1199.4 L446.8,1198.9 L449.1,1198.4 L451.3,1198.0 L453.5,1197.6 L455.8,1197.2 L458.0,1196.9 L460.3,1196.5 L462.5,1196.2 L464.7,1195.9 L466.9,1195.7 L469.1,1195.5 L471.1,1195.3 L473.0,1195.2 L475.1,1195.1 L477.4,1195.0 L480.0,1194.9 L481.5,1194.8 L483.0,1194.8 L484.6,1194.7 L486.3,1194.6 L488.1,1194.6 L489.9,1194.5 L491.8,1194.4 L493.8,1194.4 L495.8,1194.3 L497.8,1194.2 L499.9,1194.1 L502.0,1194.1 L504.2,1194.0 L506.4,1193.9 L508.6,1193.9 L510.8,1193.8 L513.1,1193.7 L515.4,1193.6 L517.7,1193.5 L520.0,1193.5 L522.3,1193.4 L524.6,1193.3 L526.4,1193.2 L528.2,1193.2 L530.0,1193.1 L531.8,1193.0 L533.7,1193.0 L535.6,1192.9 L537.5,1192.8 L539.4,1192.8 L541.4,1192.7 L543.3,1192.6 L545.3,1192.5 L547.3,1192.5 L549.4,1192.4 L551.4,1192.3 L553.4,1192.2 L555.5,1192.2 L557.6,1192.1 L559.7,1192.0 L561.7,1191.9 L563.8,1191.9 L565.9,1191.8 L568.1,1191.7 L570.2,1191.6 L572.3,1191.5 L574.4,1191.4 L576.5,1191.4 L578.6,1191.3 L580.7,1191.2 L582.8,1191.1 L584.9,1191.0 L587.0,1190.9 L589.1,1190.8 L591.2,1190.8 L593.3,1190.7 L595.4,1190.6 L597.4,1190.5 L599.5,1190.4 L601.5,1190.3 L603.5,1190.2 L605.6,1190.1 L607.6,1190.0 L609.6,1189.9 L611.6,1189.8 L613.6,1189.7 L615.7,1189.6 L617.7,1189.4 L619.7,1189.3 L621.7,1189.2 L623.8,1189.1 L625.8,1189.0 L627.8,1188.8 L629.8,1188.7 L631.9,1188.6 L633.9,1188.5 L635.9,1188.3 L637.9,1188.2 L639.9,1188.1 L642.0,1188.0 L644.0,1187.9 L646.0,1187.7 L648.0,1187.6 L650.1,1187.5 L652.1,1187.4 L654.1,1187.3 L656.2,1187.2 L658.2,1187.1 L660.2,1187.0 L662.2,1186.9 L664.3,1186.8 L666.3,1186.7 L668.3,1186.6 L670.4,1186.5 L672.4,1186.4 L674.4,1186.3 L676.5,1186.3 L678.5,1186.2 L680.5,1186.1 L682.5,1186.1 L684.5,1186.0 L686.5,1186.0 L688.5,1185.9 L690.5,1185.9 L692.6,1185.8 L694.6,1185.8 L696.6,1185.8 L698.6,1185.7 L700.6,1185.7 L702.6,1185.7 L704.6,1185.6 L706.7,1185.6 L708.7,1185.6 L710.7,1185.6 L712.7,1185.5 L714.7,1185.5 L716.7,1185.5 L718.8,1185.5 L720.8,1185.5 L722.8,1185.5 L724.8,1185.5 L726.8,1185.5 L728.9,1185.5 L730.9,1185.5 L732.9,1185.5 L734.9,1185.5 L736.9,1185.5 L738.9,1185.5 L740.9,1185.5 L743.0,1185.5 L745.0,1185.5 L747.0,1185.5 L749.0,1185.5 L751.0,1185.5 L753.0,1185.6 L755.0,1185.6 L757.0,1185.6 L759.0,1185.6 L761.1,1185.6 L763.1,1185.7 L765.1,1185.7 L767.1,1185.7 L769.2,1185.8 L771.2,1185.8 L773.2,1185.8 L775.2,1185.9 L777.3,1185.9 L779.3,1185.9 L781.3,1186.0 L783.3,1186.0 L785.4,1186.1 L787.4,1186.1 L789.4,1186.2 L791.4,1186.2 L793.4,1186.3 L795.4,1186.3 L797.5,1186.4 L799.5,1186.5 L801.5,1186.5 L803.5,1186.6 L805.5,1186.7 L807.6,1186.7 L809.6,1186.8 L811.6,1186.9 L813.6,1186.9 L815.6,1187.0 L817.6,1187.1 L819.7,1187.1 L821.7,1187.2 L823.7,1187.3 L825.7,1187.4 L827.7,1187.5 L829.8,1187.5 L831.8,1187.6 L833.8,1187.7 L835.8,1187.8 L837.9,1187.9 L839.9,1188.0 L841.9,1188.0 L843.9,1188.1 L846.0,1188.2 L848.0,1188.3 L850.0,1188.4 L852.0,1188.5 L854.1,1188.6 L856.1,1188.7 L858.1,1188.8 L860.1,1188.9 L862.2,1189.0 L864.2,1189.1 L866.2,1189.2 L868.3,1189.4 L870.3,1189.5 L872.3,1189.6 L874.3,1189.7 L876.4,1189.8 L878.4,1189.9 L880.4,1190.0 L882.4,1190.2 L884.5,1190.3 L886.5,1190.4 L888.5,1190.5 L890.5,1190.7 L892.6,1190.8 L894.6,1190.9 L896.6,1191.0 L898.6,1191.2 L900.7,1191.3 L902.7,1191.4 L904.7,1191.6 L906.8,1191.7 L908.8,1191.9 L910.8,1192.0 L912.8,1192.1 L914.9,1192.3 L916.9,1192.4 L918.9,1192.6 L920.9,1192.8 L922.9,1192.9 L925.0,1193.1 L927.0,1193.2 L929.0,1193.4 L931.0,1193.6 L933.1,1193.7 L935.1,1193.9 L937.1,1194.1 L939.1,1194.3 L941.2,1194.4 L943.2,1194.6 L945.2,1194.8 L947.2,1195.0 L949.3,1195.2 L951.3,1195.4 L953.3,1195.5 L955.3,1195.7 L957.3,1195.9 L959.4,1196.1 L961.4,1196.3 L963.4,1196.4 L965.4,1196.6 L967.5,1196.8 L969.5,1197.0 L971.5,1197.2 L973.5,1197.3 L975.6,1197.5 L977.6,1197.7 L979.6,1197.8 L981.6,1198.0 L983.7,1198.2 L985.7,1198.3 L987.7,1198.5 L989.7,1198.7 L991.8,1198.8 L993.8,1199.0 L995.9,1199.2 L998.0,1199.4 L1000.1,1199.5 L1002.2,1199.7 L1004.3,1199.9 L1006.5,1200.1 L1008.6,1200.3 L1010.7,1200.5 L1012.9,1200.7 L1015.0,1200.8 L1017.2,1201.0 L1019.3,1201.2 L1021.4,1201.4 L1023.6,1201.6 L1025.7,1201.8 L1027.8,1202.0 L1029.9,1202.1 L1032.0,1202.3 L1034.1,1202.5 L1036.2,1202.6 L1038.2,1202.8 L1040.2,1202.9 L1042.3,1203.1 L1044.3,1203.2 L1046.2,1203.3 L1048.2,1203.5 L1050.1,1203.6 L1052.1,1203.7 L1053.9,1203.8 L1055.8,1203.8 L1057.6,1203.9 L1059.4,1204.0 L1061.2,1204.0 L1062.9,1204.1 L1064.6,1204.1 L1066.9,1204.1 L1069.2,1204.1 L1071.5,1204.0 L1073.7,1203.9 L1075.8,1203.8 L1077.9,1203.7 L1080.0,1203.5 L1082.0,1203.3 L1084.0,1203.2 L1086.0,1203.0 L1087.9,1202.8 L1089.9,1202.7 L1091.8,1202.5 L1093.7,1202.4 L1095.5,1202.3 L1097.4,1202.3 L1099.3,1202.2 L1101.1,1202.2 L1103.0,1202.3 L1105.2,1202.4 L1107.3,1202.6 L1109.4,1202.8 L1111.5,1203.1 L1113.6,1203.4 L1115.6,1203.7 L1117.6,1204.0 L1119.6,1204.4 L1121.6,1204.7 L1123.5,1205.1 L1125.5,1205.4 L1127.4,1205.7 L1129.4,1206.0 L1131.3,1206.2 L1133.5,1206.4 L1135.6,1206.7 L1137.6,1206.9 L1139.7,1207.2 L1141.7,1207.4 L1143.7,1207.6 L1145.8,1207.8 L1147.9,1207.9 L1150.0,1208.0 L1152.1,1208.1 L1154.4,1208.2 L1156.3,1208.2 L1158.3,1208.2 L1160.4,1208.2 L1162.5,1208.2 L1164.6,1208.2 L1166.8,1208.1 L1169.0,1208.0 L1171.2,1207.9 L1173.4,1207.8 L1175.5,1207.7 L1177.7,1207.6 L1179.8,1207.4 L1181.9,1207.3 L1183.9,1207.1 L1185.8,1206.9 L1187.7,1206.7 L1190.0,1206.4 L1192.2,1206.0 L1194.3,1205.5 L1196.4,1205.0 L1198.5,1204.6 L1200.5,1204.1 L1202.4,1203.7 L1204.4,1203.4 L1206.3,1203.2 L1208.2,1203.1 L1210.5,1203.2 L1212.9,1203.4 L1215.1,1203.7 L1217.4,1204.1 L1219.5,1204.7 L1221.6,1205.4 L1223.6,1206.2 L1225.4,1207.3 L1227.1,1208.6 L1228.7,1210.1 L1230.2,1211.6 L1231.8,1213.1 L1233.5,1214.4 L1235.4,1215.4 L1237.3,1216.1 L1239.3,1216.5 L1241.4,1216.9 L1243.5,1217.1 L1245.8,1217.2 L1248.2,1217.2 L1250.7,1217.2 L1253.3,1217.2 L1255.0,1217.2 L1256.7,1217.1 L1258.4,1217.1 L1260.2,1216.9 L1262.1,1216.8 L1264.0,1216.6 L1266.0,1216.5 L1268.0,1216.3 L1270.0,1216.0 L1272.1,1215.8 L1274.3,1215.6 L1276.4,1215.3 L1278.6,1215.0 L1280.8,1214.7 L1283.1,1214.5 L1285.3,1214.2 L1287.6,1213.9 L1289.9,1213.6 L1292.3,1213.3 L1294.6,1213.1 L1297.0,1212.8 L1298.8,1212.6 L1300.5,1212.4 L1302.3,1212.2 L1304.2,1212.0 L1306.0,1211.8 L1307.9,1211.5 L1309.8,1211.3 L1311.8,1211.1 L1313.7,1210.8 L1315.7,1210.6 L1317.7,1210.3 L1319.7,1210.1 L1321.7,1209.8 L1323.7,1209.6 L1325.8,1209.3 L1327.8,1209.1 L1329.9,1208.8 L1332.0,1208.5 L1334.0,1208.3 L1336.1,1208.0 L1338.2,1207.8 L1340.3,1207.5 L1342.5,1207.2 L1344.6,1207.0 L1346.7,1206.7 L1348.8,1206.5 L1350.9,1206.2 L1353.0,1206.0 L1355.1,1205.7 L1357.2,1205.5 L1359.3,1205.3 L1361.4,1205.0 L1363.5,1204.8 L1365.6,1204.6 L1367.7,1204.4 L1369.7,1204.2 L1371.8,1204.0 L1373.8,1203.8 L1375.8,1203.6 L1377.8,1203.4 L1379.9,1203.3 L1381.9,1203.1 L1383.9,1202.9 L1385.9,1202.7 L1388.0,1202.6 L1390.0,1202.4 L1392.0,1202.3 L1394.0,1202.1 L1396.1,1201.9 L1398.1,1201.8 L1400.1,1201.6 L1402.1,1201.5 L1404.2,1201.4 L1406.2,1201.2 L1408.2,1201.1 L1410.3,1200.9 L1412.3,1200.8 L1414.3,1200.7 L1416.3,1200.6 L1418.4,1200.4 L1420.4,1200.3 L1422.4,1200.2 L1424.4,1200.1 L1426.5,1199.9 L1428.5,1199.8 L1430.5,1199.7 L1432.6,1199.6 L1434.6,1199.5 L1436.6,1199.4 L1438.6,1199.3 L1440.7,1199.2 L1442.7,1199.1 L1444.7,1199.0 L1446.7,1198.9 L1448.8,1198.8 L1450.8,1198.7 L1452.8,1198.6 L1454.8,1198.5 L1456.9,1198.4 L1458.9,1198.3 L1460.9,1198.3 L1462.9,1198.2 L1465.0,1198.1 L1467.0,1198.0 L1469.0,1198.0 L1471.0,1197.9 L1473.1,1197.8 L1475.1,1197.7 L1477.1,1197.7 L1479.1,1197.6 L1481.2,1197.6 L1483.2,1197.5 L1485.2,1197.4 L1487.2,1197.4 L1489.2,1197.3 L1491.3,1197.3 L1493.3,1197.2 L1495.3,1197.2 L1497.3,1197.1 L1499.4,1197.1 L1501.4,1197.1 L1503.4,1197.0 L1505.4,1197.0 L1507.5,1197.0 L1509.5,1196.9 L1511.5,1196.9 L1513.5,1196.9 L1515.6,1196.8 L1517.6,1196.8 L1519.6,1196.8 L1521.6,1196.8 L1523.7,1196.7 L1525.7,1196.7 L1527.7,1196.7 L1529.7,1196.7 L1531.7,1196.7 L1533.8,1196.7 L1535.8,1196.7 L1537.8,1196.6 L1539.8,1196.6 L1541.9,1196.6 L1543.9,1196.6 L1545.9,1196.6 L1547.9,1196.6 L1550.0,1196.6 L1552.0,1196.7 L1554.0,1196.7 L1556.0,1196.7 L1558.1,1196.7 L1560.1,1196.7 L1562.1,1196.7 L1564.1,1196.7 L1566.2,1196.8 L1568.2,1196.8 L1570.2,1196.8 L1572.2,1196.8 L1574.2,1196.9 L1576.3,1196.9 L1578.3,1196.9 L1580.3,1196.9 L1582.3,1197.0 L1584.4,1197.0 L1586.4,1197.0 L1588.4,1197.1 L1590.4,1197.1 L1592.5,1197.2 L1594.5,1197.2 L1596.5,1197.2 L1598.5,1197.3 L1600.6,1197.3 L1602.6,1197.4 L1604.6,1197.4 L1606.6,1197.4 L1608.6,1197.5 L1610.7,1197.5 L1612.7,1197.6 L1614.7,1197.6 L1616.7,1197.7 L1618.8,1197.7 L1620.8,1197.8 L1622.8,1197.9 L1624.8,1197.9 L1626.8,1198.0 L1628.9,1198.0 L1630.9,1198.1 L1632.9,1198.2 L1634.9,1198.2 L1636.9,1198.3 L1639.0,1198.4 L1641.0,1198.4 L1643.0,1198.5 L1645.0,1198.6 L1647.0,1198.6 L1649.1,1198.7 L1651.1,1198.8 L1653.1,1198.9 L1655.1,1198.9 L1657.2,1199.0 L1659.2,1199.1 L1661.2,1199.2 L1663.2,1199.2 L1665.3,1199.3 L1667.3,1199.4 L1669.3,1199.5 L1671.3,1199.6 L1673.4,1199.7 L1675.4,1199.7 L1677.4,1199.8 L1679.5,1199.9 L1681.5,1200.0 L1683.5,1200.1 L1685.5,1200.2 L1687.5,1200.3 L1689.4,1200.4 L1691.4,1200.5 L1693.4,1200.6 L1695.3,1200.7 L1697.3,1200.8 L1699.2,1200.9 L1701.1,1201.0 L1703.1,1201.1 L1705.0,1201.2 L1707.0,1201.3 L1708.9,1201.4 L1710.8,1201.5 L1712.8,1201.6 L1714.7,1201.7 L1716.7,1201.8 L1718.6,1201.9 L1720.6,1202.1 L1722.5,1202.2 L1724.5,1202.3 L1726.5,1202.4 L1728.5,1202.5 L1730.5,1202.6 L1732.5,1202.7 L1734.5,1202.8 L1736.5,1202.9 L1738.6,1203.1 L1740.7,1203.2 L1742.7,1203.3 L1744.8,1203.4 L1746.9,1203.5 L1749.1,1203.6 L1751.2,1203.7 L1753.4,1203.8 L1755.6,1203.9 L1757.8,1204.0 L1760.0,1204.1 L1761.8,1204.2 L1763.6,1204.3 L1765.5,1204.3 L1767.3,1204.4 L1769.2,1204.5 L1771.0,1204.6 L1772.9,1204.6 L1774.8,1204.7 L1776.7,1204.8 L1778.7,1204.8 L1780.6,1204.9 L1782.5,1205.0 L1784.5,1205.1 L1786.5,1205.1 L1788.4,1205.2 L1790.4,1205.3 L1792.4,1205.3 L1794.4,1205.4 L1796.4,1205.5 L1798.5,1205.6 L1800.5,1205.6 L1802.5,1205.7 L1804.6,1205.8 L1806.6,1205.8 L1808.7,1205.9 L1810.7,1206.0 L1812.8,1206.0 L1814.9,1206.1 L1816.9,1206.2 L1819.0,1206.2 L1821.1,1206.3 L1823.2,1206.4 L1825.3,1206.4 L1827.4,1206.5 L1829.5,1206.6 L1831.6,1206.6 L1833.7,1206.7 L1835.8,1206.8 L1837.9,1206.8 L1840.0,1206.9 L1842.1,1207.0 L1844.2,1207.0 L1846.3,1207.1 L1848.4,1207.2 L1850.5,1207.2 L1852.6,1207.3 L1854.7,1207.4 L1856.8,1207.4 L1858.8,1207.5 L1860.9,1207.6 L1863.0,1207.6 L1865.1,1207.7 L1867.2,1207.8 L1869.3,1207.8 L1871.3,1207.9 L1873.4,1208.0 L1875.4,1208.0 L1877.5,1208.1 L1879.5,1208.2 L1881.6,1208.2 L1883.6,1208.3 L1885.6,1208.4 L1887.7,1208.4 L1889.7,1208.5 L1891.7,1208.6 L1893.7,1208.6 L1895.8,1208.7 L1897.8,1208.8 L1899.8,1208.8 L1901.8,1208.9 L1903.9,1209.0 L1905.9,1209.0 L1907.9,1209.1 L1910.0,1209.2 L1912.0,1209.2 L1914.0,1209.3 L1916.0,1209.3 L1918.1,1209.4 L1920.1,1209.5 L1922.1,1209.5 L1924.2,1209.6 L1926.2,1209.7 L1928.2,1209.7 L1930.2,1209.8 L1932.3,1209.8 L1934.3,1209.9 L1936.3,1210.0 L1938.4,1210.0 L1940.4,1210.1 L1942.4,1210.2 L1944.4,1210.2 L1946.5,1210.3 L1948.5,1210.4 L1950.5,1210.4 L1952.5,1210.5 L1954.6,1210.5 L1956.6,1210.6 L1958.6,1210.7 L1960.7,1210.7 L1962.7,1210.8 L1964.7,1210.9 L1966.7,1211.0 L1968.8,1211.0 L1970.8,1211.1 L1972.8,1211.2 L1974.9,1211.2 L1976.9,1211.3 L1978.9,1211.4 L1980.9,1211.5 L1983.0,1211.5 L1985.0,1211.6 L1987.0,1211.7 L1989.1,1211.8 L1991.1,1211.8 L1993.1,1211.9 L1995.1,1212.0 L1997.2,1212.1 L1999.2,1212.2 L2001.2,1212.2 L2003.2,1212.3 L2005.3,1212.4 L2007.3,1212.5 L2009.3,1212.6 L2011.4,1212.7 L2013.4,1212.8 L2015.4,1212.9 L2017.5,1213.0 L2019.5,1213.1 L2021.6,1213.1 L2023.6,1213.2 L2025.7,1213.3 L2027.7,1213.4 L2029.8,1213.5 L2031.9,1213.6 L2033.9,1213.8 L2036.0,1213.9 L2038.0,1214.0 L2040.1,1214.1 L2042.2,1214.2 L2044.2,1214.3 L2046.3,1214.4 L2048.4,1214.5 L2050.4,1214.6 L2052.5,1214.7 L2054.6,1214.8 L2056.6,1214.9 L2058.7,1215.1 L2060.8,1215.2 L2062.8,1215.3 L2064.9,1215.4 L2066.9,1215.5 L2069.0,1215.6 L2071.0,1215.7 L2073.1,1215.8 L2075.2,1216.0 L2077.2,1216.1 L2079.3,1216.2 L2081.3,1216.3 L2083.3,1216.4 L2085.4,1216.5 L2087.4,1216.6 L2089.4,1216.8 L2091.5,1216.9 L2093.5,1217.0 L2095.5,1217.1 L2097.5,1217.2 L2099.5,1217.3 L2101.6,1217.4 L2103.6,1217.5 L2105.6,1217.6 L2107.5,1217.8 L2109.5,1217.9 L2111.5,1218.0 L2113.5,1218.1 L2115.5,1218.2 L2117.4,1218.3 L2119.4,1218.4 L2121.3,1218.5 L2123.3,1218.6 L2125.2,1218.7 L2127.2,1218.8 L2129.1,1218.9 L2131.0,1219.0 L2133.1,1219.1 L2135.3,1219.2 L2137.4,1219.3 L2139.5,1219.4 L2141.7,1219.5 L2143.8,1219.7 L2145.9,1219.8 L2148.0,1219.9 L2150.2,1220.0 L2152.3,1220.1 L2154.4,1220.2 L2156.5,1220.3 L2158.7,1220.4 L2160.8,1220.5 L2162.9,1220.6 L2165.0,1220.7 L2167.1,1220.8 L2169.2,1220.9 L2171.3,1221.0 L2173.4,1221.2 L2175.4,1221.3 L2177.5,1221.4 L2179.6,1221.5 L2181.6,1221.6 L2183.7,1221.7 L2185.7,1221.8 L2187.8,1221.9 L2189.8,1222.0 L2191.8,1222.1 L2193.8,1222.2 L2195.8,1222.3 L2197.8,1222.4 L2199.8,1222.5 L2201.8,1222.6 L2203.7,1222.7 L2205.7,1222.8 L2207.6,1222.9 L2209.5,1222.9 L2211.4,1223.0 L2213.3,1223.1 L2215.2,1223.2 L2217.1,1223.3 L2219.0,1223.4 L2220.8,1223.5 L2222.6,1223.6 L2224.4,1223.7 L2226.2,1223.7 L2228.0,1223.8 L2229.8,1223.9 L2232.2,1224.0 L2234.6,1224.1 L2237.1,1224.2 L2239.7,1224.3 L2242.4,1224.5 L2245.0,1224.6 L2247.8,1224.7 L2250.5,1224.8 L2253.2,1224.9 L2255.9,1225.0 L2258.6,1225.2 L2261.3,1225.3 L2263.9,1225.4 L2266.5,1225.5 L2269.0,1225.6 L2271.4,1225.7 L2273.7,1225.8 L2275.9,1225.9 L2277.9,1226.0 L2279.9,1226.0 L2281.6,1226.1 L2283.3,1226.2 L2284.7,1226.2 L2286.0,1226.3 L2287.0,1226.3 L2287.9,1226.4 L2288.5,1226.4 L2288.9,1226.4 L2289.0,1226.4" fill="none" stroke="#cc9900" stroke-width="5.4" stroke-linejoin="round" stroke-linecap="butt"/>
<path d="M148.3,1420.2 L148.6,1420.2 L149.5,1420.3 L150.9,1420.3 L152.8,1420.4 L154.9,1420.5 L157.4,1420.7 L160.0,1420.8 L162.8,1421.0 L165.6,1421.2 L168.4,1421.4 L171.0,1421.6 L173.5,1421.8 L175.7,1422.0 L177.7,1422.2 L179.8,1422.5 L181.8,1422.7 L183.8,1423.0 L185.7,1423.3 L187.7,1423.6 L189.7,1423.9 L191.6,1424.2 L193.6,1424.6 L195.6,1424.9 L197.5,1425.3 L199.5,1425.6 L201.5,1426.0 L203.5,1426.3 L205.5,1426.7 L207.4,1427.1 L209.4,1427.5 L211.4,1427.9 L213.4,1428.3 L215.4,1428.7 L217.4,1429.1 L219.3,1429.5 L221.3,1430.0 L223.3,1430.4 L225.3,1430.9 L227.3,1431.4 L229.3,1431.9 L231.2,1432.4 L233.2,1432.9 L235.2,1433.5 L237.2,1434.0 L239.1,1434.5 L241.1,1435.0 L243.1,1435.5 L245.1,1435.9 L247.1,1436.3 L249.1,1436.7 L251.1,1437.0 L253.1,1437.3 L255.0,1437.6 L257.0,1437.9 L259.0,1438.1 L261.0,1438.4 L263.0,1438.6 L265.0,1438.8 L267.0,1439.0 L269.0,1439.1 L271.0,1439.3 L273.1,1439.4 L275.3,1439.6 L277.4,1439.6 L279.5,1439.7 L281.6,1439.8 L283.7,1439.8 L285.8,1439.8 L288.0,1439.8 L290.2,1439.9 L292.5,1439.9 L294.8,1439.9 L296.8,1439.9 L298.9,1440.0 L301.1,1440.1 L303.5,1440.3 L305.8,1440.4 L308.2,1440.5 L310.7,1440.7 L313.0,1440.8 L315.4,1440.9 L317.6,1440.9 L319.8,1440.9 L321.8,1440.9 L323.7,1440.7 L325.4,1440.5 L326.9,1440.3 L328.1,1439.9 L330.1,1438.7 L331.3,1437.1 L332.9,1435.7 L334.5,1434.8 L336.3,1433.9 L338.2,1433.0 L340.2,1432.2 L342.4,1431.5 L344.1,1431.0 L346.1,1430.6 L348.1,1430.2 L350.2,1429.8 L352.3,1429.4 L354.4,1429.1 L356.5,1428.7 L358.4,1428.4 L360.2,1428.0 L362.4,1427.5 L364.4,1427.0 L366.3,1426.4 L368.2,1426.0 L370.0,1425.5 L372.6,1424.9 L375.1,1424.4 L377.6,1423.9 L380.1,1423.4 L382.6,1423.0 L385.1,1422.4 L387.1,1421.8 L389.0,1421.1 L390.9,1420.3 L392.7,1419.4 L394.5,1418.2 L396.1,1416.8 L397.7,1415.4 L399.4,1413.8 L401.1,1412.1 L402.7,1410.3 L404.4,1408.4 L406.1,1406.4 L407.8,1404.3 L409.1,1402.6 L410.4,1400.8 L411.6,1399.0 L412.8,1397.2 L413.9,1395.5 L414.9,1393.7 L415.9,1391.9 L416.9,1390.2 L418.1,1388.0 L419.3,1385.8 L420.4,1383.6 L421.4,1381.5 L422.3,1379.4 L423.4,1377.6 L424.9,1375.6 L426.4,1374.6 L428.2,1376.0 L430.0,1378.6 L431.1,1380.6 L432.1,1382.9 L433.0,1385.2 L433.8,1387.0 L434.5,1388.9 L435.3,1390.8 L436.0,1392.7 L436.8,1394.6 L437.5,1396.5 L438.2,1398.4 L439.0,1400.3 L439.8,1402.2 L440.5,1404.0 L441.3,1405.9 L442.0,1407.8 L442.7,1409.7 L443.4,1411.6 L444.0,1413.5 L444.6,1415.4 L445.3,1417.9 L446.0,1420.4 L446.6,1422.9 L447.0,1425.6 L447.4,1428.3 L448.1,1430.5 L449.1,1432.0 L450.6,1433.0 L452.1,1433.3 L454.1,1433.2 L456.3,1433.0 L458.6,1432.7 L460.7,1432.5 L462.7,1432.4 L464.8,1432.4 L466.8,1432.3 L468.8,1432.2 L470.8,1432.0 L473.1,1431.7 L475.2,1431.4 L477.5,1431.0 L480.0,1430.5 L481.8,1430.1 L483.6,1429.5 L485.5,1428.9 L487.5,1428.3 L489.5,1427.6 L491.7,1426.9 L494.0,1426.3 L496.4,1425.6 L499.0,1425.1 L500.6,1424.8 L502.2,1424.5 L504.0,1424.3 L505.8,1424.0 L507.6,1423.7 L509.5,1423.5 L511.5,1423.2 L513.5,1423.0 L515.6,1422.8 L517.7,1422.5 L519.8,1422.3 L522.0,1422.1 L524.1,1421.9 L526.3,1421.7 L528.6,1421.5 L530.8,1421.3 L533.0,1421.2 L535.2,1421.0 L537.4,1420.8 L539.6,1420.7 L541.8,1420.5 L544.0,1420.4 L546.1,1420.2 L548.2,1420.1 L550.3,1420.0 L552.3,1419.9 L554.4,1419.8 L556.4,1419.7 L558.4,1419.6 L560.4,1419.6 L562.3,1419.5 L564.3,1419.4 L566.3,1419.4 L568.3,1419.4 L570.3,1419.3 L572.2,1419.3 L574.2,1419.3 L576.2,1419.3 L578.2,1419.3 L580.2,1419.2 L582.3,1419.2 L584.3,1419.2 L586.4,1419.2 L588.5,1419.2 L590.6,1419.2 L592.7,1419.2 L594.8,1419.2 L597.0,1419.2 L599.3,1419.2 L601.5,1419.2 L603.3,1419.2 L605.1,1419.2 L607.0,1419.2 L608.9,1419.2 L610.8,1419.2 L612.7,1419.2 L614.6,1419.1 L616.5,1419.1 L618.5,1419.1 L620.5,1419.1 L622.4,1419.1 L624.4,1419.1 L626.5,1419.1 L628.5,1419.1 L630.5,1419.1 L632.6,1419.1 L634.6,1419.2 L636.7,1419.2 L638.7,1419.2 L640.8,1419.2 L642.9,1419.2 L644.9,1419.2 L647.0,1419.2 L649.1,1419.2 L651.2,1419.2 L653.3,1419.2 L655.4,1419.2 L657.4,1419.3 L659.5,1419.3 L661.6,1419.3 L663.7,1419.3 L665.7,1419.3 L667.8,1419.4 L669.9,1419.4 L671.9,1419.4 L673.9,1419.4 L676.0,1419.4 L678.0,1419.5 L680.0,1419.5 L682.0,1419.5 L684.1,1419.6 L686.1,1419.6 L688.1,1419.6 L690.2,1419.7 L692.2,1419.7 L694.2,1419.7 L696.3,1419.8 L698.3,1419.8 L700.3,1419.9 L702.3,1419.9 L704.4,1420.0 L706.4,1420.0 L708.4,1420.0 L710.5,1420.1 L712.5,1420.1 L714.5,1420.2 L716.5,1420.2 L718.6,1420.3 L720.6,1420.3 L722.6,1420.4 L724.6,1420.5 L726.6,1420.5 L728.7,1420.6 L730.7,1420.6 L732.7,1420.7 L734.7,1420.7 L736.8,1420.8 L738.8,1420.8 L740.8,1420.9 L742.8,1420.9 L744.9,1421.0 L746.9,1421.0 L748.9,1421.1 L750.9,1421.1 L753.0,1421.2 L755.0,1421.2 L757.0,1421.3 L759.0,1421.3 L761.0,1421.4 L763.1,1421.4 L765.1,1421.5 L767.1,1421.5 L769.1,1421.5 L771.2,1421.6 L773.2,1421.6 L775.2,1421.6 L777.2,1421.7 L779.2,1421.7 L781.3,1421.7 L783.3,1421.8 L785.3,1421.8 L787.3,1421.8 L789.3,1421.8 L791.4,1421.9 L793.4,1421.9 L795.4,1421.9 L797.4,1422.0 L799.5,1422.0 L801.5,1422.0 L803.5,1422.1 L805.5,1422.1 L807.5,1422.2 L809.6,1422.2 L811.6,1422.3 L813.6,1422.4 L815.6,1422.4 L817.6,1422.5 L819.7,1422.6 L821.7,1422.7 L823.7,1422.8 L825.7,1422.8 L827.7,1423.0 L829.8,1423.1 L831.8,1423.2 L833.8,1423.3 L835.8,1423.4 L837.9,1423.6 L839.9,1423.7 L841.9,1423.9 L843.9,1424.0 L846.0,1424.2 L848.0,1424.4 L850.0,1424.5 L852.0,1424.7 L854.1,1424.9 L856.1,1425.1 L858.1,1425.3 L860.2,1425.5 L862.2,1425.7 L864.2,1425.9 L866.2,1426.1 L868.3,1426.3 L870.3,1426.5 L872.3,1426.7 L874.3,1426.9 L876.4,1427.2 L878.4,1427.4 L880.4,1427.6 L882.4,1427.8 L884.5,1428.1 L886.5,1428.3 L888.5,1428.5 L890.5,1428.7 L892.6,1429.0 L894.6,1429.2 L896.6,1429.4 L898.6,1429.7 L900.7,1429.9 L902.7,1430.1 L904.7,1430.3 L906.8,1430.6 L908.8,1430.8 L910.8,1431.0 L912.8,1431.2 L914.9,1431.4 L916.9,1431.7 L919.0,1431.9 L921.0,1432.1 L923.1,1432.4 L925.1,1432.6 L927.2,1432.9 L929.3,1433.1 L931.3,1433.4 L933.4,1433.6 L935.5,1433.9 L937.6,1434.1 L939.6,1434.4 L941.7,1434.6 L943.8,1434.9 L945.9,1435.1 L947.9,1435.4 L950.0,1435.6 L952.1,1435.9 L954.1,1436.2 L956.2,1436.4 L958.2,1436.6 L960.2,1436.9 L962.3,1437.1 L964.3,1437.4 L966.3,1437.6 L968.3,1437.9 L970.3,1438.1 L972.3,1438.3 L974.3,1438.5 L976.2,1438.8 L978.2,1439.0 L980.1,1439.2 L982.0,1439.4 L983.9,1439.6 L985.8,1439.8 L987.7,1440.0 L989.9,1440.2 L992.0,1440.4 L994.1,1440.6 L996.3,1440.8 L998.4,1441.0 L1000.5,1441.2 L1002.5,1441.4 L1004.6,1441.5 L1006.7,1441.7 L1008.7,1441.9 L1010.8,1442.0 L1012.8,1442.2 L1014.8,1442.3 L1016.8,1442.5 L1018.8,1442.7 L1020.8,1442.8 L1022.8,1443.0 L1024.8,1443.1 L1026.7,1443.3 L1028.7,1443.4 L1030.6,1443.6 L1032.6,1443.8 L1034.5,1443.9 L1036.4,1444.1 L1038.3,1444.3 L1040.2,1444.4 L1042.1,1444.6 L1044.0,1444.8 L1046.1,1445.0 L1048.2,1445.2 L1050.3,1445.5 L1052.3,1445.7 L1054.4,1445.9 L1056.4,1446.1 L1058.4,1446.4 L1060.4,1446.6 L1062.4,1446.8 L1064.4,1447.1 L1066.4,1447.3 L1068.4,1447.5 L1070.3,1447.8 L1072.3,1448.0 L1074.2,1448.2 L1076.2,1448.5 L1078.1,1448.7 L1080.1,1449.0 L1082.0,1449.2 L1084.0,1449.4 L1085.9,1449.7 L1087.9,1449.9 L1090.0,1450.2 L1092.2,1450.5 L1094.4,1450.8 L1096.6,1451.1 L1098.9,1451.4 L1101.2,1451.7 L1103.4,1452.1 L1105.7,1452.4 L1108.0,1452.8 L1110.2,1453.1 L1112.4,1453.4 L1114.5,1453.7 L1116.6,1454.0 L1118.6,1454.2 L1120.6,1454.5 L1122.5,1454.7 L1124.2,1454.8 L1125.9,1454.9 L1127.5,1455.0 L1128.9,1455.0 L1131.3,1454.9 L1133.2,1454.6 L1134.9,1454.3 L1136.8,1453.9 L1139.2,1453.6 L1140.7,1453.5 L1142.3,1453.4 L1144.0,1453.3 L1145.9,1453.2 L1147.8,1453.1 L1149.9,1453.0 L1152.0,1453.0 L1154.1,1452.9 L1156.3,1452.8 L1158.6,1452.8 L1160.8,1452.7 L1163.1,1452.6 L1165.3,1452.5 L1167.5,1452.5 L1169.7,1452.4 L1171.8,1452.3 L1173.8,1452.2 L1175.8,1452.1 L1178.0,1452.0 L1180.2,1451.8 L1182.4,1451.7 L1184.5,1451.5 L1186.7,1451.4 L1188.8,1451.2 L1190.9,1451.0 L1193.0,1450.9 L1195.1,1450.7 L1197.1,1450.5 L1199.2,1450.4 L1201.2,1450.2 L1203.1,1450.0 L1205.1,1449.9 L1207.2,1449.8 L1209.4,1449.6 L1211.5,1449.5 L1213.5,1449.4 L1215.6,1449.3 L1217.6,1449.2 L1219.6,1449.1 L1221.5,1449.0 L1223.4,1448.8 L1225.3,1448.6 L1227.1,1448.4 L1229.4,1448.0 L1231.6,1447.4 L1233.8,1446.8 L1235.9,1446.2 L1237.9,1445.7 L1239.9,1445.4 L1241.8,1445.5 L1244.0,1446.1 L1246.0,1447.0 L1247.9,1448.2 L1249.9,1449.5 L1252.0,1450.6 L1253.9,1451.5 L1255.9,1452.5 L1258.0,1453.6 L1260.1,1454.5 L1262.2,1455.4 L1264.4,1456.1 L1266.7,1456.5 L1268.7,1456.6 L1270.6,1456.5 L1272.6,1456.2 L1274.6,1455.8 L1276.7,1455.4 L1278.8,1454.9 L1281.0,1454.4 L1283.3,1453.9 L1285.7,1453.6 L1287.4,1453.4 L1289.2,1453.3 L1291.0,1453.1 L1292.9,1453.0 L1294.8,1452.9 L1296.7,1452.7 L1298.7,1452.6 L1300.7,1452.5 L1302.8,1452.4 L1304.8,1452.3 L1306.9,1452.2 L1309.0,1452.1 L1311.2,1452.0 L1313.4,1451.8 L1315.6,1451.7 L1317.8,1451.6 L1320.0,1451.4 L1321.8,1451.3 L1323.6,1451.1 L1325.4,1451.0 L1327.2,1450.8 L1329.1,1450.7 L1331.0,1450.5 L1332.9,1450.3 L1334.8,1450.2 L1336.7,1450.0 L1338.6,1449.8 L1340.6,1449.6 L1342.6,1449.4 L1344.5,1449.3 L1346.5,1449.1 L1348.6,1448.9 L1350.6,1448.7 L1352.6,1448.5 L1354.7,1448.3 L1356.8,1448.1 L1358.9,1447.9 L1361.0,1447.8 L1363.1,1447.6 L1365.2,1447.4 L1367.3,1447.2 L1369.5,1447.0 L1371.6,1446.9 L1373.8,1446.7 L1375.7,1446.6 L1377.5,1446.4 L1379.4,1446.3 L1381.3,1446.1 L1383.2,1446.0 L1385.2,1445.8 L1387.1,1445.7 L1389.1,1445.5 L1391.1,1445.4 L1393.1,1445.2 L1395.1,1445.1 L1397.1,1444.9 L1399.1,1444.8 L1401.2,1444.7 L1403.2,1444.5 L1405.2,1444.4 L1407.3,1444.2 L1409.4,1444.1 L1411.4,1443.9 L1413.5,1443.8 L1415.6,1443.7 L1417.7,1443.5 L1419.8,1443.4 L1421.8,1443.2 L1423.9,1443.1 L1426.0,1443.0 L1428.1,1442.8 L1430.2,1442.7 L1432.3,1442.6 L1434.3,1442.4 L1436.4,1442.3 L1438.5,1442.2 L1440.6,1442.1 L1442.6,1442.0 L1444.7,1441.8 L1446.7,1441.7 L1448.8,1441.6 L1450.8,1441.5 L1452.8,1441.4 L1454.8,1441.3 L1456.9,1441.2 L1458.9,1441.1 L1460.9,1441.0 L1462.9,1440.9 L1465.0,1440.8 L1467.0,1440.7 L1469.0,1440.6 L1471.0,1440.5 L1473.1,1440.4 L1475.1,1440.3 L1477.1,1440.2 L1479.1,1440.2 L1481.2,1440.1 L1483.2,1440.0 L1485.2,1439.9 L1487.2,1439.8 L1489.2,1439.8 L1491.3,1439.7 L1493.3,1439.6 L1495.3,1439.5 L1497.3,1439.5 L1499.4,1439.4 L1501.4,1439.3 L1503.4,1439.2 L1505.4,1439.2 L1507.5,1439.1 L1509.5,1439.0 L1511.5,1439.0 L1513.5,1438.9 L1515.6,1438.9 L1517.6,1438.8 L1519.6,1438.7 L1521.6,1438.7 L1523.7,1438.6 L1525.7,1438.6 L1527.7,1438.5 L1529.7,1438.4 L1531.7,1438.4 L1533.8,1438.3 L1535.8,1438.3 L1537.8,1438.2 L1539.8,1438.2 L1541.9,1438.1 L1543.9,1438.1 L1545.9,1438.0 L1547.9,1438.0 L1550.0,1438.0 L1552.0,1437.9 L1554.0,1437.9 L1556.0,1437.8 L1558.1,1437.8 L1560.1,1437.8 L1562.1,1437.7 L1564.1,1437.7 L1566.1,1437.7 L1568.2,1437.6 L1570.2,1437.6 L1572.2,1437.6 L1574.2,1437.5 L1576.3,1437.5 L1578.3,1437.5 L1580.3,1437.5 L1582.3,1437.4 L1584.4,1437.4 L1586.4,1437.4 L1588.4,1437.4 L1590.4,1437.3 L1592.5,1437.3 L1594.5,1437.3 L1596.5,1437.3 L1598.5,1437.3 L1600.6,1437.2 L1602.6,1437.2 L1604.6,1437.2 L1606.6,1437.2 L1608.6,1437.2 L1610.7,1437.2 L1612.7,1437.1 L1614.7,1437.1 L1616.7,1437.1 L1618.8,1437.1 L1620.8,1437.1 L1622.8,1437.1 L1624.8,1437.1 L1626.8,1437.1 L1628.9,1437.1 L1630.9,1437.1 L1632.9,1437.1 L1634.9,1437.1 L1636.9,1437.1 L1639.0,1437.1 L1641.0,1437.1 L1643.0,1437.1 L1645.0,1437.1 L1647.0,1437.1 L1649.1,1437.1 L1651.1,1437.1 L1653.1,1437.2 L1655.1,1437.2 L1657.2,1437.2 L1659.2,1437.2 L1661.2,1437.2 L1663.2,1437.2 L1665.3,1437.2 L1667.3,1437.2 L1669.3,1437.2 L1671.3,1437.2 L1673.4,1437.2 L1675.4,1437.2 L1677.4,1437.2 L1679.5,1437.2 L1681.5,1437.2 L1683.5,1437.2 L1685.5,1437.2 L1687.5,1437.2 L1689.5,1437.2 L1691.5,1437.2 L1693.4,1437.2 L1695.4,1437.2 L1697.4,1437.2 L1699.4,1437.2 L1701.3,1437.2 L1703.3,1437.2 L1705.3,1437.2 L1707.3,1437.2 L1709.2,1437.2 L1711.2,1437.2 L1713.2,1437.2 L1715.2,1437.2 L1717.2,1437.2 L1719.1,1437.2 L1721.1,1437.2 L1723.1,1437.2 L1725.1,1437.2 L1727.1,1437.2 L1729.1,1437.2 L1731.1,1437.2 L1733.1,1437.1 L1735.2,1437.1 L1737.2,1437.1 L1739.2,1437.1 L1741.2,1437.1 L1743.3,1437.1 L1745.4,1437.1 L1747.4,1437.1 L1749.5,1437.1 L1751.6,1437.1 L1753.7,1437.1 L1755.8,1437.1 L1757.9,1437.1 L1760.0,1437.1 L1761.9,1437.1 L1763.8,1437.1 L1765.8,1437.1 L1767.7,1437.1 L1769.7,1437.1 L1771.7,1437.1 L1773.7,1437.1 L1775.7,1437.1 L1777.7,1437.0 L1779.8,1437.0 L1781.8,1437.0 L1783.9,1437.0 L1785.9,1437.0 L1788.0,1437.0 L1790.1,1437.0 L1792.1,1437.0 L1794.2,1437.0 L1796.3,1437.0 L1798.4,1437.0 L1800.5,1437.0 L1802.6,1437.0 L1804.7,1436.9 L1806.8,1436.9 L1808.9,1436.9 L1811.0,1436.9 L1813.1,1436.9 L1815.2,1436.9 L1817.3,1436.9 L1819.3,1436.9 L1821.4,1436.9 L1823.5,1436.9 L1825.6,1436.9 L1827.6,1436.9 L1829.7,1436.9 L1831.7,1436.8 L1833.7,1436.8 L1835.8,1436.8 L1837.8,1436.8 L1839.8,1436.8 L1841.7,1436.8 L1843.7,1436.8 L1845.7,1436.8 L1847.6,1436.8 L1849.5,1436.8 L1851.4,1436.8 L1853.3,1436.8 L1855.2,1436.8 L1857.1,1436.8 L1858.9,1436.8 L1861.2,1436.8 L1863.5,1436.8 L1865.8,1436.7 L1868.2,1436.7 L1870.6,1436.6 L1873.0,1436.5 L1875.5,1436.4 L1878.0,1436.3 L1880.4,1436.2 L1882.9,1436.1 L1885.4,1436.0 L1887.8,1435.9 L1890.3,1435.7 L1892.7,1435.6 L1895.1,1435.5 L1897.4,1435.4 L1899.7,1435.4 L1902.0,1435.3 L1904.2,1435.2 L1906.3,1435.2 L1908.4,1435.2 L1910.4,1435.2 L1912.4,1435.2 L1914.2,1435.2 L1916.0,1435.3 L1917.6,1435.4 L1919.2,1435.5 L1920.6,1435.7 L1921.9,1435.9 L1923.2,1436.1 L1924.2,1436.4 L1925.2,1436.7 L1926.0,1437.0 L1928.2,1439.3 L1929.5,1441.5 L1931.2,1442.8 L1933.0,1443.5 L1935.6,1443.6 L1938.0,1442.8 L1939.2,1441.0 L1940.0,1438.5 L1941.0,1436.5 L1942.4,1435.2 L1944.0,1434.2 L1945.8,1433.6 L1947.9,1433.3 L1950.0,1433.0 L1952.0,1432.6 L1954.0,1432.2 L1956.0,1432.0 L1958.6,1431.9 L1961.0,1432.3 L1962.7,1434.0 L1964.5,1435.8 L1966.0,1436.3 L1967.8,1436.5 L1969.8,1436.6 L1972.2,1436.6 L1975.0,1436.6 L1976.1,1436.6 L1977.3,1436.6 L1978.6,1436.7 L1980.0,1436.7 L1981.5,1436.7 L1983.0,1436.7 L1984.6,1436.7 L1986.3,1436.6 L1988.0,1436.6 L1989.8,1436.6 L1991.7,1436.6 L1993.6,1436.5 L1995.6,1436.5 L1997.6,1436.5 L1999.6,1436.4 L2001.7,1436.4 L2003.9,1436.3 L2006.1,1436.3 L2008.3,1436.2 L2010.5,1436.1 L2012.8,1436.1 L2015.1,1436.0 L2017.4,1436.0 L2019.8,1435.9 L2022.1,1435.8 L2024.5,1435.8 L2026.8,1435.7 L2029.2,1435.6 L2031.6,1435.6 L2033.9,1435.5 L2036.3,1435.5 L2038.6,1435.4 L2041.0,1435.3 L2043.3,1435.3 L2045.6,1435.2 L2047.9,1435.2 L2050.1,1435.1 L2052.3,1435.1 L2054.5,1435.0 L2056.7,1435.0 L2058.6,1435.0 L2060.6,1434.9 L2062.5,1434.9 L2064.4,1434.9 L2066.4,1434.8 L2068.4,1434.8 L2070.3,1434.7 L2072.3,1434.7 L2074.3,1434.7 L2076.3,1434.6 L2078.3,1434.6 L2080.3,1434.6 L2082.3,1434.5 L2084.3,1434.5 L2086.3,1434.4 L2088.3,1434.4 L2090.3,1434.4 L2092.3,1434.3 L2094.4,1434.3 L2096.4,1434.3 L2098.4,1434.2 L2100.5,1434.2 L2102.5,1434.1 L2104.5,1434.1 L2106.6,1434.1 L2108.6,1434.0 L2110.7,1434.0 L2112.7,1434.0 L2114.8,1433.9 L2116.8,1433.9 L2118.9,1433.9 L2120.9,1433.8 L2123.0,1433.8 L2125.0,1433.8 L2127.1,1433.7 L2129.1,1433.7 L2131.2,1433.7 L2133.2,1433.6 L2135.3,1433.6 L2137.3,1433.6 L2139.3,1433.6 L2141.4,1433.5 L2143.4,1433.5 L2145.5,1433.5 L2147.5,1433.5 L2149.5,1433.5 L2151.6,1433.4 L2153.6,1433.4 L2155.6,1433.4 L2157.6,1433.4 L2159.7,1433.4 L2161.7,1433.4 L2163.8,1433.3 L2165.9,1433.3 L2168.1,1433.3 L2170.2,1433.3 L2172.3,1433.3 L2174.5,1433.3 L2176.6,1433.2 L2178.8,1433.2 L2181.0,1433.2 L2183.2,1433.2 L2185.4,1433.2 L2187.6,1433.2 L2189.8,1433.2 L2192.0,1433.1 L2194.1,1433.1 L2196.3,1433.1 L2198.5,1433.1 L2200.7,1433.1 L2202.9,1433.1 L2205.1,1433.1 L2207.2,1433.1 L2209.4,1433.1 L2211.5,1433.1 L2213.6,1433.1 L2215.7,1433.1 L2217.8,1433.1 L2219.9,1433.1 L2222.0,1433.1 L2224.0,1433.1 L2226.1,1433.1 L2228.1,1433.1 L2230.0,1433.1 L2232.0,1433.1 L2233.9,1433.1 L2235.8,1433.1 L2237.7,1433.1 L2239.5,1433.2 L2241.4,1433.2 L2243.1,1433.2 L2244.9,1433.2 L2246.6,1433.2 L2248.3,1433.3 L2249.9,1433.3 L2251.5,1433.3 L2253.1,1433.4 L2254.6,1433.4 L2257.2,1433.5 L2259.9,1433.6 L2262.6,1433.7 L2265.4,1433.8 L2268.1,1433.9 L2270.8,1434.0 L2273.5,1434.2 L2276.0,1434.3 L2278.4,1434.5 L2280.6,1434.6 L2282.7,1434.7 L2284.5,1434.8 L2286.0,1434.9 L2287.3,1435.0 L2288.2,1435.0 L2288.8,1435.1 L2289.0,1435.1" fill="none" stroke="#00cdcd" stroke-opacity="0.25" stroke-width="8.0" stroke-linejoin="round" stroke-linecap="butt"/>
<path d="M148.3,1420.2 L148.6,1420.2 L149.5,1420.3 L150.9,1420.3 L152.8,1420.4 L154.9,1420.5 L157.4,1420.7 L160.0,1420.8 L162.8,1421.0 L165.6,1421.2 L168.4,1421.4 L171.0,1421.6 L173.5,1421.8 L175.7,1422.0 L177.7,1422.2 L179.8,1422.5 L181.8,1422.7 L183.8,1423.0 L185.7,1423.3 L187.7,1423.6 L189.7,1423.9 L191.6,1424.2 L193.6,1424.6 L195.6,1424.9 L197.5,1425.3 L199.5,1425.6 L201.5,1426.0 L203.5,1426.3 L205.5,1426.7 L207.4,1427.1 L209.4,1427.5 L211.4,1427.9 L213.4,1428.3 L215.4,1428.7 L217.4,1429.1 L219.3,1429.5 L221.3,1430.0 L223.3,1430.4 L225.3,1430.9 L227.3,1431.4 L229.3,1431.9 L231.2,1432.4 L233.2,1432.9 L235.2,1433.5 L237.2,1434.0 L239.1,1434.5 L241.1,1435.0 L243.1,1435.5 L245.1,1435.9 L247.1,1436.3 L249.1,1436.7 L251.1,1437.0 L253.1,1437.3 L255.0,1437.6 L257.0,1437.9 L259.0,1438.1 L261.0,1438.4 L263.0,1438.6 L265.0,1438.8 L267.0,1439.0 L269.0,1439.1 L271.0,1439.3 L273.1,1439.4 L275.3,1439.6 L277.4,1439.6 L279.5,1439.7 L281.6,1439.8 L283.7,1439.8 L285.8,1439.8 L288.0,1439.8 L290.2,1439.9 L292.5,1439.9 L294.8,1439.9 L296.8,1439.9 L298.9,1440.0 L301.1,1440.1 L303.5,1440.3 L305.8,1440.4 L308.2,1440.5 L310.7,1440.7 L313.0,1440.8 L315.4,1440.9 L317.6,1440.9 L319.8,1440.9 L321.8,1440.9 L323.7,1440.7 L325.4,1440.5 L326.9,1440.3 L328.1,1439.9 L330.1,1438.7 L331.3,1437.1 L332.9,1435.7 L334.5,1434.8 L336.3,1433.9 L338.2,1433.0 L340.2,1432.2 L342.4,1431.5 L344.1,1431.0 L346.1,1430.6 L348.1,1430.2 L350.2,1429.8 L352.3,1429.4 L354.4,1429.1 L356.5,1428.7 L358.4,1428.4 L360.2,1428.0 L362.4,1427.5 L364.4,1427.0 L366.3,1426.4 L368.2,1426.0 L370.0,1425.5 L372.6,1424.9 L375.1,1424.4 L377.6,1423.9 L380.1,1423.4 L382.6,1423.0 L385.1,1422.4 L387.1,1421.8 L389.0,1421.1 L390.9,1420.3 L392.7,1419.4 L394.5,1418.2 L396.1,1416.8 L397.7,1415.4 L399.4,1413.8 L401.1,1412.1 L402.7,1410.3 L404.4,1408.4 L406.1,1406.4 L407.8,1404.3 L409.1,1402.6 L410.4,1400.8 L411.6,1399.0 L412.8,1397.2 L413.9,1395.5 L414.9,1393.7 L415.9,1391.9 L416.9,1390.2 L418.1,1388.0 L419.3,1385.8 L420.4,1383.6 L421.4,1381.5 L422.3,1379.4 L423.4,1377.6 L424.9,1375.6 L426.4,1374.6 L428.2,1376.0 L430.0,1378.6 L431.1,1380.6 L432.1,1382.9 L433.0,1385.2 L433.8,1387.0 L434.5,1388.9 L435.3,1390.8 L436.0,1392.7 L436.8,1394.6 L437.5,1396.5 L438.2,1398.4 L439.0,1400.3 L439.8,1402.2 L440.5,1404.0 L441.3,1405.9 L442.0,1407.8 L442.7,1409.7 L443.4,1411.6 L444.0,1413.5 L444.6,1415.4 L445.3,1417.9 L446.0,1420.4 L446.6,1422.9 L447.0,1425.6 L447.4,1428.3 L448.1,1430.5 L449.1,1432.0 L450.6,1433.0 L452.1,1433.3 L454.1,1433.2 L456.3,1433.0 L458.6,1432.7 L460.7,1432.5 L462.7,1432.4 L464.8,1432.4 L466.8,1432.3 L468.8,1432.2 L470.8,1432.0 L473.1,1431.7 L475.2,1431.4 L477.5,1431.0 L480.0,1430.5 L481.8,1430.1 L483.6,1429.5 L485.5,1428.9 L487.5,1428.3 L489.5,1427.6 L491.7,1426.9 L494.0,1426.3 L496.4,1425.6 L499.0,1425.1 L500.6,1424.8 L502.2,1424.5 L504.0,1424.3 L505.8,1424.0 L507.6,1423.7 L509.5,1423.5 L511.5,1423.2 L513.5,1423.0 L515.6,1422.8 L517.7,1422.5 L519.8,1422.3 L522.0,1422.1 L524.1,1421.9 L526.3,1421.7 L528.6,1421.5 L530.8,1421.3 L533.0,1421.2 L535.2,1421.0 L537.4,1420.8 L539.6,1420.7 L541.8,1420.5 L544.0,1420.4 L546.1,1420.2 L548.2,1420.1 L550.3,1420.0 L552.3,1419.9 L554.4,1419.8 L556.4,1419.7 L558.4,1419.6 L560.4,1419.6 L562.3,1419.5 L564.3,1419.4 L566.3,1419.4 L568.3,1419.4 L570.3,1419.3 L572.2,1419.3 L574.2,1419.3 L576.2,1419.3 L578.2,1419.3 L580.2,1419.2 L582.3,1419.2 L584.3,1419.2 L586.4,1419.2 L588.5,1419.2 L590.6,1419.2 L592.7,1419.2 L594.8,1419.2 L597.0,1419.2 L599.3,1419.2 L601.5,1419.2 L603.3,1419.2 L605.1,1419.2 L607.0,1419.2 L608.9,1419.2 L610.8,1419.2 L612.7,1419.2 L614.6,1419.1 L616.5,1419.1 L618.5,1419.1 L620.5,1419.1 L622.4,1419.1 L624.4,1419.1 L626.5,1419.1 L628.5,1419.1 L630.5,1419.1 L632.6,1419.1 L634.6,1419.2 L636.7,1419.2 L638.7,1419.2 L640.8,1419.2 L642.9,1419.2 L644.9,1419.2 L647.0,1419.2 L649.1,1419.2 L651.2,1419.2 L653.3,1419.2 L655.4,1419.2 L657.4,1419.3 L659.5,1419.3 L661.6,1419.3 L663.7,1419.3 L665.7,1419.3 L667.8,1419.4 L669.9,1419.4 L671.9,1419.4 L673.9,1419.4 L676.0,1419.4 L678.0,1419.5 L680.0,1419.5 L682.0,1419.5 L684.1,1419.6 L686.1,1419.6 L688.1,1419.6 L690.2,1419.7 L692.2,1419.7 L694.2,1419.7 L696.3,1419.8 L698.3,1419.8 L700.3,1419.9 L702.3,1419.9 L704.4,1420.0 L706.4,1420.0 L708.4,1420.0 L710.5,1420.1 L712.5,1420.1 L714.5,1420.2 L716.5,1420.2 L718.6,1420.3 L720.6,1420.3 L722.6,1420.4 L724.6,1420.5 L726.6,1420.5 L728.7,1420.6 L730.7,1420.6 L732.7,1420.7 L734.7,1420.7 L736.8,1420.8 L738.8,1420.8 L740.8,1420.9 L742.8,1420.9 L744.9,1421.0 L746.9,1421.0 L748.9,1421.1 L750.9,1421.1 L753.0,1421.2 L755.0,1421.2 L757.0,1421.3 L759.0,1421.3 L761.0,1421.4 L763.1,1421.4 L765.1,1421.5 L767.1,1421.5 L769.1,1421.5 L771.2,1421.6 L773.2,1421.6 L775.2,1421.6 L777.2,1421.7 L779.2,1421.7 L781.3,1421.7 L783.3,1421.8 L785.3,1421.8 L787.3,1421.8 L789.3,1421.8 L791.4,1421.9 L793.4,1421.9 L795.4,1421.9 L797.4,1422.0 L799.5,1422.0 L801.5,1422.0 L803.5,1422.1 L805.5,1422.1 L807.5,1422.2 L809.6,1422.2 L811.6,1422.3 L813.6,1422.4 L815.6,1422.4 L817.6,1422.5 L819.7,1422.6 L821.7,1422.7 L823.7,1422.8 L825.7,1422.8 L827.7,1423.0 L829.8,1423.1 L831.8,1423.2 L833.8,1423.3 L835.8,1423.4 L837.9,1423.6 L839.9,1423.7 L841.9,1423.9 L843.9,1424.0 L846.0,1424.2 L848.0,1424.4 L850.0,1424.5 L852.0,1424.7 L854.1,1424.9 L856.1,1425.1 L858.1,1425.3 L860.2,1425.5 L862.2,1425.7 L864.2,1425.9 L866.2,1426.1 L868.3,1426.3 L870.3,1426.5 L872.3,1426.7 L874.3,1426.9 L876.4,1427.2 L878.4,1427.4 L880.4,1427.6 L882.4,1427.8 L884.5,1428.1 L886.5,1428.3 L888.5,1428.5 L890.5,1428.7 L892.6,1429.0 L894.6,1429.2 L896.6,1429.4 L898.6,1429.7 L900.7,1429.9 L902.7,1430.1 L904.7,1430.3 L906.8,1430.6 L908.8,1430.8 L910.8,1431.0 L912.8,1431.2 L914.9,1431.4 L916.9,1431.7 L919.0,1431.9 L921.0,1432.1 L923.1,1432.4 L925.1,1432.6 L927.2,1432.9 L929.3,1433.1 L931.3,1433.4 L933.4,1433.6 L935.5,1433.9 L937.6,1434.1 L939.6,1434.4 L941.7,1434.6 L943.8,1434.9 L945.9,1435.1 L947.9,1435.4 L950.0,1435.6 L952.1,1435.9 L954.1,1436.2 L956.2,1436.4 L958.2,1436.6 L960.2,1436.9 L962.3,1437.1 L964.3,1437.4 L966.3,1437.6 L968.3,1437.9 L970.3,1438.1 L972.3,1438.3 L974.3,1438.5 L976.2,1438.8 L978.2,1439.0 L980.1,1439.2 L982.0,1439.4 L983.9,1439.6 L985.8,1439.8 L987.7,1440.0 L989.9,1440.2 L992.0,1440.4 L994.1,1440.6 L996.3,1440.8 L998.4,1441.0 L1000.5,1441.2 L1002.5,1441.4 L1004.6,1441.5 L1006.7,1441.7 L1008.7,1441.9 L1010.8,1442.0 L1012.8,1442.2 L1014.8,1442.3 L1016.8,1442.5 L1018.8,1442.7 L1020.8,1442.8 L1022.8,1443.0 L1024.8,1443.1 L1026.7,1443.3 L1028.7,1443.4 L1030.6,1443.6 L1032.6,1443.8 L1034.5,1443.9 L1036.4,1444.1 L1038.3,1444.3 L1040.2,1444.4 L1042.1,1444.6 L1044.0,1444.8 L1046.1,1445.0 L1048.2,1445.2 L1050.3,1445.5 L1052.3,1445.7 L1054.4,1445.9 L1056.4,1446.1 L1058.4,1446.4 L1060.4,1446.6 L1062.4,1446.8 L1064.4,1447.1 L1066.4,1447.3 L1068.4,1447.5 L1070.3,1447.8 L1072.3,1448.0 L1074.2,1448.2 L1076.2,1448.5 L1078.1,1448.7 L1080.1,1449.0 L1082.0,1449.2 L1084.0,1449.4 L1085.9,1449.7 L1087.9,1449.9 L1090.0,1450.2 L1092.2,1450.5 L1094.4,1450.8 L1096.6,1451.1 L1098.9,1451.4 L1101.2,1451.7 L1103.4,1452.1 L1105.7,1452.4 L1108.0,1452.8 L1110.2,1453.1 L1112.4,1453.4 L1114.5,1453.7 L1116.6,1454.0 L1118.6,1454.2 L1120.6,1454.5 L1122.5,1454.7 L1124.2,1454.8 L1125.9,1454.9 L1127.5,1455.0 L1128.9,1455.0 L1131.3,1454.9 L1133.2,1454.6 L1134.9,1454.3 L1136.8,1453.9 L1139.2,1453.6 L1140.7,1453.5 L1142.3,1453.4 L1144.0,1453.3 L1145.9,1453.2 L1147.8,1453.1 L1149.9,1453.0 L1152.0,1453.0 L1154.1,1452.9 L1156.3,1452.8 L1158.6,1452.8 L1160.8,1452.7 L1163.1,1452.6 L1165.3,1452.5 L1167.5,1452.5 L1169.7,1452.4 L1171.8,1452.3 L1173.8,1452.2 L1175.8,1452.1 L1178.0,1452.0 L1180.2,1451.8 L1182.4,1451.7 L1184.5,1451.5 L1186.7,1451.4 L1188.8,1451.2 L1190.9,1451.0 L1193.0,1450.9 L1195.1,1450.7 L1197.1,1450.5 L1199.2,1450.4 L1201.2,1450.2 L1203.1,1450.0 L1205.1,1449.9 L1207.2,1449.8 L1209.4,1449.6 L1211.5,1449.5 L1213.5,1449.4 L1215.6,1449.3 L1217.6,1449.2 L1219.6,1449.1 L1221.5,1449.0 L1223.4,1448.8 L1225.3,1448.6 L1227.1,1448.4 L1229.4,1448.0 L1231.6,1447.4 L1233.8,1446.8 L1235.9,1446.2 L1237.9,1445.7 L1239.9,1445.4 L1241.8,1445.5 L1244.0,1446.1 L1246.0,1447.0 L1247.9,1448.2 L1249.9,1449.5 L1252.0,1450.6 L1253.9,1451.5 L1255.9,1452.5 L1258.0,1453.6 L1260.1,1454.5 L1262.2,1455.4 L1264.4,1456.1 L1266.7,1456.5 L1268.7,1456.6 L1270.6,1456.5 L1272.6,1456.2 L1274.6,1455.8 L1276.7,1455.4 L1278.8,1454.9 L1281.0,1454.4 L1283.3,1453.9 L1285.7,1453.6 L1287.4,1453.4 L1289.2,1453.3 L1291.0,1453.1 L1292.9,1453.0 L1294.8,1452.9 L1296.7,1452.7 L1298.7,1452.6 L1300.7,1452.5 L1302.8,1452.4 L1304.8,1452.3 L1306.9,1452.2 L1309.0,1452.1 L1311.2,1452.0 L1313.4,1451.8 L1315.6,1451.7 L1317.8,1451.6 L1320.0,1451.4 L1321.8,1451.3 L1323.6,1451.1 L1325.4,1451.0 L1327.2,1450.8 L1329.1,1450.7 L1331.0,1450.5 L1332.9,1450.3 L1334.8,1450.2 L1336.7,1450.0 L1338.6,1449.8 L1340.6,1449.6 L1342.6,1449.4 L1344.5,1449.3 L1346.5,1449.1 L1348.6,1448.9 L1350.6,1448.7 L1352.6,1448.5 L1354.7,1448.3 L1356.8,1448.1 L1358.9,1447.9 L1361.0,1447.8 L1363.1,1447.6 L1365.2,1447.4 L1367.3,1447.2 L1369.5,1447.0 L1371.6,1446.9 L1373.8,1446.7 L1375.7,1446.6 L1377.5,1446.4 L1379.4,1446.3 L1381.3,1446.1 L1383.2,1446.0 L1385.2,1445.8 L1387.1,1445.7 L1389.1,1445.5 L1391.1,1445.4 L1393.1,1445.2 L1395.1,1445.1 L1397.1,1444.9 L1399.1,1444.8 L1401.2,1444.7 L1403.2,1444.5 L1405.2,1444.4 L1407.3,1444.2 L1409.4,1444.1 L1411.4,1443.9 L1413.5,1443.8 L1415.6,1443.7 L1417.7,1443.5 L1419.8,1443.4 L1421.8,1443.2 L1423.9,1443.1 L1426.0,1443.0 L1428.1,1442.8 L1430.2,1442.7 L1432.3,1442.6 L1434.3,1442.4 L1436.4,1442.3 L1438.5,1442.2 L1440.6,1442.1 L1442.6,1442.0 L1444.7,1441.8 L1446.7,1441.7 L1448.8,1441.6 L1450.8,1441.5 L1452.8,1441.4 L1454.8,1441.3 L1456.9,1441.2 L1458.9,1441.1 L1460.9,1441.0 L1462.9,1440.9 L1465.0,1440.8 L1467.0,1440.7 L1469.0,1440.6 L1471.0,1440.5 L1473.1,1440.4 L1475.1,1440.3 L1477.1,1440.2 L1479.1,1440.2 L1481.2,1440.1 L1483.2,1440.0 L1485.2,1439.9 L1487.2,1439.8 L1489.2,1439.8 L1491.3,1439.7 L1493.3,1439.6 L1495.3,1439.5 L1497.3,1439.5 L1499.4,1439.4 L1501.4,1439.3 L1503.4,1439.2 L1505.4,1439.2 L1507.5,1439.1 L1509.5,1439.0 L1511.5,1439.0 L1513.5,1438.9 L1515.6,1438.9 L1517.6,1438.8 L1519.6,1438.7 L1521.6,1438.7 L1523.7,1438.6 L1525.7,1438.6 L1527.7,1438.5 L1529.7,1438.4 L1531.7,1438.4 L1533.8,1438.3 L1535.8,1438.3 L1537.8,1438.2 L1539.8,1438.2 L1541.9,1438.1 L1543.9,1438.1 L1545.9,1438.0 L1547.9,1438.0 L1550.0,1438.0 L1552.0,1437.9 L1554.0,1437.9 L1556.0,1437.8 L1558.1,1437.8 L1560.1,1437.8 L1562.1,1437.7 L1564.1,1437.7 L1566.1,1437.7 L1568.2,1437.6 L1570.2,1437.6 L1572.2,1437.6 L1574.2,1437.5 L1576.3,1437.5 L1578.3,1437.5 L1580.3,1437.5 L1582.3,1437.4 L1584.4,1437.4 L1586.4,1437.4 L1588.4,1437.4 L1590.4,1437.3 L1592.5,1437.3 L1594.5,1437.3 L1596.5,1437.3 L1598.5,1437.3 L1600.6,1437.2 L1602.6,1437.2 L1604.6,1437.2 L1606.6,1437.2 L1608.6,1437.2 L1610.7,1437.2 L1612.7,1437.1 L1614.7,1437.1 L1616.7,1437.1 L1618.8,1437.1 L1620.8,1437.1 L1622.8,1437.1 L1624.8,1437.1 L1626.8,1437.1 L1628.9,1437.1 L1630.9,1437.1 L1632.9,1437.1 L1634.9,1437.1 L1636.9,1437.1 L1639.0,1437.1 L1641.0,1437.1 L1643.0,1437.1 L1645.0,1437.1 L1647.0,1437.1 L1649.1,1437.1 L1651.1,1437.1 L1653.1,1437.2 L1655.1,1437.2 L1657.2,1437.2 L1659.2,1437.2 L1661.2,1437.2 L1663.2,1437.2 L1665.3,1437.2 L1667.3,1437.2 L1669.3,1437.2 L1671.3,1437.2 L1673.4,1437.2 L1675.4,1437.2 L1677.4,1437.2 L1679.5,1437.2 L1681.5,1437.2 L1683.5,1437.2 L1685.5,1437.2 L1687.5,1437.2 L1689.5,1437.2 L1691.5,1437.2 L1693.4,1437.2 L1695.4,1437.2 L1697.4,1437.2 L1699.4,1437.2 L1701.3,1437.2 L1703.3,1437.2 L1705.3,1437.2 L1707.3,1437.2 L1709.2,1437.2 L1711.2,1437.2 L1713.2,1437.2 L1715.2,1437.2 L1717.2,1437.2 L1719.1,1437.2 L1721.1,1437.2 L1723.1,1437.2 L1725.1,1437.2 L1727.1,1437.2 L1729.1,1437.2 L1731.1,1437.2 L1733.1,1437.1 L1735.2,1437.1 L1737.2,1437.1 L1739.2,1437.1 L1741.2,1437.1 L1743.3,1437.1 L1745.4,1437.1 L1747.4,1437.1 L1749.5,1437.1 L1751.6,1437.1 L1753.7,1437.1 L1755.8,1437.1 L1757.9,1437.1 L1760.0,1437.1 L1761.9,1437.1 L1763.8,1437.1 L1765.8,1437.1 L1767.7,1437.1 L1769.7,1437.1 L1771.7,1437.1 L1773.7,1437.1 L1775.7,1437.1 L1777.7,1437.0 L1779.8,1437.0 L1781.8,1437.0 L1783.9,1437.0 L1785.9,1437.0 L1788.0,1437.0 L1790.1,1437.0 L1792.1,1437.0 L1794.2,1437.0 L1796.3,1437.0 L1798.4,1437.0 L1800.5,1437.0 L1802.6,1437.0 L1804.7,1436.9 L1806.8,1436.9 L1808.9,1436.9 L1811.0,1436.9 L1813.1,1436.9 L1815.2,1436.9 L1817.3,1436.9 L1819.3,1436.9 L1821.4,1436.9 L1823.5,1436.9 L1825.6,1436.9 L1827.6,1436.9 L1829.7,1436.9 L1831.7,1436.8 L1833.7,1436.8 L1835.8,1436.8 L1837.8,1436.8 L1839.8,1436.8 L1841.7,1436.8 L1843.7,1436.8 L1845.7,1436.8 L1847.6,1436.8 L1849.5,1436.8 L1851.4,1436.8 L1853.3,1436.8 L1855.2,1436.8 L1857.1,1436.8 L1858.9,1436.8 L1861.2,1436.8 L1863.5,1436.8 L1865.8,1436.7 L1868.2,1436.7 L1870.6,1436.6 L1873.0,1436.5 L1875.5,1436.4 L1878.0,1436.3 L1880.4,1436.2 L1882.9,1436.1 L1885.4,1436.0 L1887.8,1435.9 L1890.3,1435.7 L1892.7,1435.6 L1895.1,1435.5 L1897.4,1435.4 L1899.7,1435.4 L1902.0,1435.3 L1904.2,1435.2 L1906.3,1435.2 L1908.4,1435.2 L1910.4,1435.2 L1912.4,1435.2 L1914.2,1435.2 L1916.0,1435.3 L1917.6,1435.4 L1919.2,1435.5 L1920.6,1435.7 L1921.9,1435.9 L1923.2,1436.1 L1924.2,1436.4 L1925.2,1436.7 L1926.0,1437.0 L1928.2,1439.3 L1929.5,1441.5 L1931.2,1442.8 L1933.0,1443.5 L1935.6,1443.6 L1938.0,1442.8 L1939.2,1441.0 L1940.0,1438.5 L1941.0,1436.5 L1942.4,1435.2 L1944.0,1434.2 L1945.8,1433.6 L1947.9,1433.3 L1950.0,1433.0 L1952.0,1432.6 L1954.0,1432.2 L1956.0,1432.0 L1958.6,1431.9 L1961.0,1432.3 L1962.7,1434.0 L1964.5,1435.8 L1966.0,1436.3 L1967.8,1436.5 L1969.8,1436.6 L1972.2,1436.6 L1975.0,1436.6 L1976.1,1436.6 L1977.3,1436.6 L1978.6,1436.7 L1980.0,1436.7 L1981.5,1436.7 L1983.0,1436.7 L1984.6,1436.7 L1986.3,1436.6 L1988.0,1436.6 L1989.8,1436.6 L1991.7,1436.6 L1993.6,1436.5 L1995.6,1436.5 L1997.6,1436.5 L1999.6,1436.4 L2001.7,1436.4 L2003.9,1436.3 L2006.1,1436.3 L2008.3,1436.2 L2010.5,1436.1 L2012.8,1436.1 L2015.1,1436.0 L2017.4,1436.0 L2019.8,1435.9 L2022.1,1435.8 L2024.5,1435.8 L2026.8,1435.7 L2029.2,1435.6 L2031.6,1435.6 L2033.9,1435.5 L2036.3,1435.5 L2038.6,1435.4 L2041.0,1435.3 L2043.3,1435.3 L2045.6,1435.2 L2047.9,1435.2 L2050.1,1435.1 L2052.3,1435.1 L2054.5,1435.0 L2056.7,1435.0 L2058.6,1435.0 L2060.6,1434.9 L2062.5,1434.9 L2064.4,1434.9 L2066.4,1434.8 L2068.4,1434.8 L2070.3,1434.7 L2072.3,1434.7 L2074.3,1434.7 L2076.3,1434.6 L2078.3,1434.6 L2080.3,1434.6 L2082.3,1434.5 L2084.3,1434.5 L2086.3,1434.4 L2088.3,1434.4 L2090.3,1434.4 L2092.3,1434.3 L2094.4,1434.3 L2096.4,1434.3 L2098.4,1434.2 L2100.5,1434.2 L2102.5,1434.1 L2104.5,1434.1 L2106.6,1434.1 L2108.6,1434.0 L2110.7,1434.0 L2112.7,1434.0 L2114.8,1433.9 L2116.8,1433.9 L2118.9,1433.9 L2120.9,1433.8 L2123.0,1433.8 L2125.0,1433.8 L2127.1,1433.7 L2129.1,1433.7 L2131.2,1433.7 L2133.2,1433.6 L2135.3,1433.6 L2137.3,1433.6 L2139.3,1433.6 L2141.4,1433.5 L2143.4,1433.5 L2145.5,1433.5 L2147.5,1433.5 L2149.5,1433.5 L2151.6,1433.4 L2153.6,1433.4 L2155.6,1433.4 L2157.6,1433.4 L2159.7,1433.4 L2161.7,1433.4 L2163.8,1433.3 L2165.9,1433.3 L2168.1,1433.3 L2170.2,1433.3 L2172.3,1433.3 L2174.5,1433.3 L2176.6,1433.2 L2178.8,1433.2 L2181.0,1433.2 L2183.2,1433.2 L2185.4,1433.2 L2187.6,1433.2 L2189.8,1433.2 L2192.0,1433.1 L2194.1,1433.1 L2196.3,1433.1 L2198.5,1433.1 L2200.7,1433.1 L2202.9,1433.1 L2205.1,1433.1 L2207.2,1433.1 L2209.4,1433.1 L2211.5,1433.1 L2213.6,1433.1 L2215.7,1433.1 L2217.8,1433.1 L2219.9,1433.1 L2222.0,1433.1 L2224.0,1433.1 L2226.1,1433.1 L2228.1,1433.1 L2230.0,1433.1 L2232.0,1433.1 L2233.9,1433.1 L2235.8,1433.1 L2237.7,1433.1 L2239.5,1433.2 L2241.4,1433.2 L2243.1,1433.2 L2244.9,1433.2 L2246.6,1433.2 L2248.3,1433.3 L2249.9,1433.3 L2251.5,1433.3 L2253.1,1433.4 L2254.6,1433.4 L2257.2,1433.5 L2259.9,1433.6 L2262.6,1433.7 L2265.4,1433.8 L2268.1,1433.9 L2270.8,1434.0 L2273.5,1434.2 L2276.0,1434.3 L2278.4,1434.5 L2280.6,1434.6 L2282.7,1434.7 L2284.5,1434.8 L2286.0,1434.9 L2287.3,1435.0 L2288.2,1435.0 L2288.8,1435.1 L2289.0,1435.1" fill="none" stroke="#00cdcd" stroke-width="5.4" stroke-linejoin="round" stroke-linecap="butt"/>
</g>
<g id="vlines">
<line x1="462.5" y1="175" x2="462.5" y2="1449" stroke="#2a2a2a" stroke-width="3" stroke-dasharray="15 5 4 4.9"/>
<line x1="465.5" y1="175" x2="465.5" y2="1449" stroke="#6c6c6c" stroke-width="3" stroke-dasharray="15 5 4 4.9"/>
<line x1="1186.3" y1="281" x2="1186.3" y2="1488" stroke="#2a2a2a" stroke-width="3" stroke-dasharray="15 5 4 4.9"/>
<line x1="1189.3" y1="281" x2="1189.3" y2="1488" stroke="#6c6c6c" stroke-width="3" stroke-dasharray="15 5 4 4.9"/>
<line x1="1774.6" y1="379.5" x2="1774.6" y2="777.2" stroke="#161616" stroke-width="4.2" stroke-dasharray="15 5 4 4.9"/>
</g>
<g fill="#000">
<text class="greek" font-size="65" text-anchor="start" transform="translate(427.8,152.8) scale(1.175,1.0)" stroke="#fdfdfd" stroke-width="1.3">α</text>
<text class="greek" font-size="64.2" text-anchor="start" transform="translate(1159.4,251.0) scale(1.176,1.0)" stroke="#fdfdfd" stroke-width="1.0">β</text>
<text class="greek" font-size="64.9" text-anchor="start" transform="translate(1755.3,335.5) scale(1.017,1.0)" stroke="#fdfdfd" stroke-width="1.3">γ</text>
</g>
<rect x="147.5" y="42.8" width="2145.2" height="1498.4" fill="none" stroke="#000" stroke-width="5.8"/>
<g id="ticks">
<line x1="147.5" y1="1541.2" x2="147.5" y2="1569.5" stroke="#000" stroke-width="5.6"/>
<line x1="415.6" y1="1541.2" x2="415.6" y2="1569.5" stroke="#000" stroke-width="5.6"/>
<line x1="683.8" y1="1541.2" x2="683.8" y2="1569.5" stroke="#000" stroke-width="5.6"/>
<line x1="951.9" y1="1541.2" x2="951.9" y2="1569.5" stroke="#000" stroke-width="5.6"/>
<line x1="1220.1" y1="1541.2" x2="1220.1" y2="1569.5" stroke="#000" stroke-width="5.6"/>
<line x1="1488.2" y1="1541.2" x2="1488.2" y2="1569.5" stroke="#000" stroke-width="5.6"/>
<line x1="1756.4" y1="1541.2" x2="1756.4" y2="1569.5" stroke="#000" stroke-width="5.6"/>
<line x1="2024.5" y1="1541.2" x2="2024.5" y2="1569.5" stroke="#000" stroke-width="5.6"/>
<line x1="2292.7" y1="1541.2" x2="2292.7" y2="1569.5" stroke="#000" stroke-width="5.6"/>
<line x1="281.6" y1="1541.2" x2="281.6" y2="1555" stroke="#000" stroke-width="5.4"/>
<line x1="549.7" y1="1541.2" x2="549.7" y2="1555" stroke="#000" stroke-width="5.4"/>
<line x1="817.9" y1="1541.2" x2="817.9" y2="1555" stroke="#000" stroke-width="5.4"/>
<line x1="1086.0" y1="1541.2" x2="1086.0" y2="1555" stroke="#000" stroke-width="5.4"/>
<line x1="1354.2" y1="1541.2" x2="1354.2" y2="1555" stroke="#000" stroke-width="5.4"/>
<line x1="1622.3" y1="1541.2" x2="1622.3" y2="1555" stroke="#000" stroke-width="5.4"/>
<line x1="1890.5" y1="1541.2" x2="1890.5" y2="1555" stroke="#000" stroke-width="5.4"/>
<line x1="2158.6" y1="1541.2" x2="2158.6" y2="1555" stroke="#000" stroke-width="5.4"/>
</g>
<g fill="#000">
<text class="sans" font-size="75.3" text-anchor="middle" transform="translate(147.5,1649.8) scale(1.0,1.06)" stroke="#fdfdfd" stroke-width="0.9">300</text>
<text class="sans" font-size="75.3" text-anchor="middle" transform="translate(415.6,1649.8) scale(1.0,1.06)" stroke="#fdfdfd" stroke-width="0.9">500</text>
<text class="sans" font-size="75.3" text-anchor="middle" transform="translate(683.8,1649.8) scale(1.0,1.06)" stroke="#fdfdfd" stroke-width="0.9">700</text>
<text class="sans" font-size="75.3" text-anchor="middle" transform="translate(951.9,1649.8) scale(1.0,1.06)" stroke="#fdfdfd" stroke-width="0.9">900</text>
<text class="sans" font-size="75.3" text-anchor="middle" transform="translate(1220.1,1649.8) scale(1.0,1.06)" stroke="#fdfdfd" stroke-width="0.9">1100</text>
<text class="sans" font-size="75.3" text-anchor="middle" transform="translate(1488.2,1649.8) scale(1.0,1.06)" stroke="#fdfdfd" stroke-width="0.9">900</text>
<text class="sans" font-size="75.3" text-anchor="middle" transform="translate(1756.4,1649.8) scale(1.0,1.06)" stroke="#fdfdfd" stroke-width="0.9">700</text>
<text class="sans" font-size="75.3" text-anchor="middle" transform="translate(2024.5,1649.8) scale(1.0,1.06)" stroke="#fdfdfd" stroke-width="0.9">500</text>
<text class="sans" font-size="75.3" text-anchor="middle" transform="translate(2292.7,1649.8) scale(1.0,1.06)" stroke="#fdfdfd" stroke-width="0.9">300</text>
<rect x="1141.1" y="1642.3" width="14.66" height="9.5" fill="#fdfdfd"/>
<rect x="1161.43" y="1642.3" width="13.7" height="9.5" fill="#fdfdfd"/>
<rect x="1183.0" y="1642.3" width="14.66" height="9.5" fill="#fdfdfd"/>
<rect x="1203.31" y="1642.3" width="13.7" height="9.5" fill="#fdfdfd"/>
</g>
<g fill="#000">
<text class="sans" font-size="55.6" text-anchor="end" transform="translate(2263.0,492.0) scale(1.0,1.045)" stroke="#fdfdfd" stroke-width="0.9">Pt/CZL</text>
<text class="sans" font-size="55.6" text-anchor="end" transform="translate(2263.0,674.5) scale(1.0,1.045)" stroke="#fdfdfd" stroke-width="0.9">Pd/CZL</text>
<text class="sans" font-size="55.6" text-anchor="end" transform="translate(2263.0,853.7) scale(1.0,1.045)" stroke="#fdfdfd" stroke-width="0.9">0.6Pt-0.4Pd/CZL</text>
<text class="sans" font-size="55.6" text-anchor="end" transform="translate(2261.0,991.6) scale(1.0,1.045)" stroke="#fdfdfd" stroke-width="0.9">0.6Pt-0.4Pd/CZL-a</text>
<text class="sans" font-size="55.6" text-anchor="end" transform="translate(2265.0,1164.0) scale(1.0,1.045)" stroke="#fdfdfd" stroke-width="0.9">0.6Pt-0.4Pd/CZL-a(R700)</text>
<text class="sans" font-size="55.6" text-anchor="end" transform="translate(2265.0,1400.0) scale(1.0,1.045)" stroke="#fdfdfd" stroke-width="0.9">0.6Pt-0.4Pd/CZL-a(R550)</text>
</g>
<text class="sans" font-size="91.2" transform="translate(0,1787) scale(1,1.045)"><tspan x="861.7" y="0">Temperature </tspan><tspan x="1407.3" y="0" stroke="#fdfdfd" stroke-width="1.2">(</tspan><tspan x="1436.7" y="11.5" font-size="105" stroke="#fdfdfd" stroke-width="1.6">°</tspan><tspan x="1474.4" y="0" stroke="#fdfdfd" stroke-width="1.2">C</tspan><tspan x="1545.2" y="0" stroke="#fdfdfd" stroke-width="1.2">)</tspan></text>
<text class="sans" font-size="84.4" text-anchor="start" transform="translate(82,1257.5) rotate(-90) scale(1,1.05)">Oxygen Production (a.u.)</text>
</svg>
</body></html>
